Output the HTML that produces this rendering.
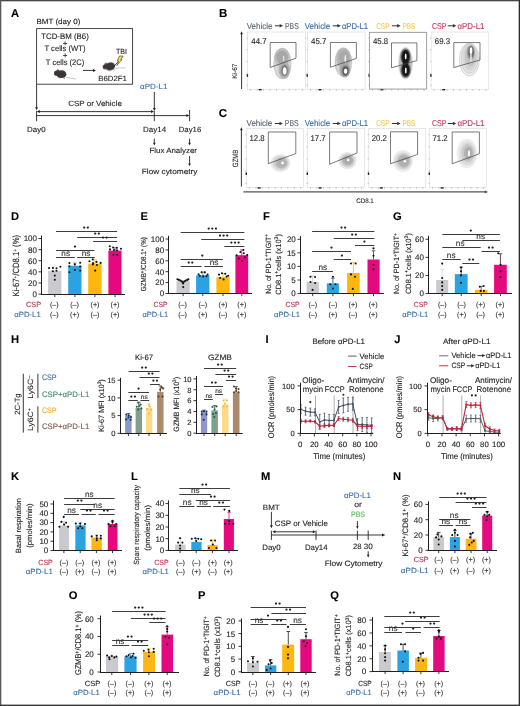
<!DOCTYPE html>
<html><head><meta charset="utf-8"><title>Figure</title>
<style>
html,body{margin:0;padding:0;background:#fff;}
body{width:520px;height:706px;overflow:hidden;}
svg{display:block;font-family:"Liberation Sans", sans-serif;will-change:transform;text-rendering:geometricPrecision;}
</style></head>
<body>
<svg width="520" height="706" viewBox="0 0 520 706">
<rect x="0" y="0" width="520" height="706" fill="#fff"/>
<defs><filter id="bl35" x="-40%" y="-40%" width="180%" height="180%"><feGaussianBlur stdDeviation="0.35"/></filter><filter id="bl55" x="-40%" y="-40%" width="180%" height="180%"><feGaussianBlur stdDeviation="0.55"/></filter><filter id="bl60" x="-40%" y="-40%" width="180%" height="180%"><feGaussianBlur stdDeviation="0.60"/></filter><filter id="bl70" x="-40%" y="-40%" width="180%" height="180%"><feGaussianBlur stdDeviation="0.70"/></filter></defs>
<text x="11.00" y="16.60" font-size="11.2" fill="#000" stroke="#000" stroke-width="0.1" font-weight="bold">A</text>
<text x="36.40" y="23.80" font-size="7.4" fill="#231f20" stroke="#231f20" stroke-width="0.12" textLength="44.00" lengthAdjust="spacingAndGlyphs">BMT (day 0)</text>
<rect x="36.6" y="28.6" width="96" height="55.6" fill="none" stroke="#333" stroke-width="0.9"/>
<text x="65.00" y="38.80" font-size="8.0" fill="#231f20" stroke="#231f20" stroke-width="0.12" text-anchor="middle" textLength="47.50" lengthAdjust="spacingAndGlyphs">TCD-BM (B6)</text>
<text x="65.00" y="45.60" font-size="8.0" fill="#231f20" stroke="#231f20" stroke-width="0.12" text-anchor="middle">+</text>
<text x="65.00" y="51.30" font-size="8.0" fill="#231f20" stroke="#231f20" stroke-width="0.12" text-anchor="middle" textLength="41.20" lengthAdjust="spacingAndGlyphs">T cells (WT)</text>
<text x="65.00" y="58.20" font-size="8.0" fill="#231f20" stroke="#231f20" stroke-width="0.12" text-anchor="middle">+</text>
<text x="65.00" y="64.50" font-size="8.0" fill="#231f20" stroke="#231f20" stroke-width="0.12" text-anchor="middle" textLength="38.30" lengthAdjust="spacingAndGlyphs">T cells (2C)</text>
<g transform="translate(54.00,69.20) rotate(0.0) scale(1.0)" filter="url(#bl35)"><path d="M11.6,8.2 C14.5,8.8 17.5,8.6 22.0,10.0" fill="none" stroke="#b9a5a8" stroke-width="0.7"/><ellipse cx="7.4" cy="5.0" rx="5.0" ry="3.9" fill="#3d3536"/><ellipse cx="3.0" cy="4.0" rx="3.0" ry="2.6" fill="#3d3536"/><ellipse cx="3.8" cy="1.6" rx="1.3" ry="1.2" fill="#4a4243"/><path d="M0.6,4.8 L0.0,5.6 L1.6,5.6 Z" fill="#3d3536"/><path d="M4.5,8.2 L5.5,9.0 M9.5,8.6 L10.8,9.2" stroke="#3d3536" stroke-width="0.8"/></g>
<line x1="83.00" y1="70.40" x2="93.50" y2="70.40" stroke="#231f20" stroke-width="0.9"/>
<path d="M93.00,68.90 L93.00,71.90 L96.00,70.40 Z" fill="#231f20" stroke="none" stroke-width="0.8"/>
<g transform="translate(101.80,63.40) rotate(-14) scale(1.0)" filter="url(#bl35)"><path d="M11.6,8.2 C14.5,8.8 17.5,8.6 22.0,10.0" fill="none" stroke="#b9a5a8" stroke-width="0.7"/><ellipse cx="7.4" cy="5.0" rx="5.0" ry="3.9" fill="#3d3536"/><ellipse cx="3.0" cy="4.0" rx="3.0" ry="2.6" fill="#3d3536"/><ellipse cx="3.8" cy="1.6" rx="1.3" ry="1.2" fill="#4a4243"/><path d="M0.6,4.8 L0.0,5.6 L1.6,5.6 Z" fill="#3d3536"/><path d="M4.5,8.2 L5.5,9.0 M9.5,8.6 L10.8,9.2" stroke="#3d3536" stroke-width="0.8"/></g>
<line x1="113.60" y1="66.60" x2="117.60" y2="62.20" stroke="#222" stroke-width="0.8"/>
<path d="M119.4,56.0 L123.2,56.0 L120.8,59.6 L122.0,59.6 L116.8,65.6 L118.6,61.2 L117.2,61.2 Z" fill="#efe04a" stroke="#222" stroke-width="0.55"/>
<text x="121.50" y="53.60" font-size="7.4" fill="#231f20" stroke="#231f20" stroke-width="0.12" text-anchor="middle" textLength="11.00" lengthAdjust="spacingAndGlyphs">TBI</text>
<text x="112.60" y="81.30" font-size="7.6" fill="#231f20" stroke="#231f20" stroke-width="0.12" text-anchor="middle" textLength="28.80" lengthAdjust="spacingAndGlyphs">B6D2F1</text>
<line x1="36.60" y1="84.20" x2="36.60" y2="107.70" stroke="#231f20" stroke-width="0.9"/>
<path d="M35.20,107.20 L38.00,107.20 L36.60,110.20 Z" fill="#231f20" stroke="none" stroke-width="0.8"/>
<text x="153.80" y="89.40" font-size="7.6" fill="#3b6fae" stroke="#3b6fae" stroke-width="0.12" text-anchor="middle" textLength="27.50" lengthAdjust="spacingAndGlyphs">&#945;PD-L1</text>
<line x1="154.30" y1="92.00" x2="154.30" y2="108.50" stroke="#231f20" stroke-width="0.9"/>
<path d="M152.90,108.00 L155.70,108.00 L154.30,111.00 Z" fill="#231f20" stroke="none" stroke-width="0.8"/>
<text x="95.00" y="106.00" font-size="7.6" fill="#231f20" stroke="#231f20" stroke-width="0.12" text-anchor="middle" textLength="53.70" lengthAdjust="spacingAndGlyphs">CSP or Vehicle</text>
<line x1="39.00" y1="111.60" x2="151.80" y2="111.60" stroke="#231f20" stroke-width="0.9"/>
<path d="M36.8,111.6 L39.8,110.1 L39.8,113.1 Z" fill="#231f20" stroke="none" stroke-width="0.8"/>
<path d="M154.0,111.6 L151.0,110.1 L151.0,113.1 Z" fill="#231f20" stroke="none" stroke-width="0.8"/>
<line x1="36.60" y1="115.60" x2="187.00" y2="115.60" stroke="#231f20" stroke-width="0.9"/>
<path d="M189.4,115.6 L186.4,114.1 L186.4,117.1 Z" fill="#231f20" stroke="none" stroke-width="0.8"/>
<line x1="36.60" y1="110.80" x2="36.60" y2="121.20" stroke="#231f20" stroke-width="0.9"/>
<line x1="154.30" y1="111.00" x2="154.30" y2="121.20" stroke="#231f20" stroke-width="0.9"/>
<line x1="189.60" y1="110.00" x2="189.60" y2="121.20" stroke="#231f20" stroke-width="0.9"/>
<text x="36.30" y="132.40" font-size="7.6" fill="#231f20" stroke="#231f20" stroke-width="0.12" text-anchor="middle" textLength="18.50" lengthAdjust="spacingAndGlyphs">Day0</text>
<text x="154.60" y="132.20" font-size="7.6" fill="#231f20" stroke="#231f20" stroke-width="0.12" text-anchor="middle" textLength="23.20" lengthAdjust="spacingAndGlyphs">Day14</text>
<text x="190.00" y="132.20" font-size="7.6" fill="#231f20" stroke="#231f20" stroke-width="0.12" text-anchor="middle" textLength="22.50" lengthAdjust="spacingAndGlyphs">Day16</text>
<line x1="154.30" y1="138.60" x2="154.30" y2="143.30" stroke="#231f20" stroke-width="0.9"/>
<path d="M153.00,142.80 L155.60,142.80 L154.30,145.40 Z" fill="#231f20" stroke="none" stroke-width="0.8"/>
<line x1="189.60" y1="138.60" x2="189.60" y2="143.30" stroke="#231f20" stroke-width="0.9"/>
<path d="M188.30,142.80 L190.90,142.80 L189.60,145.40 Z" fill="#231f20" stroke="none" stroke-width="0.8"/>
<text x="173.20" y="153.30" font-size="7.6" fill="#231f20" stroke="#231f20" stroke-width="0.12" text-anchor="middle" textLength="47.50" lengthAdjust="spacingAndGlyphs">Flux Analyzer</text>
<line x1="189.60" y1="156.00" x2="189.60" y2="164.10" stroke="#231f20" stroke-width="0.9"/>
<path d="M188.30,163.60 L190.90,163.60 L189.60,166.20 Z" fill="#231f20" stroke="none" stroke-width="0.8"/>
<text x="169.60" y="174.30" font-size="7.6" fill="#231f20" stroke="#231f20" stroke-width="0.12" text-anchor="middle" textLength="55.70" lengthAdjust="spacingAndGlyphs">Flow cytometry</text>
<text x="219.00" y="16.80" font-size="11.5" fill="#000" stroke="#000" stroke-width="0.1" font-weight="bold">B</text>
<line x1="241.60" y1="33.70" x2="241.60" y2="89.00" stroke="#231f20" stroke-width="0.9"/>
<path d="M240.30,34.20 L242.90,34.20 L241.60,31.20 Z" fill="#231f20" stroke="none" stroke-width="0.8"/>
<text x="237.20" y="71.20" font-size="6.8" fill="#231f20" stroke="#231f20" stroke-width="0.12" text-anchor="middle" textLength="15.00" lengthAdjust="spacingAndGlyphs" transform="rotate(-90 237.20 71.20)">Ki-67</text>
<rect x="247.70" y="32.00" width="57.60" height="57.20" fill="none" stroke="#d4d4d4" stroke-width="0.55"/>
<line x1="250.70" y1="89.20" x2="250.70" y2="90.60" stroke="#777" stroke-width="0.5"/>
<line x1="257.15" y1="89.20" x2="257.15" y2="90.60" stroke="#777" stroke-width="0.5"/>
<line x1="263.60" y1="89.20" x2="263.60" y2="90.60" stroke="#777" stroke-width="0.5"/>
<line x1="270.05" y1="89.20" x2="270.05" y2="90.60" stroke="#777" stroke-width="0.5"/>
<line x1="276.50" y1="89.20" x2="276.50" y2="90.60" stroke="#777" stroke-width="0.5"/>
<line x1="282.95" y1="89.20" x2="282.95" y2="90.60" stroke="#777" stroke-width="0.5"/>
<line x1="289.40" y1="89.20" x2="289.40" y2="90.60" stroke="#777" stroke-width="0.5"/>
<line x1="295.85" y1="89.20" x2="295.85" y2="90.60" stroke="#777" stroke-width="0.5"/>
<line x1="302.30" y1="89.20" x2="302.30" y2="90.60" stroke="#777" stroke-width="0.5"/>
<line x1="246.50" y1="38.00" x2="247.70" y2="38.00" stroke="#888" stroke-width="0.5"/>
<line x1="246.50" y1="49.80" x2="247.70" y2="49.80" stroke="#888" stroke-width="0.5"/>
<line x1="246.50" y1="61.60" x2="247.70" y2="61.60" stroke="#888" stroke-width="0.5"/>
<line x1="246.50" y1="73.40" x2="247.70" y2="73.40" stroke="#888" stroke-width="0.5"/>
<line x1="246.50" y1="85.20" x2="247.70" y2="85.20" stroke="#888" stroke-width="0.5"/>
<rect x="246.70" y="74.20" width="1.4" height="2.6" fill="#222"/>
<rect x="258.70" y="89.00" width="3" height="1.4" fill="#222"/>
<text x="246.70" y="28.50" font-size="8.5" fill="#5c6670" stroke="#5c6670" stroke-width="0.12" textLength="25.80" lengthAdjust="spacingAndGlyphs">Vehicle</text>
<line x1="275.00" y1="25.80" x2="280.50" y2="25.80" stroke="#333" stroke-width="1.0"/>
<path d="M279.70,24.10 L283.10,25.80 L279.70,27.50 Z" fill="#333" stroke="none" stroke-width="0.8"/>
<text x="285.00" y="28.50" font-size="8.5" fill="#5c6670" stroke="#5c6670" stroke-width="0.12" textLength="13.80" lengthAdjust="spacingAndGlyphs">PBS</text>
<rect x="307.50" y="32.00" width="57.60" height="57.20" fill="none" stroke="#d4d4d4" stroke-width="0.55"/>
<line x1="310.50" y1="89.20" x2="310.50" y2="90.60" stroke="#777" stroke-width="0.5"/>
<line x1="316.95" y1="89.20" x2="316.95" y2="90.60" stroke="#777" stroke-width="0.5"/>
<line x1="323.40" y1="89.20" x2="323.40" y2="90.60" stroke="#777" stroke-width="0.5"/>
<line x1="329.85" y1="89.20" x2="329.85" y2="90.60" stroke="#777" stroke-width="0.5"/>
<line x1="336.30" y1="89.20" x2="336.30" y2="90.60" stroke="#777" stroke-width="0.5"/>
<line x1="342.75" y1="89.20" x2="342.75" y2="90.60" stroke="#777" stroke-width="0.5"/>
<line x1="349.20" y1="89.20" x2="349.20" y2="90.60" stroke="#777" stroke-width="0.5"/>
<line x1="355.65" y1="89.20" x2="355.65" y2="90.60" stroke="#777" stroke-width="0.5"/>
<line x1="362.10" y1="89.20" x2="362.10" y2="90.60" stroke="#777" stroke-width="0.5"/>
<line x1="306.30" y1="38.00" x2="307.50" y2="38.00" stroke="#888" stroke-width="0.5"/>
<line x1="306.30" y1="49.80" x2="307.50" y2="49.80" stroke="#888" stroke-width="0.5"/>
<line x1="306.30" y1="61.60" x2="307.50" y2="61.60" stroke="#888" stroke-width="0.5"/>
<line x1="306.30" y1="73.40" x2="307.50" y2="73.40" stroke="#888" stroke-width="0.5"/>
<line x1="306.30" y1="85.20" x2="307.50" y2="85.20" stroke="#888" stroke-width="0.5"/>
<rect x="306.50" y="74.20" width="1.4" height="2.6" fill="#222"/>
<rect x="318.50" y="89.00" width="3" height="1.4" fill="#222"/>
<text x="304.70" y="28.50" font-size="8.5" fill="#3d6ea6" stroke="#3d6ea6" stroke-width="0.12" textLength="25.60" lengthAdjust="spacingAndGlyphs">Vehicle</text>
<line x1="332.70" y1="25.80" x2="338.20" y2="25.80" stroke="#333" stroke-width="1.0"/>
<path d="M337.40,24.10 L340.80,25.80 L337.40,27.50 Z" fill="#333" stroke="none" stroke-width="0.8"/>
<text x="341.90" y="28.50" font-size="8.5" fill="#3d6ea6" stroke="#3d6ea6" stroke-width="0.12" textLength="26.20" lengthAdjust="spacingAndGlyphs">&#945;PD-L1</text>
<rect x="369.40" y="32.00" width="57.60" height="57.20" fill="none" stroke="#d4d4d4" stroke-width="0.55"/>
<line x1="372.40" y1="89.20" x2="372.40" y2="90.60" stroke="#777" stroke-width="0.5"/>
<line x1="378.85" y1="89.20" x2="378.85" y2="90.60" stroke="#777" stroke-width="0.5"/>
<line x1="385.30" y1="89.20" x2="385.30" y2="90.60" stroke="#777" stroke-width="0.5"/>
<line x1="391.75" y1="89.20" x2="391.75" y2="90.60" stroke="#777" stroke-width="0.5"/>
<line x1="398.20" y1="89.20" x2="398.20" y2="90.60" stroke="#777" stroke-width="0.5"/>
<line x1="404.65" y1="89.20" x2="404.65" y2="90.60" stroke="#777" stroke-width="0.5"/>
<line x1="411.10" y1="89.20" x2="411.10" y2="90.60" stroke="#777" stroke-width="0.5"/>
<line x1="417.55" y1="89.20" x2="417.55" y2="90.60" stroke="#777" stroke-width="0.5"/>
<line x1="424.00" y1="89.20" x2="424.00" y2="90.60" stroke="#777" stroke-width="0.5"/>
<line x1="368.20" y1="38.00" x2="369.40" y2="38.00" stroke="#888" stroke-width="0.5"/>
<line x1="368.20" y1="49.80" x2="369.40" y2="49.80" stroke="#888" stroke-width="0.5"/>
<line x1="368.20" y1="61.60" x2="369.40" y2="61.60" stroke="#888" stroke-width="0.5"/>
<line x1="368.20" y1="73.40" x2="369.40" y2="73.40" stroke="#888" stroke-width="0.5"/>
<line x1="368.20" y1="85.20" x2="369.40" y2="85.20" stroke="#888" stroke-width="0.5"/>
<rect x="368.40" y="74.20" width="1.4" height="2.6" fill="#222"/>
<rect x="380.40" y="89.00" width="3" height="1.4" fill="#222"/>
<text x="376.20" y="28.50" font-size="8.5" fill="#f2c95a" stroke="#f2c95a" stroke-width="0.12" textLength="13.30" lengthAdjust="spacingAndGlyphs">CSP</text>
<line x1="391.90" y1="25.80" x2="398.00" y2="25.80" stroke="#333" stroke-width="1.0"/>
<path d="M397.20,24.10 L400.60,25.80 L397.20,27.50 Z" fill="#333" stroke="none" stroke-width="0.8"/>
<text x="402.50" y="28.50" font-size="8.5" fill="#f2c95a" stroke="#f2c95a" stroke-width="0.12" textLength="12.90" lengthAdjust="spacingAndGlyphs">PBS</text>
<rect x="431.20" y="32.00" width="57.60" height="57.20" fill="none" stroke="#d4d4d4" stroke-width="0.55"/>
<line x1="434.20" y1="89.20" x2="434.20" y2="90.60" stroke="#777" stroke-width="0.5"/>
<line x1="440.65" y1="89.20" x2="440.65" y2="90.60" stroke="#777" stroke-width="0.5"/>
<line x1="447.10" y1="89.20" x2="447.10" y2="90.60" stroke="#777" stroke-width="0.5"/>
<line x1="453.55" y1="89.20" x2="453.55" y2="90.60" stroke="#777" stroke-width="0.5"/>
<line x1="460.00" y1="89.20" x2="460.00" y2="90.60" stroke="#777" stroke-width="0.5"/>
<line x1="466.45" y1="89.20" x2="466.45" y2="90.60" stroke="#777" stroke-width="0.5"/>
<line x1="472.90" y1="89.20" x2="472.90" y2="90.60" stroke="#777" stroke-width="0.5"/>
<line x1="479.35" y1="89.20" x2="479.35" y2="90.60" stroke="#777" stroke-width="0.5"/>
<line x1="485.80" y1="89.20" x2="485.80" y2="90.60" stroke="#777" stroke-width="0.5"/>
<line x1="430.00" y1="38.00" x2="431.20" y2="38.00" stroke="#888" stroke-width="0.5"/>
<line x1="430.00" y1="49.80" x2="431.20" y2="49.80" stroke="#888" stroke-width="0.5"/>
<line x1="430.00" y1="61.60" x2="431.20" y2="61.60" stroke="#888" stroke-width="0.5"/>
<line x1="430.00" y1="73.40" x2="431.20" y2="73.40" stroke="#888" stroke-width="0.5"/>
<line x1="430.00" y1="85.20" x2="431.20" y2="85.20" stroke="#888" stroke-width="0.5"/>
<rect x="430.20" y="74.20" width="1.4" height="2.6" fill="#222"/>
<rect x="442.20" y="89.00" width="3" height="1.4" fill="#222"/>
<text x="432.00" y="28.50" font-size="8.5" fill="#c8385a" stroke="#c8385a" stroke-width="0.12" textLength="14.50" lengthAdjust="spacingAndGlyphs">CSP</text>
<line x1="447.80" y1="25.80" x2="453.70" y2="25.80" stroke="#333" stroke-width="1.0"/>
<path d="M452.90,24.10 L456.30,25.80 L452.90,27.50 Z" fill="#333" stroke="none" stroke-width="0.8"/>
<text x="457.40" y="28.50" font-size="8.5" fill="#c8385a" stroke="#c8385a" stroke-width="0.12" textLength="27.10" lengthAdjust="spacingAndGlyphs">&#945;PD-L1</text>
<text x="251.30" y="43.80" font-size="8.4" fill="#231f20" stroke="#231f20" stroke-width="0.12" textLength="15.20" lengthAdjust="spacingAndGlyphs">44.7</text>
<text x="311.10" y="43.80" font-size="8.4" fill="#231f20" stroke="#231f20" stroke-width="0.12" textLength="15.20" lengthAdjust="spacingAndGlyphs">45.7</text>
<text x="373.00" y="43.80" font-size="8.4" fill="#231f20" stroke="#231f20" stroke-width="0.12" textLength="15.20" lengthAdjust="spacingAndGlyphs">45.8</text>
<text x="434.80" y="43.80" font-size="8.4" fill="#231f20" stroke="#231f20" stroke-width="0.12" textLength="15.20" lengthAdjust="spacingAndGlyphs">69.3</text>
<g filter="url(#bl55)"><ellipse cx="282.40" cy="63.50" rx="9.00" ry="15.80" fill="#d9d9d9"/><ellipse cx="282.00" cy="57.60" rx="7.80" ry="9.40" fill="#bebebe"/><ellipse cx="284.30" cy="70.00" rx="5.80" ry="8.80" fill="#b5b5b5"/><ellipse cx="282.20" cy="57.20" rx="5.80" ry="6.80" fill="#a8a8a8"/><ellipse cx="284.50" cy="70.30" rx="4.20" ry="6.40" fill="#9c9c9c"/><ellipse cx="284.60" cy="70.60" rx="3.00" ry="5.00" fill="#767676"/><ellipse cx="284.70" cy="70.90" rx="1.90" ry="3.60" fill="#ffffff"/><ellipse cx="283.60" cy="58.60" rx="0.80" ry="3.00" fill="#dedede"/></g>
<ellipse cx="282.4" cy="63.5" rx="8.6" ry="15.4" fill="none" stroke="#a8a8a8" stroke-width="0.35"/>
<path d="M270.20,42.50 L296.00,42.50 L296.00,58.20 L270.20,67.50 Z" fill="none" stroke="#444" stroke-width="0.7"/>
<g filter="url(#bl55)"><ellipse cx="343.40" cy="62.20" rx="8.60" ry="14.60" fill="#d4d4d4"/><ellipse cx="343.60" cy="58.40" rx="7.20" ry="10.20" fill="#b5b5b5"/><ellipse cx="345.00" cy="69.80" rx="5.40" ry="7.60" fill="#a8a8a8"/><ellipse cx="344.20" cy="57.60" rx="5.00" ry="7.00" fill="#a8a8a8"/><ellipse cx="345.40" cy="70.60" rx="3.80" ry="5.40" fill="#808080"/><ellipse cx="345.50" cy="71.00" rx="2.80" ry="4.20" fill="#5a5a5a"/><ellipse cx="345.60" cy="71.30" rx="1.70" ry="2.80" fill="#ffffff"/><ellipse cx="345.30" cy="58.80" rx="0.90" ry="3.80" fill="#ececec"/></g>
<ellipse cx="343.4" cy="62.2" rx="8.4" ry="14.4" fill="none" stroke="#a0a0a0" stroke-width="0.35"/>
<path d="M330.40,42.50 L356.40,42.50 L356.40,58.40 L330.40,67.20 Z" fill="none" stroke="#444" stroke-width="0.7"/>
<rect x="369.6" y="32.4" width="57.0" height="56.6" fill="none" stroke="#8a8a8a" stroke-width="0.7"/>
<g filter="url(#bl70)"><ellipse cx="405.50" cy="63.20" rx="7.60" ry="16.40" fill="#e4e4e4"/><ellipse cx="405.50" cy="63.20" rx="6.60" ry="15.40" fill="#c0c0c0"/><ellipse cx="405.50" cy="56.80" rx="5.40" ry="8.40" fill="#8a8a8a"/><ellipse cx="405.60" cy="70.00" rx="5.40" ry="8.00" fill="#8a8a8a"/><ellipse cx="405.60" cy="57.00" rx="4.40" ry="7.40" fill="#3a3a3a"/><ellipse cx="405.70" cy="70.00" rx="4.40" ry="7.00" fill="#3a3a3a"/><ellipse cx="405.60" cy="57.00" rx="3.40" ry="6.40" fill="#161616"/><ellipse cx="405.70" cy="70.00" rx="3.40" ry="6.00" fill="#161616"/><ellipse cx="405.60" cy="63.40" rx="2.60" ry="3.60" fill="#1a1a1a"/><ellipse cx="405.70" cy="56.40" rx="0.90" ry="2.80" fill="#ffffff"/><ellipse cx="405.80" cy="70.60" rx="0.90" ry="3.00" fill="#ffffff"/></g>
<path d="M391.50,42.90 L416.90,42.90 L416.90,60.60 L391.50,67.80 Z" fill="none" stroke="#444" stroke-width="0.7"/>
<g filter="url(#bl60)"><ellipse cx="469.40" cy="59.60" rx="10.20" ry="16.60" fill="#f0f0f0"/><ellipse cx="469.60" cy="58.60" rx="8.60" ry="15.00" fill="#e2e2e2"/><ellipse cx="470.00" cy="57.40" rx="7.00" ry="13.00" fill="#d4d4d4"/><ellipse cx="470.40" cy="56.00" rx="5.40" ry="10.60" fill="#c4c4c4"/><ellipse cx="470.80" cy="52.60" rx="4.00" ry="7.40" fill="#a0a0a0"/><ellipse cx="471.00" cy="52.00" rx="3.00" ry="6.00" fill="#6e6e6e"/><ellipse cx="471.00" cy="58.00" rx="0.90" ry="6.00" fill="#dddddd"/><ellipse cx="471.00" cy="50.60" rx="1.30" ry="3.40" fill="#ffffff"/></g>
<ellipse cx="469.4" cy="59.6" rx="10.0" ry="16.4" fill="none" stroke="#aaa" stroke-width="0.4"/>
<ellipse cx="469.6" cy="58.6" rx="8.4" ry="14.8" fill="none" stroke="#b0b0b0" stroke-width="0.4"/>
<path d="M453.80,42.60 L480.00,42.60 L480.00,60.00 L453.80,67.50 Z" fill="none" stroke="#444" stroke-width="0.7"/>
<text x="218.80" y="116.60" font-size="11.5" fill="#000" stroke="#000" stroke-width="0.1" font-weight="bold">C</text>
<line x1="241.40" y1="129.70" x2="241.40" y2="186.60" stroke="#231f20" stroke-width="0.9"/>
<path d="M240.10,130.20 L242.70,130.20 L241.40,127.20 Z" fill="#231f20" stroke="none" stroke-width="0.8"/>
<text x="237.60" y="158.40" font-size="7.6" fill="#231f20" stroke="#231f20" stroke-width="0.12" text-anchor="middle" textLength="17.50" lengthAdjust="spacingAndGlyphs" transform="rotate(-90 237.60 158.40)">GZMB</text>
<rect x="246.60" y="128.60" width="57.00" height="58.80" fill="none" stroke="#d4d4d4" stroke-width="0.55"/>
<line x1="249.60" y1="187.40" x2="249.60" y2="188.80" stroke="#777" stroke-width="0.5"/>
<line x1="255.97" y1="187.40" x2="255.97" y2="188.80" stroke="#777" stroke-width="0.5"/>
<line x1="262.35" y1="187.40" x2="262.35" y2="188.80" stroke="#777" stroke-width="0.5"/>
<line x1="268.73" y1="187.40" x2="268.73" y2="188.80" stroke="#777" stroke-width="0.5"/>
<line x1="275.10" y1="187.40" x2="275.10" y2="188.80" stroke="#777" stroke-width="0.5"/>
<line x1="281.48" y1="187.40" x2="281.48" y2="188.80" stroke="#777" stroke-width="0.5"/>
<line x1="287.85" y1="187.40" x2="287.85" y2="188.80" stroke="#777" stroke-width="0.5"/>
<line x1="294.23" y1="187.40" x2="294.23" y2="188.80" stroke="#777" stroke-width="0.5"/>
<line x1="300.60" y1="187.40" x2="300.60" y2="188.80" stroke="#777" stroke-width="0.5"/>
<line x1="245.40" y1="134.60" x2="246.60" y2="134.60" stroke="#888" stroke-width="0.5"/>
<line x1="245.40" y1="146.80" x2="246.60" y2="146.80" stroke="#888" stroke-width="0.5"/>
<line x1="245.40" y1="159.00" x2="246.60" y2="159.00" stroke="#888" stroke-width="0.5"/>
<line x1="245.40" y1="171.20" x2="246.60" y2="171.20" stroke="#888" stroke-width="0.5"/>
<line x1="245.40" y1="183.40" x2="246.60" y2="183.40" stroke="#888" stroke-width="0.5"/>
<rect x="245.60" y="172.40" width="1.4" height="2.6" fill="#222"/>
<rect x="257.60" y="187.20" width="3" height="1.4" fill="#222"/>
<text x="246.50" y="126.20" font-size="8.5" fill="#5c6670" stroke="#5c6670" stroke-width="0.12" textLength="25.80" lengthAdjust="spacingAndGlyphs">Vehicle</text>
<line x1="274.80" y1="123.50" x2="280.30" y2="123.50" stroke="#333" stroke-width="1.0"/>
<path d="M279.50,121.80 L282.90,123.50 L279.50,125.20 Z" fill="#333" stroke="none" stroke-width="0.8"/>
<text x="284.80" y="126.20" font-size="8.5" fill="#5c6670" stroke="#5c6670" stroke-width="0.12" textLength="13.80" lengthAdjust="spacingAndGlyphs">PBS</text>
<rect x="307.60" y="128.60" width="57.00" height="58.80" fill="none" stroke="#d4d4d4" stroke-width="0.55"/>
<line x1="310.60" y1="187.40" x2="310.60" y2="188.80" stroke="#777" stroke-width="0.5"/>
<line x1="316.98" y1="187.40" x2="316.98" y2="188.80" stroke="#777" stroke-width="0.5"/>
<line x1="323.35" y1="187.40" x2="323.35" y2="188.80" stroke="#777" stroke-width="0.5"/>
<line x1="329.73" y1="187.40" x2="329.73" y2="188.80" stroke="#777" stroke-width="0.5"/>
<line x1="336.10" y1="187.40" x2="336.10" y2="188.80" stroke="#777" stroke-width="0.5"/>
<line x1="342.48" y1="187.40" x2="342.48" y2="188.80" stroke="#777" stroke-width="0.5"/>
<line x1="348.85" y1="187.40" x2="348.85" y2="188.80" stroke="#777" stroke-width="0.5"/>
<line x1="355.23" y1="187.40" x2="355.23" y2="188.80" stroke="#777" stroke-width="0.5"/>
<line x1="361.60" y1="187.40" x2="361.60" y2="188.80" stroke="#777" stroke-width="0.5"/>
<line x1="306.40" y1="134.60" x2="307.60" y2="134.60" stroke="#888" stroke-width="0.5"/>
<line x1="306.40" y1="146.80" x2="307.60" y2="146.80" stroke="#888" stroke-width="0.5"/>
<line x1="306.40" y1="159.00" x2="307.60" y2="159.00" stroke="#888" stroke-width="0.5"/>
<line x1="306.40" y1="171.20" x2="307.60" y2="171.20" stroke="#888" stroke-width="0.5"/>
<line x1="306.40" y1="183.40" x2="307.60" y2="183.40" stroke="#888" stroke-width="0.5"/>
<rect x="306.60" y="172.40" width="1.4" height="2.6" fill="#222"/>
<rect x="318.60" y="187.20" width="3" height="1.4" fill="#222"/>
<text x="304.70" y="126.20" font-size="8.5" fill="#3d6ea6" stroke="#3d6ea6" stroke-width="0.12" textLength="25.60" lengthAdjust="spacingAndGlyphs">Vehicle</text>
<line x1="332.70" y1="123.50" x2="338.20" y2="123.50" stroke="#333" stroke-width="1.0"/>
<path d="M337.40,121.80 L340.80,123.50 L337.40,125.20 Z" fill="#333" stroke="none" stroke-width="0.8"/>
<text x="341.90" y="126.20" font-size="8.5" fill="#3d6ea6" stroke="#3d6ea6" stroke-width="0.12" textLength="26.20" lengthAdjust="spacingAndGlyphs">&#945;PD-L1</text>
<rect x="368.80" y="128.60" width="57.00" height="58.80" fill="none" stroke="#d4d4d4" stroke-width="0.55"/>
<line x1="371.80" y1="187.40" x2="371.80" y2="188.80" stroke="#777" stroke-width="0.5"/>
<line x1="378.18" y1="187.40" x2="378.18" y2="188.80" stroke="#777" stroke-width="0.5"/>
<line x1="384.55" y1="187.40" x2="384.55" y2="188.80" stroke="#777" stroke-width="0.5"/>
<line x1="390.93" y1="187.40" x2="390.93" y2="188.80" stroke="#777" stroke-width="0.5"/>
<line x1="397.30" y1="187.40" x2="397.30" y2="188.80" stroke="#777" stroke-width="0.5"/>
<line x1="403.68" y1="187.40" x2="403.68" y2="188.80" stroke="#777" stroke-width="0.5"/>
<line x1="410.05" y1="187.40" x2="410.05" y2="188.80" stroke="#777" stroke-width="0.5"/>
<line x1="416.43" y1="187.40" x2="416.43" y2="188.80" stroke="#777" stroke-width="0.5"/>
<line x1="422.80" y1="187.40" x2="422.80" y2="188.80" stroke="#777" stroke-width="0.5"/>
<line x1="367.60" y1="134.60" x2="368.80" y2="134.60" stroke="#888" stroke-width="0.5"/>
<line x1="367.60" y1="146.80" x2="368.80" y2="146.80" stroke="#888" stroke-width="0.5"/>
<line x1="367.60" y1="159.00" x2="368.80" y2="159.00" stroke="#888" stroke-width="0.5"/>
<line x1="367.60" y1="171.20" x2="368.80" y2="171.20" stroke="#888" stroke-width="0.5"/>
<line x1="367.60" y1="183.40" x2="368.80" y2="183.40" stroke="#888" stroke-width="0.5"/>
<rect x="367.80" y="172.40" width="1.4" height="2.6" fill="#222"/>
<rect x="379.80" y="187.20" width="3" height="1.4" fill="#222"/>
<text x="376.20" y="126.20" font-size="8.5" fill="#f2c95a" stroke="#f2c95a" stroke-width="0.12" textLength="13.30" lengthAdjust="spacingAndGlyphs">CSP</text>
<line x1="391.90" y1="123.50" x2="398.00" y2="123.50" stroke="#333" stroke-width="1.0"/>
<path d="M397.20,121.80 L400.60,123.50 L397.20,125.20 Z" fill="#333" stroke="none" stroke-width="0.8"/>
<text x="402.50" y="126.20" font-size="8.5" fill="#f2c95a" stroke="#f2c95a" stroke-width="0.12" textLength="12.90" lengthAdjust="spacingAndGlyphs">PBS</text>
<rect x="429.60" y="128.60" width="57.00" height="58.80" fill="none" stroke="#d4d4d4" stroke-width="0.55"/>
<line x1="432.60" y1="187.40" x2="432.60" y2="188.80" stroke="#777" stroke-width="0.5"/>
<line x1="438.98" y1="187.40" x2="438.98" y2="188.80" stroke="#777" stroke-width="0.5"/>
<line x1="445.35" y1="187.40" x2="445.35" y2="188.80" stroke="#777" stroke-width="0.5"/>
<line x1="451.73" y1="187.40" x2="451.73" y2="188.80" stroke="#777" stroke-width="0.5"/>
<line x1="458.10" y1="187.40" x2="458.10" y2="188.80" stroke="#777" stroke-width="0.5"/>
<line x1="464.48" y1="187.40" x2="464.48" y2="188.80" stroke="#777" stroke-width="0.5"/>
<line x1="470.85" y1="187.40" x2="470.85" y2="188.80" stroke="#777" stroke-width="0.5"/>
<line x1="477.23" y1="187.40" x2="477.23" y2="188.80" stroke="#777" stroke-width="0.5"/>
<line x1="483.60" y1="187.40" x2="483.60" y2="188.80" stroke="#777" stroke-width="0.5"/>
<line x1="428.40" y1="134.60" x2="429.60" y2="134.60" stroke="#888" stroke-width="0.5"/>
<line x1="428.40" y1="146.80" x2="429.60" y2="146.80" stroke="#888" stroke-width="0.5"/>
<line x1="428.40" y1="159.00" x2="429.60" y2="159.00" stroke="#888" stroke-width="0.5"/>
<line x1="428.40" y1="171.20" x2="429.60" y2="171.20" stroke="#888" stroke-width="0.5"/>
<line x1="428.40" y1="183.40" x2="429.60" y2="183.40" stroke="#888" stroke-width="0.5"/>
<rect x="428.60" y="172.40" width="1.4" height="2.6" fill="#222"/>
<rect x="440.60" y="187.20" width="3" height="1.4" fill="#222"/>
<text x="432.00" y="126.20" font-size="8.5" fill="#c8385a" stroke="#c8385a" stroke-width="0.12" textLength="14.50" lengthAdjust="spacingAndGlyphs">CSP</text>
<line x1="447.80" y1="123.50" x2="453.70" y2="123.50" stroke="#333" stroke-width="1.0"/>
<path d="M452.90,121.80 L456.30,123.50 L452.90,125.20 Z" fill="#333" stroke="none" stroke-width="0.8"/>
<text x="457.40" y="126.20" font-size="8.5" fill="#c8385a" stroke="#c8385a" stroke-width="0.12" textLength="27.10" lengthAdjust="spacingAndGlyphs">&#945;PD-L1</text>
<text x="249.50" y="141.40" font-size="8.4" fill="#231f20" stroke="#231f20" stroke-width="0.12" textLength="15.20" lengthAdjust="spacingAndGlyphs">12.8</text>
<text x="310.50" y="141.40" font-size="8.4" fill="#231f20" stroke="#231f20" stroke-width="0.12" textLength="15.20" lengthAdjust="spacingAndGlyphs">17.7</text>
<text x="371.70" y="141.40" font-size="8.4" fill="#231f20" stroke="#231f20" stroke-width="0.12" textLength="15.20" lengthAdjust="spacingAndGlyphs">20.2</text>
<text x="432.50" y="141.40" font-size="8.4" fill="#231f20" stroke="#231f20" stroke-width="0.12" textLength="15.20" lengthAdjust="spacingAndGlyphs">71.2</text>
<g filter="url(#bl60)"><ellipse cx="280.40" cy="163.00" rx="10.00" ry="8.90" fill="#e9e9e9"/><ellipse cx="280.80" cy="163.00" rx="8.00" ry="7.20" fill="#d3d3d3"/><ellipse cx="281.40" cy="163.00" rx="6.00" ry="5.40" fill="#b8b8b8"/><ellipse cx="282.00" cy="163.00" rx="3.80" ry="3.50" fill="#b0b0b0"/><ellipse cx="282.60" cy="163.00" rx="1.40" ry="1.40" fill="#ffffff"/></g>
<path d="M268.30,132.00 L295.80,132.00 L295.80,153.60 L268.30,163.60 Z" fill="none" stroke="#444" stroke-width="0.7"/>
<g filter="url(#bl60)"><ellipse cx="347.40" cy="160.60" rx="9.20" ry="8.60" fill="#e9e9e9"/><ellipse cx="347.60" cy="160.50" rx="7.40" ry="6.90" fill="#d2d2d2"/><ellipse cx="347.80" cy="160.40" rx="5.40" ry="5.00" fill="#b2b2b2"/><ellipse cx="348.00" cy="160.20" rx="3.40" ry="3.20" fill="#aaaaaa"/><ellipse cx="348.20" cy="160.00" rx="1.30" ry="1.30" fill="#ffffff"/></g>
<path d="M329.60,132.00 L357.00,132.00 L357.00,153.00 L329.60,164.20 Z" fill="none" stroke="#444" stroke-width="0.7"/>
<g filter="url(#bl60)"><ellipse cx="403.00" cy="161.00" rx="10.00" ry="10.80" fill="#e9e9e9"/><ellipse cx="403.40" cy="161.00" rx="8.00" ry="8.60" fill="#d2d2d2"/><ellipse cx="403.80" cy="161.00" rx="6.00" ry="6.40" fill="#b5b5b5"/><ellipse cx="404.40" cy="161.10" rx="3.80" ry="4.00" fill="#aeaeae"/><ellipse cx="404.90" cy="161.20" rx="1.30" ry="1.30" fill="#ffffff"/></g>
<path d="M390.50,131.80 L417.60,131.80 L417.60,154.40 L390.50,163.80 Z" fill="none" stroke="#444" stroke-width="0.7"/>
<g filter="url(#bl60)"><ellipse cx="467.00" cy="153.60" rx="10.40" ry="14.80" fill="#ededed"/><ellipse cx="467.40" cy="153.40" rx="8.40" ry="12.00" fill="#dddddd"/><ellipse cx="467.80" cy="153.20" rx="6.40" ry="9.40" fill="#c9c9c9"/><ellipse cx="468.40" cy="153.20" rx="4.20" ry="6.60" fill="#afafaf"/><ellipse cx="469.00" cy="153.40" rx="1.00" ry="3.20" fill="#ffffff"/></g>
<path d="M452.20,132.00 L479.40,132.00 L479.40,153.80 L452.20,163.80 Z" fill="none" stroke="#444" stroke-width="0.7"/>
<line x1="243.40" y1="191.90" x2="485.30" y2="191.90" stroke="#555" stroke-width="1.4"/>
<path d="M484.80,190.30 L484.80,193.50 L488.00,191.90 Z" fill="#555" stroke="none" stroke-width="0.8"/>
<text x="365.00" y="203.20" font-size="6.6" fill="#231f20" stroke="#231f20" stroke-width="0.12" text-anchor="middle" textLength="17.50" lengthAdjust="spacingAndGlyphs">CD8.1</text>
<rect x="48.10" y="270.80" width="13.30" height="23.70" fill="#cacace"/>
<rect x="68.20" y="265.80" width="13.30" height="28.70" fill="#2ba3e1"/>
<rect x="88.20" y="263.60" width="13.40" height="30.90" fill="#fdb70e"/>
<rect x="108.40" y="250.60" width="13.10" height="43.90" fill="#e5097f"/>
<line x1="74.90" y1="263.00" x2="74.90" y2="269.00" stroke="#2ba3e1" stroke-width="0.8"/>
<line x1="73.10" y1="263.00" x2="76.70" y2="263.00" stroke="#2ba3e1" stroke-width="0.8"/>
<line x1="94.90" y1="259.80" x2="94.90" y2="265.80" stroke="#fdb70e" stroke-width="0.8"/>
<line x1="93.10" y1="259.80" x2="96.70" y2="259.80" stroke="#fdb70e" stroke-width="0.8"/>
<line x1="115.00" y1="247.80" x2="115.00" y2="253.80" stroke="#e5097f" stroke-width="0.8"/>
<line x1="113.20" y1="247.80" x2="116.80" y2="247.80" stroke="#e5097f" stroke-width="0.8"/>
<circle cx="49.10" cy="268.10" r="1.05" fill="#111"/>
<circle cx="52.90" cy="267.90" r="1.05" fill="#111"/>
<circle cx="56.50" cy="268.20" r="1.05" fill="#111"/>
<circle cx="60.40" cy="266.70" r="1.05" fill="#111"/>
<circle cx="52.90" cy="271.20" r="1.05" fill="#111"/>
<circle cx="56.50" cy="270.80" r="1.05" fill="#111"/>
<circle cx="54.80" cy="275.60" r="1.05" fill="#111"/>
<circle cx="54.80" cy="279.80" r="1.05" fill="#111"/>
<circle cx="69.40" cy="263.10" r="1.05" fill="#111"/>
<circle cx="74.80" cy="264.40" r="1.05" fill="#111"/>
<circle cx="80.20" cy="262.80" r="1.05" fill="#111"/>
<circle cx="69.40" cy="266.30" r="1.05" fill="#111"/>
<circle cx="80.20" cy="266.50" r="1.05" fill="#111"/>
<circle cx="69.40" cy="272.20" r="1.05" fill="#111"/>
<circle cx="74.80" cy="270.00" r="1.05" fill="#111"/>
<circle cx="80.20" cy="270.60" r="1.05" fill="#111"/>
<circle cx="89.40" cy="261.20" r="1.05" fill="#111"/>
<circle cx="92.80" cy="259.40" r="1.05" fill="#111"/>
<circle cx="93.10" cy="263.10" r="1.05" fill="#111"/>
<circle cx="96.50" cy="261.90" r="1.05" fill="#111"/>
<circle cx="96.90" cy="265.00" r="1.05" fill="#111"/>
<circle cx="100.60" cy="262.90" r="1.05" fill="#111"/>
<circle cx="95.20" cy="270.60" r="1.05" fill="#111"/>
<circle cx="92.80" cy="264.40" r="1.05" fill="#111"/>
<circle cx="109.80" cy="246.20" r="1.05" fill="#111"/>
<circle cx="113.10" cy="247.50" r="1.05" fill="#111"/>
<circle cx="116.90" cy="247.80" r="1.05" fill="#111"/>
<circle cx="121.00" cy="248.80" r="1.05" fill="#111"/>
<circle cx="110.00" cy="249.40" r="1.05" fill="#111"/>
<circle cx="114.00" cy="250.00" r="1.05" fill="#111"/>
<circle cx="113.50" cy="254.80" r="1.05" fill="#111"/>
<circle cx="117.20" cy="254.80" r="1.05" fill="#111"/>
<circle cx="116.90" cy="250.20" r="1.05" fill="#111"/>
<line x1="41.50" y1="235.60" x2="41.50" y2="294.95" stroke="#231f20" stroke-width="1.0"/>
<line x1="41.05" y1="294.50" x2="125.00" y2="294.50" stroke="#231f20" stroke-width="1.0"/>
<line x1="38.50" y1="238.50" x2="41.50" y2="238.50" stroke="#231f20" stroke-width="0.9"/>
<text x="37.00" y="241.38" font-size="8.0" fill="#231f20" stroke="#231f20" stroke-width="0.12" text-anchor="end">100</text>
<line x1="38.50" y1="249.62" x2="41.50" y2="249.62" stroke="#231f20" stroke-width="0.9"/>
<text x="37.00" y="252.50" font-size="8.0" fill="#231f20" stroke="#231f20" stroke-width="0.12" text-anchor="end">80</text>
<line x1="38.50" y1="260.74" x2="41.50" y2="260.74" stroke="#231f20" stroke-width="0.9"/>
<text x="37.00" y="263.62" font-size="8.0" fill="#231f20" stroke="#231f20" stroke-width="0.12" text-anchor="end">60</text>
<line x1="38.50" y1="271.86" x2="41.50" y2="271.86" stroke="#231f20" stroke-width="0.9"/>
<text x="37.00" y="274.74" font-size="8.0" fill="#231f20" stroke="#231f20" stroke-width="0.12" text-anchor="end">40</text>
<line x1="38.50" y1="282.98" x2="41.50" y2="282.98" stroke="#231f20" stroke-width="0.9"/>
<text x="37.00" y="285.86" font-size="8.0" fill="#231f20" stroke="#231f20" stroke-width="0.12" text-anchor="end">20</text>
<line x1="38.50" y1="294.10" x2="41.50" y2="294.10" stroke="#231f20" stroke-width="0.9"/>
<text x="37.00" y="296.98" font-size="8.0" fill="#231f20" stroke="#231f20" stroke-width="0.12" text-anchor="end">0</text>
<line x1="54.80" y1="294.50" x2="54.80" y2="297.10" stroke="#231f20" stroke-width="0.9"/>
<line x1="74.90" y1="294.50" x2="74.90" y2="297.10" stroke="#231f20" stroke-width="0.9"/>
<line x1="94.90" y1="294.50" x2="94.90" y2="297.10" stroke="#231f20" stroke-width="0.9"/>
<line x1="115.00" y1="294.50" x2="115.00" y2="297.10" stroke="#231f20" stroke-width="0.9"/>
<line x1="56.00" y1="231.50" x2="117.10" y2="231.50" stroke="#333333" stroke-width="0.95"/>
<circle cx="84.20" cy="227.60" r="1.15" fill="#222"/>
<circle cx="87.80" cy="227.60" r="1.15" fill="#222"/>
<line x1="77.20" y1="237.50" x2="117.10" y2="237.50" stroke="#333333" stroke-width="0.95"/>
<circle cx="95.20" cy="233.60" r="1.15" fill="#222"/>
<circle cx="98.80" cy="233.60" r="1.15" fill="#222"/>
<line x1="93.20" y1="241.50" x2="117.10" y2="241.50" stroke="#333333" stroke-width="0.95"/>
<circle cx="103.00" cy="237.60" r="1.15" fill="#222"/>
<circle cx="106.60" cy="237.60" r="1.15" fill="#222"/>
<line x1="56.00" y1="250.50" x2="94.50" y2="250.50" stroke="#333333" stroke-width="0.95"/>
<circle cx="75.00" cy="246.60" r="1.15" fill="#222"/>
<line x1="56.00" y1="257.50" x2="74.80" y2="257.50" stroke="#333333" stroke-width="0.95"/>
<text x="65.70" y="256.30" font-size="8.2" fill="#333" stroke="#333" stroke-width="0.12" text-anchor="middle">ns</text>
<line x1="77.20" y1="257.50" x2="94.70" y2="257.50" stroke="#333333" stroke-width="0.95"/>
<text x="86.00" y="256.30" font-size="8.2" fill="#333" stroke="#333" stroke-width="0.12" text-anchor="middle">ns</text>
<text x="19.50" y="265.70" font-size="9.0" fill="#231f20" stroke="#231f20" stroke-width="0.12" text-anchor="middle" textLength="61.60" lengthAdjust="spacingAndGlyphs" transform="rotate(-90 19.50 265.70)">Ki-67<tspan dy="-2.6" font-size="5.5">+</tspan><tspan dy="2.6">/CD8.1</tspan><tspan dy="-2.6" font-size="5.5">+</tspan><tspan dy="2.6"> (%)</tspan></text>
<text x="41.00" y="307.40" font-size="7.5" fill="#b8324f" stroke="#b8324f" stroke-width="0.12" text-anchor="end" textLength="15.00" lengthAdjust="spacingAndGlyphs">CSP</text>
<text x="40.80" y="316.80" font-size="7.5" fill="#3a6ea8" stroke="#3a6ea8" stroke-width="0.12" text-anchor="end" textLength="26.60" lengthAdjust="spacingAndGlyphs">&#945;PD-L1</text>
<text x="54.30" y="307.40" font-size="7.2" fill="#333" stroke="#333" stroke-width="0.12" text-anchor="middle">(&#8211;)</text>
<text x="54.30" y="316.80" font-size="7.2" fill="#333" stroke="#333" stroke-width="0.12" text-anchor="middle">(&#8211;)</text>
<text x="74.60" y="307.40" font-size="7.2" fill="#333" stroke="#333" stroke-width="0.12" text-anchor="middle">(&#8211;)</text>
<text x="74.60" y="316.80" font-size="7.2" fill="#333" stroke="#333" stroke-width="0.12" text-anchor="middle">(+)</text>
<text x="95.00" y="307.40" font-size="7.2" fill="#333" stroke="#333" stroke-width="0.12" text-anchor="middle">(+)</text>
<text x="95.00" y="316.80" font-size="7.2" fill="#333" stroke="#333" stroke-width="0.12" text-anchor="middle">(&#8211;)</text>
<text x="115.00" y="307.40" font-size="7.2" fill="#333" stroke="#333" stroke-width="0.12" text-anchor="middle">(+)</text>
<text x="115.00" y="316.80" font-size="7.2" fill="#333" stroke="#333" stroke-width="0.12" text-anchor="middle">(+)</text>
<text x="11.00" y="219.60" font-size="11.2" fill="#000" stroke="#000" stroke-width="0.1" font-weight="bold">D</text>
<rect x="176.50" y="280.80" width="13.20" height="12.70" fill="#cacace"/>
<rect x="196.10" y="275.30" width="13.30" height="18.20" fill="#2ba3e1"/>
<rect x="216.40" y="277.20" width="13.20" height="16.30" fill="#fdb70e"/>
<rect x="235.40" y="255.20" width="12.80" height="38.30" fill="#e5097f"/>
<line x1="202.80" y1="272.00" x2="202.80" y2="278.00" stroke="#2ba3e1" stroke-width="0.8"/>
<line x1="201.00" y1="272.00" x2="204.60" y2="272.00" stroke="#2ba3e1" stroke-width="0.8"/>
<line x1="223.00" y1="273.60" x2="223.00" y2="279.60" stroke="#fdb70e" stroke-width="0.8"/>
<line x1="221.20" y1="273.60" x2="224.80" y2="273.60" stroke="#fdb70e" stroke-width="0.8"/>
<line x1="241.80" y1="249.80" x2="241.80" y2="255.80" stroke="#e5097f" stroke-width="0.8"/>
<line x1="240.00" y1="249.80" x2="243.60" y2="249.80" stroke="#e5097f" stroke-width="0.8"/>
<circle cx="177.40" cy="279.30" r="1.05" fill="#111"/>
<circle cx="178.90" cy="279.90" r="1.05" fill="#111"/>
<circle cx="180.40" cy="280.60" r="1.05" fill="#111"/>
<circle cx="181.80" cy="281.40" r="1.05" fill="#111"/>
<circle cx="183.10" cy="282.20" r="1.05" fill="#111"/>
<circle cx="184.40" cy="281.40" r="1.05" fill="#111"/>
<circle cx="185.80" cy="280.60" r="1.05" fill="#111"/>
<circle cx="187.20" cy="279.90" r="1.05" fill="#111"/>
<circle cx="188.40" cy="279.20" r="1.05" fill="#111"/>
<circle cx="183.10" cy="283.40" r="1.05" fill="#111"/>
<circle cx="183.20" cy="287.10" r="1.05" fill="#111"/>
<circle cx="198.60" cy="274.20" r="1.05" fill="#111"/>
<circle cx="201.60" cy="272.20" r="1.05" fill="#111"/>
<circle cx="204.80" cy="272.40" r="1.05" fill="#111"/>
<circle cx="207.60" cy="274.60" r="1.05" fill="#111"/>
<circle cx="199.80" cy="276.00" r="1.05" fill="#111"/>
<circle cx="203.20" cy="276.40" r="1.05" fill="#111"/>
<circle cx="206.40" cy="276.20" r="1.05" fill="#111"/>
<circle cx="219.00" cy="274.60" r="1.05" fill="#111"/>
<circle cx="222.00" cy="273.20" r="1.05" fill="#111"/>
<circle cx="225.20" cy="273.80" r="1.05" fill="#111"/>
<circle cx="228.20" cy="275.80" r="1.05" fill="#111"/>
<circle cx="220.20" cy="278.00" r="1.05" fill="#111"/>
<circle cx="223.60" cy="279.40" r="1.05" fill="#111"/>
<circle cx="226.60" cy="276.60" r="1.05" fill="#111"/>
<circle cx="236.60" cy="255.20" r="1.05" fill="#111"/>
<circle cx="240.40" cy="252.00" r="1.05" fill="#111"/>
<circle cx="243.40" cy="250.00" r="1.05" fill="#111"/>
<circle cx="247.20" cy="255.00" r="1.05" fill="#111"/>
<circle cx="242.00" cy="261.00" r="1.05" fill="#111"/>
<circle cx="238.80" cy="258.60" r="1.05" fill="#111"/>
<circle cx="245.00" cy="257.20" r="1.05" fill="#111"/>
<circle cx="243.80" cy="253.20" r="1.05" fill="#111"/>
<line x1="168.50" y1="235.80" x2="168.50" y2="293.95" stroke="#231f20" stroke-width="1.0"/>
<line x1="168.05" y1="293.50" x2="252.00" y2="293.50" stroke="#231f20" stroke-width="1.0"/>
<line x1="165.50" y1="239.00" x2="168.50" y2="239.00" stroke="#231f20" stroke-width="0.9"/>
<text x="164.10" y="241.88" font-size="8.0" fill="#231f20" stroke="#231f20" stroke-width="0.12" text-anchor="end">100</text>
<line x1="165.50" y1="249.90" x2="168.50" y2="249.90" stroke="#231f20" stroke-width="0.9"/>
<text x="164.10" y="252.78" font-size="8.0" fill="#231f20" stroke="#231f20" stroke-width="0.12" text-anchor="end">80</text>
<line x1="165.50" y1="260.80" x2="168.50" y2="260.80" stroke="#231f20" stroke-width="0.9"/>
<text x="164.10" y="263.68" font-size="8.0" fill="#231f20" stroke="#231f20" stroke-width="0.12" text-anchor="end">60</text>
<line x1="165.50" y1="271.70" x2="168.50" y2="271.70" stroke="#231f20" stroke-width="0.9"/>
<text x="164.10" y="274.58" font-size="8.0" fill="#231f20" stroke="#231f20" stroke-width="0.12" text-anchor="end">40</text>
<line x1="165.50" y1="282.60" x2="168.50" y2="282.60" stroke="#231f20" stroke-width="0.9"/>
<text x="164.10" y="285.48" font-size="8.0" fill="#231f20" stroke="#231f20" stroke-width="0.12" text-anchor="end">20</text>
<line x1="165.50" y1="293.50" x2="168.50" y2="293.50" stroke="#231f20" stroke-width="0.9"/>
<text x="164.10" y="296.38" font-size="8.0" fill="#231f20" stroke="#231f20" stroke-width="0.12" text-anchor="end">0</text>
<line x1="183.10" y1="293.50" x2="183.10" y2="296.10" stroke="#231f20" stroke-width="0.9"/>
<line x1="202.80" y1="293.50" x2="202.80" y2="296.10" stroke="#231f20" stroke-width="0.9"/>
<line x1="223.00" y1="293.50" x2="223.00" y2="296.10" stroke="#231f20" stroke-width="0.9"/>
<line x1="241.80" y1="293.50" x2="241.80" y2="296.10" stroke="#231f20" stroke-width="0.9"/>
<line x1="180.70" y1="232.50" x2="244.40" y2="232.50" stroke="#333333" stroke-width="0.95"/>
<circle cx="208.70" cy="228.60" r="1.15" fill="#222"/>
<circle cx="212.30" cy="228.60" r="1.15" fill="#222"/>
<circle cx="215.90" cy="228.60" r="1.15" fill="#222"/>
<line x1="201.20" y1="239.50" x2="244.40" y2="239.50" stroke="#333333" stroke-width="0.95"/>
<circle cx="220.00" cy="235.60" r="1.15" fill="#222"/>
<circle cx="223.60" cy="235.60" r="1.15" fill="#222"/>
<circle cx="227.20" cy="235.60" r="1.15" fill="#222"/>
<line x1="224.40" y1="246.50" x2="244.40" y2="246.50" stroke="#333333" stroke-width="0.95"/>
<circle cx="231.40" cy="242.60" r="1.15" fill="#222"/>
<circle cx="235.00" cy="242.60" r="1.15" fill="#222"/>
<circle cx="238.60" cy="242.60" r="1.15" fill="#222"/>
<line x1="180.70" y1="259.50" x2="222.80" y2="259.50" stroke="#333333" stroke-width="0.95"/>
<circle cx="202.30" cy="255.60" r="1.15" fill="#222"/>
<line x1="180.70" y1="266.50" x2="201.50" y2="266.50" stroke="#333333" stroke-width="0.95"/>
<circle cx="188.70" cy="262.60" r="1.15" fill="#222"/>
<circle cx="192.30" cy="262.60" r="1.15" fill="#222"/>
<line x1="204.40" y1="266.50" x2="222.80" y2="266.50" stroke="#333333" stroke-width="0.95"/>
<text x="214.00" y="265.30" font-size="8.2" fill="#333" stroke="#333" stroke-width="0.12" text-anchor="middle">ns</text>
<text x="146.00" y="264.20" font-size="7.3" fill="#231f20" stroke="#231f20" stroke-width="0.12" text-anchor="middle" textLength="54.00" lengthAdjust="spacingAndGlyphs" transform="rotate(-90 146.00 264.20)">GZMB<tspan dy="-2.2" font-size="70%">+</tspan><tspan dy="2.2">/CD8.1</tspan><tspan dy="-2.2" font-size="70%">+</tspan><tspan dy="2.2"> (%)</tspan></text>
<text x="167.60" y="307.30" font-size="7.5" fill="#b8324f" stroke="#b8324f" stroke-width="0.12" text-anchor="end" textLength="14.00" lengthAdjust="spacingAndGlyphs">CSP</text>
<text x="168.10" y="316.80" font-size="7.5" fill="#3a6ea8" stroke="#3a6ea8" stroke-width="0.12" text-anchor="end" textLength="25.60" lengthAdjust="spacingAndGlyphs">&#945;PD-L1</text>
<text x="182.60" y="307.30" font-size="7.2" fill="#333" stroke="#333" stroke-width="0.12" text-anchor="middle">(&#8211;)</text>
<text x="182.60" y="316.80" font-size="7.2" fill="#333" stroke="#333" stroke-width="0.12" text-anchor="middle">(&#8211;)</text>
<text x="202.80" y="307.30" font-size="7.2" fill="#333" stroke="#333" stroke-width="0.12" text-anchor="middle">(&#8211;)</text>
<text x="202.80" y="316.80" font-size="7.2" fill="#333" stroke="#333" stroke-width="0.12" text-anchor="middle">(+)</text>
<text x="223.00" y="307.30" font-size="7.2" fill="#333" stroke="#333" stroke-width="0.12" text-anchor="middle">(+)</text>
<text x="223.00" y="316.80" font-size="7.2" fill="#333" stroke="#333" stroke-width="0.12" text-anchor="middle">(&#8211;)</text>
<text x="241.80" y="307.30" font-size="7.2" fill="#333" stroke="#333" stroke-width="0.12" text-anchor="middle">(+)</text>
<text x="241.80" y="316.80" font-size="7.2" fill="#333" stroke="#333" stroke-width="0.12" text-anchor="middle">(+)</text>
<text x="140.50" y="220.00" font-size="11.2" fill="#000" stroke="#000" stroke-width="0.1" font-weight="bold">E</text>
<rect x="306.60" y="282.00" width="12.20" height="11.50" fill="#cacace"/>
<rect x="326.80" y="283.40" width="12.10" height="10.10" fill="#2ba3e1"/>
<rect x="347.10" y="273.00" width="12.60" height="20.50" fill="#fdb70e"/>
<rect x="367.50" y="259.50" width="12.10" height="34.00" fill="#e5097f"/>
<line x1="312.70" y1="276.00" x2="312.70" y2="282.00" stroke="#cacace" stroke-width="0.8"/>
<line x1="310.90" y1="276.00" x2="314.50" y2="276.00" stroke="#cacace" stroke-width="0.8"/>
<line x1="332.90" y1="278.20" x2="332.90" y2="283.40" stroke="#1e4a78" stroke-width="0.8"/>
<line x1="331.10" y1="278.20" x2="334.70" y2="278.20" stroke="#1e4a78" stroke-width="0.8"/>
<line x1="353.40" y1="262.60" x2="353.40" y2="273.00" stroke="#fdb70e" stroke-width="0.8"/>
<line x1="351.60" y1="262.60" x2="355.20" y2="262.60" stroke="#fdb70e" stroke-width="0.8"/>
<line x1="373.50" y1="250.80" x2="373.50" y2="259.50" stroke="#8a1440" stroke-width="0.8"/>
<line x1="371.70" y1="250.80" x2="375.30" y2="250.80" stroke="#8a1440" stroke-width="0.8"/>
<circle cx="310.50" cy="276.80" r="1.05" fill="#111"/>
<circle cx="315.10" cy="277.00" r="1.05" fill="#111"/>
<circle cx="310.50" cy="282.00" r="1.05" fill="#111"/>
<circle cx="315.10" cy="283.00" r="1.05" fill="#111"/>
<circle cx="312.60" cy="289.90" r="1.05" fill="#111"/>
<circle cx="332.90" cy="276.80" r="1.05" fill="#111"/>
<circle cx="330.30" cy="284.20" r="1.05" fill="#111"/>
<circle cx="335.50" cy="284.20" r="1.05" fill="#111"/>
<circle cx="332.90" cy="288.60" r="1.05" fill="#111"/>
<circle cx="351.00" cy="263.50" r="1.05" fill="#111"/>
<circle cx="355.70" cy="263.50" r="1.05" fill="#111"/>
<circle cx="351.00" cy="274.40" r="1.05" fill="#111"/>
<circle cx="355.00" cy="276.80" r="1.05" fill="#111"/>
<circle cx="352.80" cy="288.90" r="1.05" fill="#111"/>
<circle cx="373.50" cy="248.40" r="1.05" fill="#111"/>
<circle cx="373.50" cy="255.70" r="1.05" fill="#111"/>
<circle cx="373.50" cy="264.70" r="1.05" fill="#111"/>
<circle cx="373.50" cy="269.20" r="1.05" fill="#111"/>
<line x1="300.50" y1="236.10" x2="300.50" y2="293.95" stroke="#231f20" stroke-width="1.0"/>
<line x1="300.05" y1="293.50" x2="384.00" y2="293.50" stroke="#231f20" stroke-width="1.0"/>
<line x1="297.50" y1="239.30" x2="300.50" y2="239.30" stroke="#231f20" stroke-width="0.9"/>
<text x="295.80" y="242.18" font-size="8.0" fill="#231f20" stroke="#231f20" stroke-width="0.12" text-anchor="end">20</text>
<line x1="297.50" y1="252.88" x2="300.50" y2="252.88" stroke="#231f20" stroke-width="0.9"/>
<text x="295.80" y="255.75" font-size="8.0" fill="#231f20" stroke="#231f20" stroke-width="0.12" text-anchor="end">15</text>
<line x1="297.50" y1="266.45" x2="300.50" y2="266.45" stroke="#231f20" stroke-width="0.9"/>
<text x="295.80" y="269.33" font-size="8.0" fill="#231f20" stroke="#231f20" stroke-width="0.12" text-anchor="end">10</text>
<line x1="297.50" y1="280.03" x2="300.50" y2="280.03" stroke="#231f20" stroke-width="0.9"/>
<text x="295.80" y="282.91" font-size="8.0" fill="#231f20" stroke="#231f20" stroke-width="0.12" text-anchor="end">5</text>
<line x1="297.50" y1="293.60" x2="300.50" y2="293.60" stroke="#231f20" stroke-width="0.9"/>
<text x="295.80" y="296.48" font-size="8.0" fill="#231f20" stroke="#231f20" stroke-width="0.12" text-anchor="end">0</text>
<line x1="312.70" y1="293.50" x2="312.70" y2="296.10" stroke="#231f20" stroke-width="0.9"/>
<line x1="332.90" y1="293.50" x2="332.90" y2="296.10" stroke="#231f20" stroke-width="0.9"/>
<line x1="353.40" y1="293.50" x2="353.40" y2="296.10" stroke="#231f20" stroke-width="0.9"/>
<line x1="373.50" y1="293.50" x2="373.50" y2="296.10" stroke="#231f20" stroke-width="0.9"/>
<line x1="312.10" y1="231.50" x2="374.40" y2="231.50" stroke="#333333" stroke-width="0.95"/>
<circle cx="341.50" cy="227.60" r="1.15" fill="#222"/>
<circle cx="345.10" cy="227.60" r="1.15" fill="#222"/>
<line x1="333.70" y1="238.50" x2="374.40" y2="238.50" stroke="#333333" stroke-width="0.95"/>
<circle cx="352.20" cy="234.60" r="1.15" fill="#222"/>
<circle cx="355.80" cy="234.60" r="1.15" fill="#222"/>
<line x1="355.00" y1="245.50" x2="374.40" y2="245.50" stroke="#333333" stroke-width="0.95"/>
<circle cx="364.40" cy="241.60" r="1.15" fill="#222"/>
<line x1="312.10" y1="251.50" x2="351.00" y2="251.50" stroke="#333333" stroke-width="0.95"/>
<circle cx="331.50" cy="247.60" r="1.15" fill="#222"/>
<line x1="333.70" y1="259.50" x2="351.00" y2="259.50" stroke="#333333" stroke-width="0.95"/>
<circle cx="341.90" cy="255.60" r="1.15" fill="#222"/>
<line x1="312.10" y1="271.50" x2="332.90" y2="271.50" stroke="#333333" stroke-width="0.95"/>
<text x="322.80" y="270.30" font-size="8.2" fill="#333" stroke="#333" stroke-width="0.12" text-anchor="middle">ns</text>
<text x="270.60" y="263.80" font-size="7.6" fill="#231f20" stroke="#231f20" stroke-width="0.12" text-anchor="middle" textLength="60.00" lengthAdjust="spacingAndGlyphs" transform="rotate(-90 270.60 263.80)">No. of PD-1<tspan dy="-2.2" font-size="70%">+</tspan><tspan dy="2.2">TIGIT</tspan><tspan dy="-2.2" font-size="70%">+</tspan></text>
<text x="280.60" y="264.40" font-size="7.6" fill="#231f20" stroke="#231f20" stroke-width="0.12" text-anchor="middle" textLength="60.50" lengthAdjust="spacingAndGlyphs" transform="rotate(-90 280.60 264.40)">CD8.1<tspan dy="-2.2" font-size="70%">+</tspan><tspan dy="2.2">cells (x10</tspan><tspan dy="-2.2" font-size="70%">3</tspan><tspan dy="2.2">)</tspan></text>
<text x="299.60" y="307.30" font-size="7.5" fill="#b8324f" stroke="#b8324f" stroke-width="0.12" text-anchor="end" textLength="14.00" lengthAdjust="spacingAndGlyphs">CSP</text>
<text x="300.10" y="316.80" font-size="7.5" fill="#3a6ea8" stroke="#3a6ea8" stroke-width="0.12" text-anchor="end" textLength="26.00" lengthAdjust="spacingAndGlyphs">&#945;PD-L1</text>
<text x="312.80" y="307.30" font-size="7.2" fill="#333" stroke="#333" stroke-width="0.12" text-anchor="middle">(&#8211;)</text>
<text x="312.80" y="316.80" font-size="7.2" fill="#333" stroke="#333" stroke-width="0.12" text-anchor="middle">(&#8211;)</text>
<text x="332.90" y="307.30" font-size="7.2" fill="#333" stroke="#333" stroke-width="0.12" text-anchor="middle">(&#8211;)</text>
<text x="332.90" y="316.80" font-size="7.2" fill="#333" stroke="#333" stroke-width="0.12" text-anchor="middle">(+)</text>
<text x="353.00" y="307.30" font-size="7.2" fill="#333" stroke="#333" stroke-width="0.12" text-anchor="middle">(+)</text>
<text x="353.00" y="316.80" font-size="7.2" fill="#333" stroke="#333" stroke-width="0.12" text-anchor="middle">(&#8211;)</text>
<text x="373.20" y="307.30" font-size="7.2" fill="#333" stroke="#333" stroke-width="0.12" text-anchor="middle">(+)</text>
<text x="373.20" y="316.80" font-size="7.2" fill="#333" stroke="#333" stroke-width="0.12" text-anchor="middle">(+)</text>
<text x="263.00" y="219.60" font-size="11.2" fill="#000" stroke="#000" stroke-width="0.1" font-weight="bold">F</text>
<rect x="436.20" y="280.00" width="12.00" height="13.50" fill="#cacace"/>
<rect x="454.80" y="274.10" width="12.80" height="19.40" fill="#2ba3e1"/>
<rect x="474.90" y="289.80" width="12.60" height="3.70" fill="#fdb70e"/>
<rect x="494.10" y="264.80" width="12.70" height="28.70" fill="#e5097f"/>
<line x1="442.20" y1="269.30" x2="442.20" y2="280.00" stroke="#d6d6d8" stroke-width="0.8"/>
<line x1="440.40" y1="269.30" x2="444.00" y2="269.30" stroke="#d6d6d8" stroke-width="0.8"/>
<line x1="461.20" y1="267.20" x2="461.20" y2="274.10" stroke="#333" stroke-width="0.8"/>
<line x1="459.40" y1="267.20" x2="463.00" y2="267.20" stroke="#333" stroke-width="0.8"/>
<line x1="481.20" y1="286.40" x2="481.20" y2="289.80" stroke="#555" stroke-width="0.8"/>
<line x1="479.40" y1="286.40" x2="483.00" y2="286.40" stroke="#555" stroke-width="0.8"/>
<line x1="500.40" y1="253.80" x2="500.40" y2="264.80" stroke="#4a1a30" stroke-width="0.8"/>
<line x1="498.60" y1="253.80" x2="502.20" y2="253.80" stroke="#4a1a30" stroke-width="0.8"/>
<circle cx="442.20" cy="263.60" r="1.05" fill="#111"/>
<circle cx="442.20" cy="278.00" r="1.05" fill="#111"/>
<circle cx="442.20" cy="282.40" r="1.05" fill="#111"/>
<circle cx="442.20" cy="286.10" r="1.05" fill="#111"/>
<circle cx="442.20" cy="289.90" r="1.05" fill="#111"/>
<circle cx="461.00" cy="267.50" r="1.05" fill="#111"/>
<circle cx="461.00" cy="271.30" r="1.05" fill="#111"/>
<circle cx="461.00" cy="275.40" r="1.05" fill="#111"/>
<circle cx="461.00" cy="282.70" r="1.05" fill="#111"/>
<circle cx="479.80" cy="286.80" r="1.05" fill="#111"/>
<circle cx="483.60" cy="286.00" r="1.05" fill="#111"/>
<circle cx="480.70" cy="290.90" r="1.05" fill="#111"/>
<circle cx="483.90" cy="290.90" r="1.05" fill="#111"/>
<circle cx="498.30" cy="253.30" r="1.05" fill="#111"/>
<circle cx="500.60" cy="264.80" r="1.05" fill="#111"/>
<circle cx="500.60" cy="271.30" r="1.05" fill="#111"/>
<circle cx="500.30" cy="277.00" r="1.05" fill="#111"/>
<line x1="428.50" y1="235.80" x2="428.50" y2="293.95" stroke="#231f20" stroke-width="1.0"/>
<line x1="428.05" y1="293.50" x2="512.00" y2="293.50" stroke="#231f20" stroke-width="1.0"/>
<line x1="425.50" y1="239.25" x2="428.50" y2="239.25" stroke="#231f20" stroke-width="0.9"/>
<text x="423.90" y="242.13" font-size="8.0" fill="#231f20" stroke="#231f20" stroke-width="0.12" text-anchor="end">60</text>
<line x1="425.50" y1="257.37" x2="428.50" y2="257.37" stroke="#231f20" stroke-width="0.9"/>
<text x="423.90" y="260.25" font-size="8.0" fill="#231f20" stroke="#231f20" stroke-width="0.12" text-anchor="end">40</text>
<line x1="425.50" y1="275.48" x2="428.50" y2="275.48" stroke="#231f20" stroke-width="0.9"/>
<text x="423.90" y="278.36" font-size="8.0" fill="#231f20" stroke="#231f20" stroke-width="0.12" text-anchor="end">20</text>
<line x1="425.50" y1="293.60" x2="428.50" y2="293.60" stroke="#231f20" stroke-width="0.9"/>
<text x="423.90" y="296.48" font-size="8.0" fill="#231f20" stroke="#231f20" stroke-width="0.12" text-anchor="end">0</text>
<line x1="442.20" y1="293.50" x2="442.20" y2="296.10" stroke="#231f20" stroke-width="0.9"/>
<line x1="461.20" y1="293.50" x2="461.20" y2="296.10" stroke="#231f20" stroke-width="0.9"/>
<line x1="481.20" y1="293.50" x2="481.20" y2="296.10" stroke="#231f20" stroke-width="0.9"/>
<line x1="500.40" y1="293.50" x2="500.40" y2="296.10" stroke="#231f20" stroke-width="0.9"/>
<line x1="442.30" y1="234.50" x2="499.90" y2="234.50" stroke="#333333" stroke-width="0.95"/>
<circle cx="470.80" cy="230.60" r="1.15" fill="#222"/>
<line x1="462.40" y1="240.50" x2="499.90" y2="240.50" stroke="#333333" stroke-width="0.95"/>
<text x="480.70" y="239.30" font-size="8.2" fill="#333" stroke="#333" stroke-width="0.12" text-anchor="middle">ns</text>
<line x1="442.30" y1="247.50" x2="480.70" y2="247.50" stroke="#333333" stroke-width="0.95"/>
<text x="460.20" y="246.30" font-size="8.2" fill="#333" stroke="#333" stroke-width="0.12" text-anchor="middle">ns</text>
<line x1="481.50" y1="251.50" x2="499.90" y2="251.50" stroke="#333333" stroke-width="0.95"/>
<circle cx="489.00" cy="247.60" r="1.15" fill="#222"/>
<circle cx="492.60" cy="247.60" r="1.15" fill="#222"/>
<line x1="442.30" y1="259.50" x2="460.70" y2="259.50" stroke="#333333" stroke-width="0.95"/>
<text x="451.20" y="258.30" font-size="8.2" fill="#333" stroke="#333" stroke-width="0.12" text-anchor="middle">ns</text>
<line x1="462.40" y1="263.50" x2="479.30" y2="263.50" stroke="#333333" stroke-width="0.95"/>
<circle cx="469.40" cy="259.60" r="1.15" fill="#222"/>
<circle cx="473.00" cy="259.60" r="1.15" fill="#222"/>
<text x="398.90" y="263.60" font-size="7.6" fill="#231f20" stroke="#231f20" stroke-width="0.12" text-anchor="middle" textLength="61.00" lengthAdjust="spacingAndGlyphs" transform="rotate(-90 398.90 263.60)">No. of PD-1<tspan dy="-2.2" font-size="70%">+</tspan><tspan dy="2.2">TIGIT</tspan><tspan dy="-2.2" font-size="70%">+</tspan></text>
<text x="410.60" y="263.60" font-size="7.6" fill="#231f20" stroke="#231f20" stroke-width="0.12" text-anchor="middle" textLength="61.00" lengthAdjust="spacingAndGlyphs" transform="rotate(-90 410.60 263.60)">CD8.1<tspan dy="-2.2" font-size="70%">+</tspan><tspan dy="2.2">cells (x10</tspan><tspan dy="-2.2" font-size="70%">3</tspan><tspan dy="2.2">)</tspan></text>
<text x="427.80" y="307.30" font-size="7.5" fill="#b8324f" stroke="#b8324f" stroke-width="0.12" text-anchor="end" textLength="14.00" lengthAdjust="spacingAndGlyphs">CSP</text>
<text x="428.30" y="316.80" font-size="7.5" fill="#3a6ea8" stroke="#3a6ea8" stroke-width="0.12" text-anchor="end" textLength="26.00" lengthAdjust="spacingAndGlyphs">&#945;PD-L1</text>
<text x="442.30" y="307.30" font-size="7.2" fill="#333" stroke="#333" stroke-width="0.12" text-anchor="middle">(&#8211;)</text>
<text x="442.30" y="316.80" font-size="7.2" fill="#333" stroke="#333" stroke-width="0.12" text-anchor="middle">(&#8211;)</text>
<text x="461.60" y="307.30" font-size="7.2" fill="#333" stroke="#333" stroke-width="0.12" text-anchor="middle">(&#8211;)</text>
<text x="461.60" y="316.80" font-size="7.2" fill="#333" stroke="#333" stroke-width="0.12" text-anchor="middle">(+)</text>
<text x="480.60" y="307.30" font-size="7.2" fill="#333" stroke="#333" stroke-width="0.12" text-anchor="middle">(+)</text>
<text x="480.60" y="316.80" font-size="7.2" fill="#333" stroke="#333" stroke-width="0.12" text-anchor="middle">(&#8211;)</text>
<text x="500.00" y="307.30" font-size="7.2" fill="#333" stroke="#333" stroke-width="0.12" text-anchor="middle">(+)</text>
<text x="500.00" y="316.80" font-size="7.2" fill="#333" stroke="#333" stroke-width="0.12" text-anchor="middle">(+)</text>
<text x="393.00" y="219.80" font-size="11.2" fill="#000" stroke="#000" stroke-width="0.1" font-weight="bold">G</text>
<text x="11.00" y="343.10" font-size="11.2" fill="#000" stroke="#000" stroke-width="0.1" font-weight="bold">H</text>
<line x1="23.30" y1="373.70" x2="23.30" y2="432.60" stroke="#231f20" stroke-width="0.9"/>
<text x="19.60" y="404.00" font-size="7.6" fill="#231f20" stroke="#231f20" stroke-width="0.12" text-anchor="middle" textLength="21.30" lengthAdjust="spacingAndGlyphs" transform="rotate(-90 19.60 404.00)">2C-Tg</text>
<line x1="37.90" y1="373.70" x2="37.90" y2="398.20" stroke="#231f20" stroke-width="0.9"/>
<line x1="37.90" y1="406.40" x2="37.90" y2="432.60" stroke="#231f20" stroke-width="0.9"/>
<text x="33.20" y="387.20" font-size="7.6" fill="#231f20" stroke="#231f20" stroke-width="0.12" text-anchor="middle" textLength="23.00" lengthAdjust="spacingAndGlyphs" transform="rotate(-90 33.20 387.20)">Ly6C<tspan dy="-2.2" font-size="5">&#8211;</tspan></text>
<text x="33.20" y="419.50" font-size="7.6" fill="#231f20" stroke="#231f20" stroke-width="0.12" text-anchor="middle" textLength="23.00" lengthAdjust="spacingAndGlyphs" transform="rotate(-90 33.20 419.50)">Ly6C<tspan dy="-2.2" font-size="5">+</tspan></text>
<text x="41.90" y="380.30" font-size="8.0" fill="#4a70a8" stroke="#4a70a8" stroke-width="0.12" textLength="14.70" lengthAdjust="spacingAndGlyphs">CSP</text>
<text x="41.90" y="396.60" font-size="8.0" fill="#3f8b6e" stroke="#3f8b6e" stroke-width="0.12" textLength="47.40" lengthAdjust="spacingAndGlyphs">CSP+&#945;PD-L1</text>
<text x="41.90" y="413.00" font-size="8.0" fill="#f0aa46" stroke="#f0aa46" stroke-width="0.12" textLength="14.70" lengthAdjust="spacingAndGlyphs">CSP</text>
<text x="41.90" y="429.30" font-size="8.0" fill="#7b5b49" stroke="#7b5b49" stroke-width="0.12" textLength="47.40" lengthAdjust="spacingAndGlyphs">CSP+&#945;PD-L1</text>
<text x="144.00" y="360.00" font-size="7.8" fill="#231f20" stroke="#231f20" stroke-width="0.12" text-anchor="middle" textLength="18.00" lengthAdjust="spacingAndGlyphs">Ki-67</text>
<rect x="125.10" y="415.40" width="6.50" height="18.10" fill="#8d98c6"/>
<rect x="135.60" y="408.00" width="6.40" height="25.50" fill="#7ea08c"/>
<rect x="145.90" y="408.00" width="6.30" height="25.50" fill="#fcda8a"/>
<rect x="157.10" y="391.90" width="6.40" height="41.60" fill="#aa8a6c"/>
<line x1="128.40" y1="413.60" x2="128.40" y2="415.40" stroke="#1c3468" stroke-width="0.8"/>
<line x1="126.60" y1="413.60" x2="130.20" y2="413.60" stroke="#1c3468" stroke-width="0.8"/>
<line x1="138.80" y1="402.20" x2="138.80" y2="408.00" stroke="#2a5e44" stroke-width="0.8"/>
<line x1="137.00" y1="402.20" x2="140.60" y2="402.20" stroke="#2a5e44" stroke-width="0.8"/>
<line x1="149.00" y1="403.60" x2="149.00" y2="408.00" stroke="#fcda8a" stroke-width="0.8"/>
<line x1="147.20" y1="403.60" x2="150.80" y2="403.60" stroke="#fcda8a" stroke-width="0.8"/>
<line x1="160.30" y1="385.90" x2="160.30" y2="391.90" stroke="#5b3b22" stroke-width="0.8"/>
<line x1="158.50" y1="385.90" x2="162.10" y2="385.90" stroke="#5b3b22" stroke-width="0.8"/>
<circle cx="126.30" cy="414.60" r="1.05" fill="#1c3468"/>
<circle cx="128.80" cy="415.60" r="1.05" fill="#1c3468"/>
<circle cx="131.00" cy="417.00" r="1.05" fill="#1c3468"/>
<circle cx="126.20" cy="419.40" r="1.05" fill="#1c3468"/>
<circle cx="130.60" cy="419.80" r="1.05" fill="#1c3468"/>
<circle cx="128.50" cy="417.50" r="1.05" fill="#1c3468"/>
<circle cx="138.40" cy="402.80" r="1.05" fill="#2a5e44"/>
<circle cx="140.60" cy="404.60" r="1.05" fill="#2a5e44"/>
<circle cx="136.80" cy="406.80" r="1.05" fill="#2a5e44"/>
<circle cx="141.40" cy="408.40" r="1.05" fill="#2a5e44"/>
<circle cx="138.20" cy="409.50" r="1.05" fill="#2a5e44"/>
<circle cx="139.50" cy="406.00" r="1.05" fill="#2a5e44"/>
<circle cx="149.00" cy="404.80" r="1.05" fill="#efbd3a"/>
<circle cx="147.00" cy="408.80" r="1.05" fill="#efbd3a"/>
<circle cx="151.00" cy="409.80" r="1.05" fill="#efbd3a"/>
<circle cx="149.00" cy="413.80" r="1.05" fill="#efbd3a"/>
<circle cx="150.00" cy="406.50" r="1.05" fill="#efbd3a"/>
<circle cx="158.50" cy="396.60" r="1.05" fill="#5b3b22"/>
<circle cx="162.50" cy="396.60" r="1.05" fill="#5b3b22"/>
<circle cx="160.20" cy="389.60" r="1.05" fill="#5b3b22"/>
<circle cx="161.80" cy="387.40" r="1.05" fill="#5b3b22"/>
<circle cx="163.20" cy="388.40" r="1.05" fill="#5b3b22"/>
<line x1="120.50" y1="377.80" x2="120.50" y2="433.95" stroke="#231f20" stroke-width="1.0"/>
<line x1="120.05" y1="433.50" x2="166.90" y2="433.50" stroke="#231f20" stroke-width="1.0"/>
<line x1="117.50" y1="380.20" x2="120.50" y2="380.20" stroke="#231f20" stroke-width="0.9"/>
<text x="115.60" y="382.94" font-size="7.6" fill="#231f20" stroke="#231f20" stroke-width="0.12" text-anchor="end">15</text>
<line x1="117.50" y1="397.90" x2="120.50" y2="397.90" stroke="#231f20" stroke-width="0.9"/>
<text x="115.60" y="400.64" font-size="7.6" fill="#231f20" stroke="#231f20" stroke-width="0.12" text-anchor="end">10</text>
<line x1="117.50" y1="415.60" x2="120.50" y2="415.60" stroke="#231f20" stroke-width="0.9"/>
<text x="115.60" y="418.34" font-size="7.6" fill="#231f20" stroke="#231f20" stroke-width="0.12" text-anchor="end">5</text>
<line x1="117.50" y1="433.30" x2="120.50" y2="433.30" stroke="#231f20" stroke-width="0.9"/>
<text x="115.60" y="436.04" font-size="7.6" fill="#231f20" stroke="#231f20" stroke-width="0.12" text-anchor="end">0</text>
<line x1="128.40" y1="433.50" x2="128.40" y2="436.10" stroke="#231f20" stroke-width="0.9"/>
<line x1="138.80" y1="433.50" x2="138.80" y2="436.10" stroke="#231f20" stroke-width="0.9"/>
<line x1="149.00" y1="433.50" x2="149.00" y2="436.10" stroke="#231f20" stroke-width="0.9"/>
<line x1="160.30" y1="433.50" x2="160.30" y2="436.10" stroke="#231f20" stroke-width="0.9"/>
<line x1="128.50" y1="371.50" x2="159.60" y2="371.50" stroke="#333333" stroke-width="0.95"/>
<circle cx="142.20" cy="367.60" r="1.15" fill="#222"/>
<circle cx="145.80" cy="367.60" r="1.15" fill="#222"/>
<line x1="139.50" y1="377.50" x2="159.60" y2="377.50" stroke="#333333" stroke-width="0.95"/>
<circle cx="148.80" cy="373.60" r="1.15" fill="#222"/>
<circle cx="152.40" cy="373.60" r="1.15" fill="#222"/>
<line x1="149.90" y1="384.50" x2="159.80" y2="384.50" stroke="#333333" stroke-width="0.95"/>
<circle cx="153.40" cy="380.60" r="1.15" fill="#222"/>
<circle cx="157.00" cy="380.60" r="1.15" fill="#222"/>
<line x1="128.30" y1="392.50" x2="149.10" y2="392.50" stroke="#333333" stroke-width="0.95"/>
<circle cx="138.60" cy="388.60" r="1.15" fill="#222"/>
<line x1="128.30" y1="400.50" x2="137.80" y2="400.50" stroke="#333333" stroke-width="0.95"/>
<circle cx="131.30" cy="396.60" r="1.15" fill="#222"/>
<circle cx="134.90" cy="396.60" r="1.15" fill="#222"/>
<line x1="140.40" y1="400.50" x2="149.10" y2="400.50" stroke="#333333" stroke-width="0.95"/>
<text x="144.30" y="399.30" font-size="6.6" fill="#333" stroke="#333" stroke-width="0.12" text-anchor="middle">ns</text>
<text x="103.60" y="405.50" font-size="7.7" fill="#231f20" stroke="#231f20" stroke-width="0.12" text-anchor="middle" textLength="52.60" lengthAdjust="spacingAndGlyphs" transform="rotate(-90 103.60 405.50)">Ki-67 MFI (x10<tspan dy="-2.2" font-size="5">3</tspan><tspan dy="2.2">)</tspan></text>
<text x="219.90" y="360.00" font-size="7.8" fill="#231f20" stroke="#231f20" stroke-width="0.12" text-anchor="middle" textLength="23.90" lengthAdjust="spacingAndGlyphs">GZMB</text>
<rect x="200.90" y="411.80" width="6.30" height="21.70" fill="#8d98c6"/>
<rect x="211.40" y="410.40" width="6.50" height="23.10" fill="#7ea08c"/>
<rect x="222.00" y="404.70" width="6.50" height="28.80" fill="#fcda8a"/>
<rect x="232.90" y="392.40" width="6.60" height="41.10" fill="#aa8a6c"/>
<line x1="204.00" y1="410.20" x2="204.00" y2="411.80" stroke="#1c3468" stroke-width="0.8"/>
<line x1="202.20" y1="410.20" x2="205.80" y2="410.20" stroke="#1c3468" stroke-width="0.8"/>
<line x1="214.70" y1="405.60" x2="214.70" y2="410.40" stroke="#2a5e44" stroke-width="0.8"/>
<line x1="212.90" y1="405.60" x2="216.50" y2="405.60" stroke="#2a5e44" stroke-width="0.8"/>
<line x1="225.20" y1="399.00" x2="225.20" y2="404.70" stroke="#fcda8a" stroke-width="0.8"/>
<line x1="223.40" y1="399.00" x2="227.00" y2="399.00" stroke="#fcda8a" stroke-width="0.8"/>
<line x1="236.20" y1="386.70" x2="236.20" y2="392.40" stroke="#5b3b22" stroke-width="0.8"/>
<line x1="234.40" y1="386.70" x2="238.00" y2="386.70" stroke="#5b3b22" stroke-width="0.8"/>
<circle cx="201.80" cy="411.50" r="1.05" fill="#1c3468"/>
<circle cx="204.00" cy="411.20" r="1.05" fill="#1c3468"/>
<circle cx="206.50" cy="411.60" r="1.05" fill="#1c3468"/>
<circle cx="201.80" cy="414.40" r="1.05" fill="#1c3468"/>
<circle cx="206.50" cy="414.40" r="1.05" fill="#1c3468"/>
<circle cx="203.70" cy="419.70" r="1.05" fill="#1c3468"/>
<circle cx="212.50" cy="407.00" r="1.05" fill="#2a5e44"/>
<circle cx="216.50" cy="406.50" r="1.05" fill="#2a5e44"/>
<circle cx="214.50" cy="409.50" r="1.05" fill="#2a5e44"/>
<circle cx="213.00" cy="414.00" r="1.05" fill="#2a5e44"/>
<circle cx="216.00" cy="413.00" r="1.05" fill="#2a5e44"/>
<circle cx="214.20" cy="417.00" r="1.05" fill="#2a5e44"/>
<circle cx="223.50" cy="400.50" r="1.05" fill="#efbd3a"/>
<circle cx="227.00" cy="400.50" r="1.05" fill="#efbd3a"/>
<circle cx="225.00" cy="404.00" r="1.05" fill="#efbd3a"/>
<circle cx="223.50" cy="406.50" r="1.05" fill="#efbd3a"/>
<circle cx="227.00" cy="406.50" r="1.05" fill="#efbd3a"/>
<circle cx="234.00" cy="386.50" r="1.05" fill="#5b3b22"/>
<circle cx="236.00" cy="388.50" r="1.05" fill="#5b3b22"/>
<circle cx="238.50" cy="389.00" r="1.05" fill="#5b3b22"/>
<circle cx="234.00" cy="392.20" r="1.05" fill="#5b3b22"/>
<circle cx="238.50" cy="392.20" r="1.05" fill="#5b3b22"/>
<circle cx="236.20" cy="391.00" r="1.05" fill="#5b3b22"/>
<line x1="196.50" y1="376.00" x2="196.50" y2="433.95" stroke="#231f20" stroke-width="1.0"/>
<line x1="196.05" y1="433.50" x2="242.70" y2="433.50" stroke="#231f20" stroke-width="1.0"/>
<line x1="193.50" y1="378.90" x2="196.50" y2="378.90" stroke="#231f20" stroke-width="0.9"/>
<text x="191.60" y="381.64" font-size="7.6" fill="#231f20" stroke="#231f20" stroke-width="0.12" text-anchor="end">10</text>
<line x1="193.50" y1="389.76" x2="196.50" y2="389.76" stroke="#231f20" stroke-width="0.9"/>
<text x="191.60" y="392.50" font-size="7.6" fill="#231f20" stroke="#231f20" stroke-width="0.12" text-anchor="end">8</text>
<line x1="193.50" y1="400.62" x2="196.50" y2="400.62" stroke="#231f20" stroke-width="0.9"/>
<text x="191.60" y="403.36" font-size="7.6" fill="#231f20" stroke="#231f20" stroke-width="0.12" text-anchor="end">6</text>
<line x1="193.50" y1="411.48" x2="196.50" y2="411.48" stroke="#231f20" stroke-width="0.9"/>
<text x="191.60" y="414.22" font-size="7.6" fill="#231f20" stroke="#231f20" stroke-width="0.12" text-anchor="end">4</text>
<line x1="193.50" y1="422.34" x2="196.50" y2="422.34" stroke="#231f20" stroke-width="0.9"/>
<text x="191.60" y="425.08" font-size="7.6" fill="#231f20" stroke="#231f20" stroke-width="0.12" text-anchor="end">2</text>
<line x1="193.50" y1="433.20" x2="196.50" y2="433.20" stroke="#231f20" stroke-width="0.9"/>
<text x="191.60" y="435.94" font-size="7.6" fill="#231f20" stroke="#231f20" stroke-width="0.12" text-anchor="end">0</text>
<line x1="204.00" y1="433.50" x2="204.00" y2="436.10" stroke="#231f20" stroke-width="0.9"/>
<line x1="214.70" y1="433.50" x2="214.70" y2="436.10" stroke="#231f20" stroke-width="0.9"/>
<line x1="225.20" y1="433.50" x2="225.20" y2="436.10" stroke="#231f20" stroke-width="0.9"/>
<line x1="236.20" y1="433.50" x2="236.20" y2="436.10" stroke="#231f20" stroke-width="0.9"/>
<line x1="204.00" y1="368.50" x2="236.20" y2="368.50" stroke="#333333" stroke-width="0.95"/>
<circle cx="218.10" cy="364.60" r="1.15" fill="#222"/>
<circle cx="221.70" cy="364.60" r="1.15" fill="#222"/>
<line x1="215.40" y1="374.50" x2="236.20" y2="374.50" stroke="#333333" stroke-width="0.95"/>
<circle cx="224.60" cy="370.60" r="1.15" fill="#222"/>
<circle cx="228.20" cy="370.60" r="1.15" fill="#222"/>
<line x1="225.90" y1="380.50" x2="236.20" y2="380.50" stroke="#333333" stroke-width="0.95"/>
<circle cx="229.00" cy="376.60" r="1.15" fill="#222"/>
<circle cx="232.60" cy="376.60" r="1.15" fill="#222"/>
<line x1="204.00" y1="386.50" x2="223.10" y2="386.50" stroke="#333333" stroke-width="0.95"/>
<circle cx="212.00" cy="382.60" r="1.15" fill="#222"/>
<circle cx="215.60" cy="382.60" r="1.15" fill="#222"/>
<line x1="215.00" y1="394.50" x2="223.10" y2="394.50" stroke="#333333" stroke-width="0.95"/>
<text x="218.70" y="393.30" font-size="6.6" fill="#333" stroke="#333" stroke-width="0.12" text-anchor="middle">ns</text>
<line x1="204.00" y1="399.50" x2="212.80" y2="399.50" stroke="#333333" stroke-width="0.95"/>
<text x="208.90" y="398.30" font-size="6.6" fill="#333" stroke="#333" stroke-width="0.12" text-anchor="middle">ns</text>
<text x="178.60" y="404.40" font-size="7.7" fill="#231f20" stroke="#231f20" stroke-width="0.12" text-anchor="middle" textLength="54.80" lengthAdjust="spacingAndGlyphs" transform="rotate(-90 178.60 404.40)">GZMB MFI (x10<tspan dy="-2.2" font-size="5">3</tspan><tspan dy="2.2">)</tspan></text>
<text x="265.40" y="343.10" font-size="11.2" fill="#000" stroke="#000" stroke-width="0.1" font-weight="bold">I</text>
<text x="312.40" y="344.10" font-size="7.8" fill="#231f20" stroke="#231f20" stroke-width="0.12" textLength="52.60" lengthAdjust="spacingAndGlyphs">Before &#945;PD-L1</text>
<line x1="348.10" y1="356.10" x2="356.50" y2="356.10" stroke="#4f5d68" stroke-width="1.0"/>
<text x="359.60" y="358.50" font-size="7.8" fill="#231f20" stroke="#231f20" stroke-width="0.12" textLength="24.60" lengthAdjust="spacingAndGlyphs">Vehicle</text>
<line x1="348.10" y1="366.50" x2="356.50" y2="366.50" stroke="#c0304a" stroke-width="1.0"/>
<text x="359.60" y="368.70" font-size="7.8" fill="#231f20" stroke="#231f20" stroke-width="0.12" textLength="13.10" lengthAdjust="spacingAndGlyphs">CSP</text>
<line x1="315.50" y1="395.50" x2="315.50" y2="433.40" stroke="#9a9a9a" stroke-width="0.8"/>
<line x1="334.20" y1="395.50" x2="334.20" y2="433.40" stroke="#9a9a9a" stroke-width="0.8"/>
<line x1="353.00" y1="395.50" x2="353.00" y2="433.40" stroke="#9a9a9a" stroke-width="0.8"/>
<line x1="300.85" y1="404.70" x2="300.85" y2="413.70" stroke="#3d4f5c" stroke-width="0.8"/>
<line x1="299.85" y1="404.70" x2="301.85" y2="404.70" stroke="#3d4f5c" stroke-width="0.7"/>
<line x1="299.85" y1="413.70" x2="301.85" y2="413.70" stroke="#3d4f5c" stroke-width="0.7"/>
<line x1="305.57" y1="407.20" x2="305.57" y2="415.20" stroke="#3d4f5c" stroke-width="0.8"/>
<line x1="304.57" y1="407.20" x2="306.57" y2="407.20" stroke="#3d4f5c" stroke-width="0.7"/>
<line x1="304.57" y1="415.20" x2="306.57" y2="415.20" stroke="#3d4f5c" stroke-width="0.7"/>
<line x1="310.29" y1="408.10" x2="310.29" y2="416.10" stroke="#3d4f5c" stroke-width="0.8"/>
<line x1="309.29" y1="408.10" x2="311.29" y2="408.10" stroke="#3d4f5c" stroke-width="0.7"/>
<line x1="309.29" y1="416.10" x2="311.29" y2="416.10" stroke="#3d4f5c" stroke-width="0.7"/>
<line x1="315.01" y1="408.80" x2="315.01" y2="415.80" stroke="#3d4f5c" stroke-width="0.8"/>
<line x1="314.01" y1="408.80" x2="316.01" y2="408.80" stroke="#3d4f5c" stroke-width="0.7"/>
<line x1="314.01" y1="415.80" x2="316.01" y2="415.80" stroke="#3d4f5c" stroke-width="0.7"/>
<line x1="319.73" y1="414.40" x2="319.73" y2="429.40" stroke="#3d4f5c" stroke-width="0.8"/>
<line x1="318.73" y1="414.40" x2="320.73" y2="414.40" stroke="#3d4f5c" stroke-width="0.7"/>
<line x1="318.73" y1="429.40" x2="320.73" y2="429.40" stroke="#3d4f5c" stroke-width="0.7"/>
<line x1="324.45" y1="413.20" x2="324.45" y2="426.80" stroke="#3d4f5c" stroke-width="0.8"/>
<line x1="323.45" y1="413.20" x2="325.45" y2="413.20" stroke="#3d4f5c" stroke-width="0.7"/>
<line x1="323.45" y1="426.80" x2="325.45" y2="426.80" stroke="#3d4f5c" stroke-width="0.7"/>
<line x1="329.17" y1="414.40" x2="329.17" y2="426.40" stroke="#3d4f5c" stroke-width="0.8"/>
<line x1="328.17" y1="414.40" x2="330.17" y2="414.40" stroke="#3d4f5c" stroke-width="0.7"/>
<line x1="328.17" y1="426.40" x2="330.17" y2="426.40" stroke="#3d4f5c" stroke-width="0.7"/>
<line x1="333.89" y1="414.40" x2="333.89" y2="426.40" stroke="#3d4f5c" stroke-width="0.8"/>
<line x1="332.89" y1="414.40" x2="334.89" y2="414.40" stroke="#3d4f5c" stroke-width="0.7"/>
<line x1="332.89" y1="426.40" x2="334.89" y2="426.40" stroke="#3d4f5c" stroke-width="0.7"/>
<line x1="338.61" y1="400.40" x2="338.61" y2="413.40" stroke="#3d4f5c" stroke-width="0.8"/>
<line x1="337.61" y1="400.40" x2="339.61" y2="400.40" stroke="#3d4f5c" stroke-width="0.7"/>
<line x1="337.61" y1="413.40" x2="339.61" y2="413.40" stroke="#3d4f5c" stroke-width="0.7"/>
<line x1="343.33" y1="397.90" x2="343.33" y2="412.90" stroke="#3d4f5c" stroke-width="0.8"/>
<line x1="342.33" y1="397.90" x2="344.33" y2="397.90" stroke="#3d4f5c" stroke-width="0.7"/>
<line x1="342.33" y1="412.90" x2="344.33" y2="412.90" stroke="#3d4f5c" stroke-width="0.7"/>
<line x1="348.05" y1="397.30" x2="348.05" y2="411.30" stroke="#3d4f5c" stroke-width="0.8"/>
<line x1="347.05" y1="397.30" x2="349.05" y2="397.30" stroke="#3d4f5c" stroke-width="0.7"/>
<line x1="347.05" y1="411.30" x2="349.05" y2="411.30" stroke="#3d4f5c" stroke-width="0.7"/>
<line x1="352.77" y1="397.30" x2="352.77" y2="410.30" stroke="#3d4f5c" stroke-width="0.8"/>
<line x1="351.77" y1="397.30" x2="353.77" y2="397.30" stroke="#3d4f5c" stroke-width="0.7"/>
<line x1="351.77" y1="410.30" x2="353.77" y2="410.30" stroke="#3d4f5c" stroke-width="0.7"/>
<line x1="357.49" y1="418.60" x2="357.49" y2="430.60" stroke="#3d4f5c" stroke-width="0.8"/>
<line x1="356.49" y1="418.60" x2="358.49" y2="418.60" stroke="#3d4f5c" stroke-width="0.7"/>
<line x1="356.49" y1="430.60" x2="358.49" y2="430.60" stroke="#3d4f5c" stroke-width="0.7"/>
<line x1="362.21" y1="417.60" x2="362.21" y2="431.60" stroke="#3d4f5c" stroke-width="0.8"/>
<line x1="361.21" y1="417.60" x2="363.21" y2="417.60" stroke="#3d4f5c" stroke-width="0.7"/>
<line x1="361.21" y1="431.60" x2="363.21" y2="431.60" stroke="#3d4f5c" stroke-width="0.7"/>
<line x1="366.93" y1="417.40" x2="366.93" y2="432.40" stroke="#3d4f5c" stroke-width="0.8"/>
<line x1="365.93" y1="417.40" x2="367.93" y2="417.40" stroke="#3d4f5c" stroke-width="0.7"/>
<line x1="365.93" y1="432.40" x2="367.93" y2="432.40" stroke="#3d4f5c" stroke-width="0.7"/>
<line x1="371.65" y1="417.90" x2="371.65" y2="432.90" stroke="#3d4f5c" stroke-width="0.8"/>
<line x1="370.65" y1="417.90" x2="372.65" y2="417.90" stroke="#3d4f5c" stroke-width="0.7"/>
<line x1="370.65" y1="432.90" x2="372.65" y2="432.90" stroke="#3d4f5c" stroke-width="0.7"/>
<line x1="300.85" y1="419.40" x2="300.85" y2="423.00" stroke="#b8233f" stroke-width="0.8"/>
<line x1="299.85" y1="419.40" x2="301.85" y2="419.40" stroke="#b8233f" stroke-width="0.7"/>
<line x1="299.85" y1="423.00" x2="301.85" y2="423.00" stroke="#b8233f" stroke-width="0.7"/>
<line x1="305.57" y1="419.80" x2="305.57" y2="422.80" stroke="#b8233f" stroke-width="0.8"/>
<line x1="304.57" y1="419.80" x2="306.57" y2="419.80" stroke="#b8233f" stroke-width="0.7"/>
<line x1="304.57" y1="422.80" x2="306.57" y2="422.80" stroke="#b8233f" stroke-width="0.7"/>
<line x1="310.29" y1="419.80" x2="310.29" y2="422.20" stroke="#b8233f" stroke-width="0.8"/>
<line x1="309.29" y1="419.80" x2="311.29" y2="419.80" stroke="#b8233f" stroke-width="0.7"/>
<line x1="309.29" y1="422.20" x2="311.29" y2="422.20" stroke="#b8233f" stroke-width="0.7"/>
<line x1="315.01" y1="420.60" x2="315.01" y2="423.00" stroke="#b8233f" stroke-width="0.8"/>
<line x1="314.01" y1="420.60" x2="316.01" y2="420.60" stroke="#b8233f" stroke-width="0.7"/>
<line x1="314.01" y1="423.00" x2="316.01" y2="423.00" stroke="#b8233f" stroke-width="0.7"/>
<line x1="319.73" y1="424.00" x2="319.73" y2="428.40" stroke="#b8233f" stroke-width="0.8"/>
<line x1="318.73" y1="424.00" x2="320.73" y2="424.00" stroke="#b8233f" stroke-width="0.7"/>
<line x1="318.73" y1="428.40" x2="320.73" y2="428.40" stroke="#b8233f" stroke-width="0.7"/>
<line x1="324.45" y1="423.80" x2="324.45" y2="427.40" stroke="#b8233f" stroke-width="0.8"/>
<line x1="323.45" y1="423.80" x2="325.45" y2="423.80" stroke="#b8233f" stroke-width="0.7"/>
<line x1="323.45" y1="427.40" x2="325.45" y2="427.40" stroke="#b8233f" stroke-width="0.7"/>
<line x1="329.17" y1="423.90" x2="329.17" y2="426.90" stroke="#b8233f" stroke-width="0.8"/>
<line x1="328.17" y1="423.90" x2="330.17" y2="423.90" stroke="#b8233f" stroke-width="0.7"/>
<line x1="328.17" y1="426.90" x2="330.17" y2="426.90" stroke="#b8233f" stroke-width="0.7"/>
<line x1="333.89" y1="423.70" x2="333.89" y2="426.70" stroke="#b8233f" stroke-width="0.8"/>
<line x1="332.89" y1="423.70" x2="334.89" y2="423.70" stroke="#b8233f" stroke-width="0.7"/>
<line x1="332.89" y1="426.70" x2="334.89" y2="426.70" stroke="#b8233f" stroke-width="0.7"/>
<line x1="338.61" y1="416.50" x2="338.61" y2="420.50" stroke="#b8233f" stroke-width="0.8"/>
<line x1="337.61" y1="416.50" x2="339.61" y2="416.50" stroke="#b8233f" stroke-width="0.7"/>
<line x1="337.61" y1="420.50" x2="339.61" y2="420.50" stroke="#b8233f" stroke-width="0.7"/>
<line x1="343.33" y1="417.20" x2="343.33" y2="421.20" stroke="#b8233f" stroke-width="0.8"/>
<line x1="342.33" y1="417.20" x2="344.33" y2="417.20" stroke="#b8233f" stroke-width="0.7"/>
<line x1="342.33" y1="421.20" x2="344.33" y2="421.20" stroke="#b8233f" stroke-width="0.7"/>
<line x1="348.05" y1="417.70" x2="348.05" y2="421.70" stroke="#b8233f" stroke-width="0.8"/>
<line x1="347.05" y1="417.70" x2="349.05" y2="417.70" stroke="#b8233f" stroke-width="0.7"/>
<line x1="347.05" y1="421.70" x2="349.05" y2="421.70" stroke="#b8233f" stroke-width="0.7"/>
<line x1="352.77" y1="418.30" x2="352.77" y2="422.30" stroke="#b8233f" stroke-width="0.8"/>
<line x1="351.77" y1="418.30" x2="353.77" y2="418.30" stroke="#b8233f" stroke-width="0.7"/>
<line x1="351.77" y1="422.30" x2="353.77" y2="422.30" stroke="#b8233f" stroke-width="0.7"/>
<line x1="357.49" y1="423.70" x2="357.49" y2="428.70" stroke="#b8233f" stroke-width="0.8"/>
<line x1="356.49" y1="423.70" x2="358.49" y2="423.70" stroke="#b8233f" stroke-width="0.7"/>
<line x1="356.49" y1="428.70" x2="358.49" y2="428.70" stroke="#b8233f" stroke-width="0.7"/>
<line x1="362.21" y1="424.20" x2="362.21" y2="428.20" stroke="#b8233f" stroke-width="0.8"/>
<line x1="361.21" y1="424.20" x2="363.21" y2="424.20" stroke="#b8233f" stroke-width="0.7"/>
<line x1="361.21" y1="428.20" x2="363.21" y2="428.20" stroke="#b8233f" stroke-width="0.7"/>
<line x1="366.93" y1="424.50" x2="366.93" y2="428.50" stroke="#b8233f" stroke-width="0.8"/>
<line x1="365.93" y1="424.50" x2="367.93" y2="424.50" stroke="#b8233f" stroke-width="0.7"/>
<line x1="365.93" y1="428.50" x2="367.93" y2="428.50" stroke="#b8233f" stroke-width="0.7"/>
<line x1="371.65" y1="424.50" x2="371.65" y2="428.50" stroke="#b8233f" stroke-width="0.8"/>
<line x1="370.65" y1="424.50" x2="372.65" y2="424.50" stroke="#b8233f" stroke-width="0.7"/>
<line x1="370.65" y1="428.50" x2="372.65" y2="428.50" stroke="#b8233f" stroke-width="0.7"/>
<polyline points="300.85,409.20 305.57,411.20 310.29,412.10 315.01,412.30 319.73,421.90 324.45,420.00 329.17,420.40 333.89,420.40 338.61,406.90 343.33,405.40 348.05,404.30 352.77,403.80 357.49,424.60 362.21,424.60 366.93,424.90 371.65,425.40" fill="none" stroke="#3d4f5c" stroke-width="1.0"/>
<polyline points="300.85,421.20 305.57,421.30 310.29,421.00 315.01,421.80 319.73,426.20 324.45,425.60 329.17,425.40 333.89,425.20 338.61,418.50 343.33,419.20 348.05,419.70 352.77,420.30 357.49,426.20 362.21,426.20 366.93,426.50 371.65,426.50" fill="none" stroke="#b8233f" stroke-width="1.1"/>
<circle cx="300.85" cy="409.20" r="1.0" fill="#3d4f5c"/>
<circle cx="300.85" cy="421.20" r="1.1" fill="#b8233f"/>
<circle cx="305.57" cy="411.20" r="1.0" fill="#3d4f5c"/>
<circle cx="305.57" cy="421.30" r="1.1" fill="#b8233f"/>
<circle cx="310.29" cy="412.10" r="1.0" fill="#3d4f5c"/>
<circle cx="310.29" cy="421.00" r="1.1" fill="#b8233f"/>
<circle cx="315.01" cy="412.30" r="1.0" fill="#3d4f5c"/>
<circle cx="315.01" cy="421.80" r="1.1" fill="#b8233f"/>
<circle cx="319.73" cy="421.90" r="1.0" fill="#3d4f5c"/>
<circle cx="319.73" cy="426.20" r="1.1" fill="#b8233f"/>
<circle cx="324.45" cy="420.00" r="1.0" fill="#3d4f5c"/>
<circle cx="324.45" cy="425.60" r="1.1" fill="#b8233f"/>
<circle cx="329.17" cy="420.40" r="1.0" fill="#3d4f5c"/>
<circle cx="329.17" cy="425.40" r="1.1" fill="#b8233f"/>
<circle cx="333.89" cy="420.40" r="1.0" fill="#3d4f5c"/>
<circle cx="333.89" cy="425.20" r="1.1" fill="#b8233f"/>
<circle cx="338.61" cy="406.90" r="1.0" fill="#3d4f5c"/>
<circle cx="338.61" cy="418.50" r="1.1" fill="#b8233f"/>
<circle cx="343.33" cy="405.40" r="1.0" fill="#3d4f5c"/>
<circle cx="343.33" cy="419.20" r="1.1" fill="#b8233f"/>
<circle cx="348.05" cy="404.30" r="1.0" fill="#3d4f5c"/>
<circle cx="348.05" cy="419.70" r="1.1" fill="#b8233f"/>
<circle cx="352.77" cy="403.80" r="1.0" fill="#3d4f5c"/>
<circle cx="352.77" cy="420.30" r="1.1" fill="#b8233f"/>
<circle cx="357.49" cy="424.60" r="1.0" fill="#3d4f5c"/>
<circle cx="357.49" cy="426.20" r="1.1" fill="#b8233f"/>
<circle cx="362.21" cy="424.60" r="1.0" fill="#3d4f5c"/>
<circle cx="362.21" cy="426.20" r="1.1" fill="#b8233f"/>
<circle cx="366.93" cy="424.90" r="1.0" fill="#3d4f5c"/>
<circle cx="366.93" cy="426.50" r="1.1" fill="#b8233f"/>
<circle cx="371.65" cy="425.40" r="1.0" fill="#3d4f5c"/>
<circle cx="371.65" cy="426.50" r="1.1" fill="#b8233f"/>
<circle cx="310.30" cy="402.10" r="1.05" fill="#222"/>
<circle cx="343.40" cy="394.80" r="1.05" fill="#222"/>
<line x1="300.50" y1="382.70" x2="300.50" y2="433.85" stroke="#231f20" stroke-width="1.0"/>
<line x1="300.05" y1="433.50" x2="373.30" y2="433.50" stroke="#231f20" stroke-width="1.0"/>
<line x1="297.50" y1="385.90" x2="300.50" y2="385.90" stroke="#231f20" stroke-width="0.9"/>
<text x="294.70" y="388.60" font-size="7.6" fill="#231f20" stroke="#231f20" stroke-width="0.12" text-anchor="end">100</text>
<line x1="297.50" y1="409.65" x2="300.50" y2="409.65" stroke="#231f20" stroke-width="0.9"/>
<text x="294.70" y="412.35" font-size="7.6" fill="#231f20" stroke="#231f20" stroke-width="0.12" text-anchor="end">50</text>
<line x1="297.50" y1="433.40" x2="300.50" y2="433.40" stroke="#231f20" stroke-width="0.9"/>
<text x="294.70" y="436.10" font-size="7.6" fill="#231f20" stroke="#231f20" stroke-width="0.12" text-anchor="end">0</text>
<line x1="300.20" y1="433.50" x2="300.20" y2="436.40" stroke="#231f20" stroke-width="0.9"/>
<text x="300.20" y="446.60" font-size="7.8" fill="#231f20" stroke="#231f20" stroke-width="0.12" text-anchor="middle">0</text>
<line x1="314.36" y1="433.50" x2="314.36" y2="436.40" stroke="#231f20" stroke-width="0.9"/>
<text x="314.36" y="446.60" font-size="7.8" fill="#231f20" stroke="#231f20" stroke-width="0.12" text-anchor="middle">20</text>
<line x1="328.52" y1="433.50" x2="328.52" y2="436.40" stroke="#231f20" stroke-width="0.9"/>
<text x="328.52" y="446.60" font-size="7.8" fill="#231f20" stroke="#231f20" stroke-width="0.12" text-anchor="middle">40</text>
<line x1="342.68" y1="433.50" x2="342.68" y2="436.40" stroke="#231f20" stroke-width="0.9"/>
<text x="342.68" y="446.60" font-size="7.8" fill="#231f20" stroke="#231f20" stroke-width="0.12" text-anchor="middle">60</text>
<line x1="356.84" y1="433.50" x2="356.84" y2="436.40" stroke="#231f20" stroke-width="0.9"/>
<text x="356.84" y="446.60" font-size="7.8" fill="#231f20" stroke="#231f20" stroke-width="0.12" text-anchor="middle">80</text>
<line x1="371.00" y1="433.50" x2="371.00" y2="436.40" stroke="#231f20" stroke-width="0.9"/>
<text x="371.00" y="446.60" font-size="7.8" fill="#231f20" stroke="#231f20" stroke-width="0.12" text-anchor="middle">100</text>
<text x="339.30" y="459.30" font-size="8.4" fill="#231f20" stroke="#231f20" stroke-width="0.12" text-anchor="middle" textLength="52.00" lengthAdjust="spacingAndGlyphs">Time (minutes)</text>
<text x="274.10" y="407.10" font-size="8.2" fill="#231f20" stroke="#231f20" stroke-width="0.12" text-anchor="middle" textLength="62.40" lengthAdjust="spacingAndGlyphs" transform="rotate(-90 274.10 407.10)">OCR (pmoles/min)</text>
<text x="302.30" y="383.20" font-size="8.2" fill="#231f20" stroke="#231f20" stroke-width="0.12" textLength="22.00" lengthAdjust="spacingAndGlyphs">Oligo-</text>
<text x="302.80" y="391.90" font-size="8.2" fill="#231f20" stroke="#231f20" stroke-width="0.12" textLength="20.30" lengthAdjust="spacingAndGlyphs">mycin</text>
<text x="324.80" y="391.90" font-size="8.2" fill="#231f20" stroke="#231f20" stroke-width="0.12" textLength="19.90" lengthAdjust="spacingAndGlyphs">FCCP</text>
<text x="347.30" y="383.20" font-size="8.2" fill="#231f20" stroke="#231f20" stroke-width="0.12" textLength="37.20" lengthAdjust="spacingAndGlyphs">Antimycin/</text>
<text x="349.00" y="391.90" font-size="8.2" fill="#231f20" stroke="#231f20" stroke-width="0.12" textLength="34.60" lengthAdjust="spacingAndGlyphs">Rotenone</text>
<text x="394.20" y="343.10" font-size="11.2" fill="#000" stroke="#000" stroke-width="0.1" font-weight="bold">J</text>
<text x="442.90" y="344.10" font-size="7.8" fill="#231f20" stroke="#231f20" stroke-width="0.12" textLength="47.70" lengthAdjust="spacingAndGlyphs">After &#945;PD-L1</text>
<line x1="439.10" y1="355.80" x2="448.30" y2="355.80" stroke="#6a6a80" stroke-width="1.0"/>
<text x="451.40" y="358.40" font-size="7.8" fill="#231f20" stroke="#231f20" stroke-width="0.12" textLength="24.30" lengthAdjust="spacingAndGlyphs">Vehicle</text>
<line x1="477.50" y1="355.60" x2="482.90" y2="355.60" stroke="#333" stroke-width="1.0"/>
<path d="M482.10,353.90 L485.50,355.60 L482.10,357.30 Z" fill="#333" stroke="none" stroke-width="0.8"/>
<text x="486.00" y="358.40" font-size="7.8" fill="#231f20" stroke="#231f20" stroke-width="0.12" textLength="25.40" lengthAdjust="spacingAndGlyphs">&#945;PD-L1</text>
<line x1="439.10" y1="365.80" x2="448.30" y2="365.80" stroke="#c0304a" stroke-width="1.0"/>
<text x="451.40" y="368.40" font-size="7.8" fill="#231f20" stroke="#231f20" stroke-width="0.12" textLength="13.80" lengthAdjust="spacingAndGlyphs">CSP</text>
<line x1="466.80" y1="365.80" x2="471.90" y2="365.80" stroke="#333" stroke-width="1.0"/>
<path d="M471.10,364.10 L474.50,365.80 L471.10,367.50 Z" fill="#333" stroke="none" stroke-width="0.8"/>
<text x="475.20" y="368.40" font-size="7.8" fill="#231f20" stroke="#231f20" stroke-width="0.12" textLength="25.10" lengthAdjust="spacingAndGlyphs">&#945;PD-L1</text>
<line x1="443.10" y1="395.50" x2="443.10" y2="433.40" stroke="#9a9a9a" stroke-width="0.8"/>
<line x1="461.80" y1="395.50" x2="461.80" y2="433.40" stroke="#9a9a9a" stroke-width="0.8"/>
<line x1="480.60" y1="395.50" x2="480.60" y2="433.40" stroke="#9a9a9a" stroke-width="0.8"/>
<line x1="428.45" y1="415.20" x2="428.45" y2="420.20" stroke="#56636b" stroke-width="0.8"/>
<line x1="427.45" y1="415.20" x2="429.45" y2="415.20" stroke="#56636b" stroke-width="0.7"/>
<line x1="427.45" y1="420.20" x2="429.45" y2="420.20" stroke="#56636b" stroke-width="0.7"/>
<line x1="433.17" y1="415.50" x2="433.17" y2="421.50" stroke="#56636b" stroke-width="0.8"/>
<line x1="432.17" y1="415.50" x2="434.17" y2="415.50" stroke="#56636b" stroke-width="0.7"/>
<line x1="432.17" y1="421.50" x2="434.17" y2="421.50" stroke="#56636b" stroke-width="0.7"/>
<line x1="437.89" y1="416.00" x2="437.89" y2="421.00" stroke="#56636b" stroke-width="0.8"/>
<line x1="436.89" y1="416.00" x2="438.89" y2="416.00" stroke="#56636b" stroke-width="0.7"/>
<line x1="436.89" y1="421.00" x2="438.89" y2="421.00" stroke="#56636b" stroke-width="0.7"/>
<line x1="442.61" y1="415.70" x2="442.61" y2="419.70" stroke="#56636b" stroke-width="0.8"/>
<line x1="441.61" y1="415.70" x2="443.61" y2="415.70" stroke="#56636b" stroke-width="0.7"/>
<line x1="441.61" y1="419.70" x2="443.61" y2="419.70" stroke="#56636b" stroke-width="0.7"/>
<line x1="447.33" y1="427.70" x2="447.33" y2="430.10" stroke="#56636b" stroke-width="0.8"/>
<line x1="446.33" y1="427.70" x2="448.33" y2="427.70" stroke="#56636b" stroke-width="0.7"/>
<line x1="446.33" y1="430.10" x2="448.33" y2="430.10" stroke="#56636b" stroke-width="0.7"/>
<line x1="452.05" y1="427.70" x2="452.05" y2="430.10" stroke="#56636b" stroke-width="0.8"/>
<line x1="451.05" y1="427.70" x2="453.05" y2="427.70" stroke="#56636b" stroke-width="0.7"/>
<line x1="451.05" y1="430.10" x2="453.05" y2="430.10" stroke="#56636b" stroke-width="0.7"/>
<line x1="456.77" y1="427.40" x2="456.77" y2="430.40" stroke="#56636b" stroke-width="0.8"/>
<line x1="455.77" y1="427.40" x2="457.77" y2="427.40" stroke="#56636b" stroke-width="0.7"/>
<line x1="455.77" y1="430.40" x2="457.77" y2="430.40" stroke="#56636b" stroke-width="0.7"/>
<line x1="461.49" y1="427.70" x2="461.49" y2="430.70" stroke="#56636b" stroke-width="0.8"/>
<line x1="460.49" y1="427.70" x2="462.49" y2="427.70" stroke="#56636b" stroke-width="0.7"/>
<line x1="460.49" y1="430.70" x2="462.49" y2="430.70" stroke="#56636b" stroke-width="0.7"/>
<line x1="466.21" y1="415.30" x2="466.21" y2="422.30" stroke="#56636b" stroke-width="0.8"/>
<line x1="465.21" y1="415.30" x2="467.21" y2="415.30" stroke="#56636b" stroke-width="0.7"/>
<line x1="465.21" y1="422.30" x2="467.21" y2="422.30" stroke="#56636b" stroke-width="0.7"/>
<line x1="470.93" y1="415.00" x2="470.93" y2="422.00" stroke="#56636b" stroke-width="0.8"/>
<line x1="469.93" y1="415.00" x2="471.93" y2="415.00" stroke="#56636b" stroke-width="0.7"/>
<line x1="469.93" y1="422.00" x2="471.93" y2="422.00" stroke="#56636b" stroke-width="0.7"/>
<line x1="475.65" y1="415.00" x2="475.65" y2="422.00" stroke="#56636b" stroke-width="0.8"/>
<line x1="474.65" y1="415.00" x2="476.65" y2="415.00" stroke="#56636b" stroke-width="0.7"/>
<line x1="474.65" y1="422.00" x2="476.65" y2="422.00" stroke="#56636b" stroke-width="0.7"/>
<line x1="480.37" y1="415.30" x2="480.37" y2="422.30" stroke="#56636b" stroke-width="0.8"/>
<line x1="479.37" y1="415.30" x2="481.37" y2="415.30" stroke="#56636b" stroke-width="0.7"/>
<line x1="479.37" y1="422.30" x2="481.37" y2="422.30" stroke="#56636b" stroke-width="0.7"/>
<line x1="485.09" y1="429.80" x2="485.09" y2="431.80" stroke="#56636b" stroke-width="0.8"/>
<line x1="484.09" y1="429.80" x2="486.09" y2="429.80" stroke="#56636b" stroke-width="0.7"/>
<line x1="484.09" y1="431.80" x2="486.09" y2="431.80" stroke="#56636b" stroke-width="0.7"/>
<line x1="489.81" y1="430.50" x2="489.81" y2="432.50" stroke="#56636b" stroke-width="0.8"/>
<line x1="488.81" y1="430.50" x2="490.81" y2="430.50" stroke="#56636b" stroke-width="0.7"/>
<line x1="488.81" y1="432.50" x2="490.81" y2="432.50" stroke="#56636b" stroke-width="0.7"/>
<line x1="494.53" y1="431.00" x2="494.53" y2="433.00" stroke="#56636b" stroke-width="0.8"/>
<line x1="493.53" y1="431.00" x2="495.53" y2="431.00" stroke="#56636b" stroke-width="0.7"/>
<line x1="493.53" y1="433.00" x2="495.53" y2="433.00" stroke="#56636b" stroke-width="0.7"/>
<line x1="499.25" y1="431.30" x2="499.25" y2="433.30" stroke="#56636b" stroke-width="0.8"/>
<line x1="498.25" y1="431.30" x2="500.25" y2="431.30" stroke="#56636b" stroke-width="0.7"/>
<line x1="498.25" y1="433.30" x2="500.25" y2="433.30" stroke="#56636b" stroke-width="0.7"/>
<line x1="428.45" y1="412.60" x2="428.45" y2="416.60" stroke="#c0243f" stroke-width="0.8"/>
<line x1="427.45" y1="412.60" x2="429.45" y2="412.60" stroke="#c0243f" stroke-width="0.7"/>
<line x1="427.45" y1="416.60" x2="429.45" y2="416.60" stroke="#c0243f" stroke-width="0.7"/>
<line x1="433.17" y1="414.90" x2="433.17" y2="418.90" stroke="#c0243f" stroke-width="0.8"/>
<line x1="432.17" y1="414.90" x2="434.17" y2="414.90" stroke="#c0243f" stroke-width="0.7"/>
<line x1="432.17" y1="418.90" x2="434.17" y2="418.90" stroke="#c0243f" stroke-width="0.7"/>
<line x1="437.89" y1="416.20" x2="437.89" y2="419.20" stroke="#c0243f" stroke-width="0.8"/>
<line x1="436.89" y1="416.20" x2="438.89" y2="416.20" stroke="#c0243f" stroke-width="0.7"/>
<line x1="436.89" y1="419.20" x2="438.89" y2="419.20" stroke="#c0243f" stroke-width="0.7"/>
<line x1="442.61" y1="416.20" x2="442.61" y2="419.20" stroke="#c0243f" stroke-width="0.8"/>
<line x1="441.61" y1="416.20" x2="443.61" y2="416.20" stroke="#c0243f" stroke-width="0.7"/>
<line x1="441.61" y1="419.20" x2="443.61" y2="419.20" stroke="#c0243f" stroke-width="0.7"/>
<line x1="447.33" y1="427.70" x2="447.33" y2="430.10" stroke="#c0243f" stroke-width="0.8"/>
<line x1="446.33" y1="427.70" x2="448.33" y2="427.70" stroke="#c0243f" stroke-width="0.7"/>
<line x1="446.33" y1="430.10" x2="448.33" y2="430.10" stroke="#c0243f" stroke-width="0.7"/>
<line x1="452.05" y1="427.40" x2="452.05" y2="430.40" stroke="#c0243f" stroke-width="0.8"/>
<line x1="451.05" y1="427.40" x2="453.05" y2="427.40" stroke="#c0243f" stroke-width="0.7"/>
<line x1="451.05" y1="430.40" x2="453.05" y2="430.40" stroke="#c0243f" stroke-width="0.7"/>
<line x1="456.77" y1="426.50" x2="456.77" y2="430.50" stroke="#c0243f" stroke-width="0.8"/>
<line x1="455.77" y1="426.50" x2="457.77" y2="426.50" stroke="#c0243f" stroke-width="0.7"/>
<line x1="455.77" y1="430.50" x2="457.77" y2="430.50" stroke="#c0243f" stroke-width="0.7"/>
<line x1="461.49" y1="426.90" x2="461.49" y2="430.90" stroke="#c0243f" stroke-width="0.8"/>
<line x1="460.49" y1="426.90" x2="462.49" y2="426.90" stroke="#c0243f" stroke-width="0.7"/>
<line x1="460.49" y1="430.90" x2="462.49" y2="430.90" stroke="#c0243f" stroke-width="0.7"/>
<line x1="466.21" y1="401.60" x2="466.21" y2="407.60" stroke="#c0243f" stroke-width="0.8"/>
<line x1="465.21" y1="401.60" x2="467.21" y2="401.60" stroke="#c0243f" stroke-width="0.7"/>
<line x1="465.21" y1="407.60" x2="467.21" y2="407.60" stroke="#c0243f" stroke-width="0.7"/>
<line x1="470.93" y1="402.90" x2="470.93" y2="407.90" stroke="#c0243f" stroke-width="0.8"/>
<line x1="469.93" y1="402.90" x2="471.93" y2="402.90" stroke="#c0243f" stroke-width="0.7"/>
<line x1="469.93" y1="407.90" x2="471.93" y2="407.90" stroke="#c0243f" stroke-width="0.7"/>
<line x1="475.65" y1="402.40" x2="475.65" y2="407.40" stroke="#c0243f" stroke-width="0.8"/>
<line x1="474.65" y1="402.40" x2="476.65" y2="402.40" stroke="#c0243f" stroke-width="0.7"/>
<line x1="474.65" y1="407.40" x2="476.65" y2="407.40" stroke="#c0243f" stroke-width="0.7"/>
<line x1="480.37" y1="402.40" x2="480.37" y2="408.40" stroke="#c0243f" stroke-width="0.8"/>
<line x1="479.37" y1="402.40" x2="481.37" y2="402.40" stroke="#c0243f" stroke-width="0.7"/>
<line x1="479.37" y1="408.40" x2="481.37" y2="408.40" stroke="#c0243f" stroke-width="0.7"/>
<line x1="485.09" y1="423.30" x2="485.09" y2="428.30" stroke="#c0243f" stroke-width="0.8"/>
<line x1="484.09" y1="423.30" x2="486.09" y2="423.30" stroke="#c0243f" stroke-width="0.7"/>
<line x1="484.09" y1="428.30" x2="486.09" y2="428.30" stroke="#c0243f" stroke-width="0.7"/>
<line x1="489.81" y1="426.90" x2="489.81" y2="430.90" stroke="#c0243f" stroke-width="0.8"/>
<line x1="488.81" y1="426.90" x2="490.81" y2="426.90" stroke="#c0243f" stroke-width="0.7"/>
<line x1="488.81" y1="430.90" x2="490.81" y2="430.90" stroke="#c0243f" stroke-width="0.7"/>
<line x1="494.53" y1="429.00" x2="494.53" y2="432.00" stroke="#c0243f" stroke-width="0.8"/>
<line x1="493.53" y1="429.00" x2="495.53" y2="429.00" stroke="#c0243f" stroke-width="0.7"/>
<line x1="493.53" y1="432.00" x2="495.53" y2="432.00" stroke="#c0243f" stroke-width="0.7"/>
<line x1="499.25" y1="429.30" x2="499.25" y2="432.30" stroke="#c0243f" stroke-width="0.8"/>
<line x1="498.25" y1="429.30" x2="500.25" y2="429.30" stroke="#c0243f" stroke-width="0.7"/>
<line x1="498.25" y1="432.30" x2="500.25" y2="432.30" stroke="#c0243f" stroke-width="0.7"/>
<polyline points="428.45,417.70 433.17,418.50 437.89,418.50 442.61,417.70 447.33,428.90 452.05,428.90 456.77,428.90 461.49,429.20 466.21,418.80 470.93,418.50 475.65,418.50 480.37,418.80 485.09,430.80 489.81,431.50 494.53,432.00 499.25,432.30" fill="none" stroke="#56636b" stroke-width="1.0"/>
<polyline points="428.45,414.60 433.17,416.90 437.89,417.70 442.61,417.70 447.33,428.90 452.05,428.90 456.77,428.50 461.49,428.90 466.21,404.60 470.93,405.40 475.65,404.90 480.37,405.40 485.09,425.80 489.81,428.90 494.53,430.50 499.25,430.80" fill="none" stroke="#c0243f" stroke-width="1.1"/>
<circle cx="428.45" cy="417.70" r="1.0" fill="#56636b"/>
<circle cx="428.45" cy="414.60" r="1.1" fill="#c0243f"/>
<circle cx="433.17" cy="418.50" r="1.0" fill="#56636b"/>
<circle cx="433.17" cy="416.90" r="1.1" fill="#c0243f"/>
<circle cx="437.89" cy="418.50" r="1.0" fill="#56636b"/>
<circle cx="437.89" cy="417.70" r="1.1" fill="#c0243f"/>
<circle cx="442.61" cy="417.70" r="1.0" fill="#56636b"/>
<circle cx="442.61" cy="417.70" r="1.1" fill="#c0243f"/>
<circle cx="447.33" cy="428.90" r="1.0" fill="#56636b"/>
<circle cx="447.33" cy="428.90" r="1.1" fill="#c0243f"/>
<circle cx="452.05" cy="428.90" r="1.0" fill="#56636b"/>
<circle cx="452.05" cy="428.90" r="1.1" fill="#c0243f"/>
<circle cx="456.77" cy="428.90" r="1.0" fill="#56636b"/>
<circle cx="456.77" cy="428.50" r="1.1" fill="#c0243f"/>
<circle cx="461.49" cy="429.20" r="1.0" fill="#56636b"/>
<circle cx="461.49" cy="428.90" r="1.1" fill="#c0243f"/>
<circle cx="466.21" cy="418.80" r="1.0" fill="#56636b"/>
<circle cx="466.21" cy="404.60" r="1.1" fill="#c0243f"/>
<circle cx="470.93" cy="418.50" r="1.0" fill="#56636b"/>
<circle cx="470.93" cy="405.40" r="1.1" fill="#c0243f"/>
<circle cx="475.65" cy="418.50" r="1.0" fill="#56636b"/>
<circle cx="475.65" cy="404.90" r="1.1" fill="#c0243f"/>
<circle cx="480.37" cy="418.80" r="1.0" fill="#56636b"/>
<circle cx="480.37" cy="405.40" r="1.1" fill="#c0243f"/>
<circle cx="485.09" cy="430.80" r="1.0" fill="#56636b"/>
<circle cx="485.09" cy="425.80" r="1.1" fill="#c0243f"/>
<circle cx="489.81" cy="431.50" r="1.0" fill="#56636b"/>
<circle cx="489.81" cy="428.90" r="1.1" fill="#c0243f"/>
<circle cx="494.53" cy="432.00" r="1.0" fill="#56636b"/>
<circle cx="494.53" cy="430.50" r="1.1" fill="#c0243f"/>
<circle cx="499.25" cy="432.30" r="1.0" fill="#56636b"/>
<circle cx="499.25" cy="430.80" r="1.1" fill="#c0243f"/>
<circle cx="471.90" cy="395.40" r="1.05" fill="#222"/>
<circle cx="475.70" cy="395.40" r="1.05" fill="#222"/>
<line x1="427.50" y1="382.70" x2="427.50" y2="433.85" stroke="#231f20" stroke-width="1.0"/>
<line x1="427.05" y1="433.50" x2="500.90" y2="433.50" stroke="#231f20" stroke-width="1.0"/>
<line x1="424.50" y1="385.90" x2="427.50" y2="385.90" stroke="#231f20" stroke-width="0.9"/>
<text x="421.70" y="388.60" font-size="7.6" fill="#231f20" stroke="#231f20" stroke-width="0.12" text-anchor="end">100</text>
<line x1="424.50" y1="409.65" x2="427.50" y2="409.65" stroke="#231f20" stroke-width="0.9"/>
<text x="421.70" y="412.35" font-size="7.6" fill="#231f20" stroke="#231f20" stroke-width="0.12" text-anchor="end">50</text>
<line x1="424.50" y1="433.40" x2="427.50" y2="433.40" stroke="#231f20" stroke-width="0.9"/>
<text x="421.70" y="436.10" font-size="7.6" fill="#231f20" stroke="#231f20" stroke-width="0.12" text-anchor="end">0</text>
<line x1="427.80" y1="433.50" x2="427.80" y2="436.40" stroke="#231f20" stroke-width="0.9"/>
<text x="427.80" y="446.60" font-size="7.8" fill="#231f20" stroke="#231f20" stroke-width="0.12" text-anchor="middle">0</text>
<line x1="441.96" y1="433.50" x2="441.96" y2="436.40" stroke="#231f20" stroke-width="0.9"/>
<text x="441.96" y="446.60" font-size="7.8" fill="#231f20" stroke="#231f20" stroke-width="0.12" text-anchor="middle">20</text>
<line x1="456.12" y1="433.50" x2="456.12" y2="436.40" stroke="#231f20" stroke-width="0.9"/>
<text x="456.12" y="446.60" font-size="7.8" fill="#231f20" stroke="#231f20" stroke-width="0.12" text-anchor="middle">40</text>
<line x1="470.28" y1="433.50" x2="470.28" y2="436.40" stroke="#231f20" stroke-width="0.9"/>
<text x="470.28" y="446.60" font-size="7.8" fill="#231f20" stroke="#231f20" stroke-width="0.12" text-anchor="middle">60</text>
<line x1="484.44" y1="433.50" x2="484.44" y2="436.40" stroke="#231f20" stroke-width="0.9"/>
<text x="484.44" y="446.60" font-size="7.8" fill="#231f20" stroke="#231f20" stroke-width="0.12" text-anchor="middle">80</text>
<line x1="498.60" y1="433.50" x2="498.60" y2="436.40" stroke="#231f20" stroke-width="0.9"/>
<text x="498.60" y="446.60" font-size="7.8" fill="#231f20" stroke="#231f20" stroke-width="0.12" text-anchor="middle">100</text>
<text x="466.90" y="459.30" font-size="8.4" fill="#231f20" stroke="#231f20" stroke-width="0.12" text-anchor="middle" textLength="52.00" lengthAdjust="spacingAndGlyphs">Time (minutes)</text>
<text x="401.70" y="407.10" font-size="8.2" fill="#231f20" stroke="#231f20" stroke-width="0.12" text-anchor="middle" textLength="62.40" lengthAdjust="spacingAndGlyphs" transform="rotate(-90 401.70 407.10)">OCR (pmoles/min)</text>
<text x="429.90" y="383.20" font-size="8.2" fill="#231f20" stroke="#231f20" stroke-width="0.12" textLength="22.00" lengthAdjust="spacingAndGlyphs">Oligo-</text>
<text x="430.40" y="391.90" font-size="8.2" fill="#231f20" stroke="#231f20" stroke-width="0.12" textLength="20.30" lengthAdjust="spacingAndGlyphs">mycin</text>
<text x="452.40" y="391.90" font-size="8.2" fill="#231f20" stroke="#231f20" stroke-width="0.12" textLength="19.90" lengthAdjust="spacingAndGlyphs">FCCP</text>
<text x="474.90" y="383.20" font-size="8.2" fill="#231f20" stroke="#231f20" stroke-width="0.12" textLength="37.20" lengthAdjust="spacingAndGlyphs">Antimycin/</text>
<text x="476.60" y="391.90" font-size="8.2" fill="#231f20" stroke="#231f20" stroke-width="0.12" textLength="34.60" lengthAdjust="spacingAndGlyphs">Rotenone</text>
<rect x="59.10" y="525.60" width="10.00" height="24.90" fill="#cacace"/>
<rect x="75.30" y="525.40" width="10.30" height="25.10" fill="#2ba3e1"/>
<rect x="91.40" y="537.50" width="10.40" height="13.00" fill="#fdb70e"/>
<rect x="107.80" y="524.00" width="9.70" height="26.50" fill="#e5097f"/>
<line x1="63.90" y1="521.50" x2="63.90" y2="525.60" stroke="#cacace" stroke-width="0.8"/>
<line x1="62.10" y1="521.50" x2="65.70" y2="521.50" stroke="#cacace" stroke-width="0.8"/>
<line x1="80.20" y1="523.00" x2="80.20" y2="525.40" stroke="#2ba3e1" stroke-width="0.8"/>
<line x1="78.40" y1="523.00" x2="82.00" y2="523.00" stroke="#2ba3e1" stroke-width="0.8"/>
<line x1="96.40" y1="535.00" x2="96.40" y2="537.50" stroke="#fdb70e" stroke-width="0.8"/>
<line x1="94.60" y1="535.00" x2="98.20" y2="535.00" stroke="#fdb70e" stroke-width="0.8"/>
<line x1="112.50" y1="521.00" x2="112.50" y2="524.00" stroke="#e5097f" stroke-width="0.8"/>
<line x1="110.70" y1="521.00" x2="114.30" y2="521.00" stroke="#e5097f" stroke-width="0.8"/>
<circle cx="63.70" cy="516.90" r="1.05" fill="#111"/>
<circle cx="61.40" cy="521.90" r="1.05" fill="#111"/>
<circle cx="66.10" cy="522.70" r="1.05" fill="#111"/>
<circle cx="64.10" cy="524.60" r="1.05" fill="#111"/>
<circle cx="59.40" cy="526.70" r="1.05" fill="#111"/>
<circle cx="68.10" cy="526.70" r="1.05" fill="#111"/>
<circle cx="75.80" cy="523.60" r="1.05" fill="#111"/>
<circle cx="80.20" cy="523.60" r="1.05" fill="#111"/>
<circle cx="85.00" cy="524.00" r="1.05" fill="#111"/>
<circle cx="80.20" cy="526.30" r="1.05" fill="#111"/>
<circle cx="78.20" cy="528.30" r="1.05" fill="#111"/>
<circle cx="82.30" cy="528.30" r="1.05" fill="#111"/>
<circle cx="91.70" cy="536.40" r="1.05" fill="#111"/>
<circle cx="96.80" cy="535.70" r="1.05" fill="#111"/>
<circle cx="100.80" cy="535.70" r="1.05" fill="#111"/>
<circle cx="96.80" cy="538.40" r="1.05" fill="#111"/>
<circle cx="96.80" cy="540.20" r="1.05" fill="#111"/>
<circle cx="100.80" cy="538.40" r="1.05" fill="#111"/>
<circle cx="112.50" cy="520.90" r="1.05" fill="#111"/>
<circle cx="108.50" cy="524.00" r="1.05" fill="#111"/>
<circle cx="116.20" cy="524.00" r="1.05" fill="#111"/>
<circle cx="110.50" cy="526.30" r="1.05" fill="#111"/>
<circle cx="114.60" cy="526.30" r="1.05" fill="#111"/>
<circle cx="112.50" cy="522.30" r="1.05" fill="#111"/>
<line x1="53.50" y1="500.50" x2="53.50" y2="550.95" stroke="#231f20" stroke-width="1.0"/>
<line x1="53.05" y1="550.50" x2="122.00" y2="550.50" stroke="#231f20" stroke-width="1.0"/>
<line x1="50.50" y1="504.00" x2="53.50" y2="504.00" stroke="#231f20" stroke-width="0.9"/>
<text x="48.30" y="506.88" font-size="8.0" fill="#231f20" stroke="#231f20" stroke-width="0.12" text-anchor="end">50</text>
<line x1="50.50" y1="513.30" x2="53.50" y2="513.30" stroke="#231f20" stroke-width="0.9"/>
<text x="48.30" y="516.18" font-size="8.0" fill="#231f20" stroke="#231f20" stroke-width="0.12" text-anchor="end">40</text>
<line x1="50.50" y1="522.60" x2="53.50" y2="522.60" stroke="#231f20" stroke-width="0.9"/>
<text x="48.30" y="525.48" font-size="8.0" fill="#231f20" stroke="#231f20" stroke-width="0.12" text-anchor="end">30</text>
<line x1="50.50" y1="531.90" x2="53.50" y2="531.90" stroke="#231f20" stroke-width="0.9"/>
<text x="48.30" y="534.78" font-size="8.0" fill="#231f20" stroke="#231f20" stroke-width="0.12" text-anchor="end">20</text>
<line x1="50.50" y1="541.20" x2="53.50" y2="541.20" stroke="#231f20" stroke-width="0.9"/>
<text x="48.30" y="544.08" font-size="8.0" fill="#231f20" stroke="#231f20" stroke-width="0.12" text-anchor="end">10</text>
<line x1="50.50" y1="550.50" x2="53.50" y2="550.50" stroke="#231f20" stroke-width="0.9"/>
<text x="48.30" y="553.38" font-size="8.0" fill="#231f20" stroke="#231f20" stroke-width="0.12" text-anchor="end">0</text>
<line x1="63.90" y1="550.50" x2="63.90" y2="553.10" stroke="#231f20" stroke-width="0.9"/>
<line x1="80.20" y1="550.50" x2="80.20" y2="553.10" stroke="#231f20" stroke-width="0.9"/>
<line x1="96.40" y1="550.50" x2="96.40" y2="553.10" stroke="#231f20" stroke-width="0.9"/>
<line x1="112.50" y1="550.50" x2="112.50" y2="553.10" stroke="#231f20" stroke-width="0.9"/>
<line x1="64.10" y1="498.50" x2="114.60" y2="498.50" stroke="#333333" stroke-width="0.95"/>
<text x="89.30" y="497.30" font-size="8.2" fill="#333" stroke="#333" stroke-width="0.12" text-anchor="middle">ns</text>
<line x1="64.10" y1="504.50" x2="95.00" y2="504.50" stroke="#333333" stroke-width="0.95"/>
<circle cx="77.80" cy="500.60" r="1.15" fill="#222"/>
<circle cx="81.40" cy="500.60" r="1.15" fill="#222"/>
<line x1="80.20" y1="509.50" x2="114.60" y2="509.50" stroke="#333333" stroke-width="0.95"/>
<text x="97.70" y="508.30" font-size="8.2" fill="#333" stroke="#333" stroke-width="0.12" text-anchor="middle">ns</text>
<line x1="64.10" y1="514.50" x2="78.90" y2="514.50" stroke="#333333" stroke-width="0.95"/>
<text x="71.50" y="513.30" font-size="8.2" fill="#333" stroke="#333" stroke-width="0.12" text-anchor="middle">ns</text>
<line x1="81.60" y1="514.50" x2="95.70" y2="514.50" stroke="#333333" stroke-width="0.95"/>
<circle cx="86.90" cy="510.60" r="1.15" fill="#222"/>
<circle cx="90.50" cy="510.60" r="1.15" fill="#222"/>
<line x1="98.40" y1="514.50" x2="114.60" y2="514.50" stroke="#333333" stroke-width="0.95"/>
<circle cx="104.00" cy="510.60" r="1.15" fill="#222"/>
<circle cx="107.60" cy="510.60" r="1.15" fill="#222"/>
<text x="21.20" y="525.60" font-size="7.6" fill="#231f20" stroke="#231f20" stroke-width="0.12" text-anchor="middle" textLength="54.80" lengthAdjust="spacingAndGlyphs" transform="rotate(-90 21.20 525.60)">Basal respiration</text>
<text x="31.60" y="525.60" font-size="7.6" fill="#231f20" stroke="#231f20" stroke-width="0.12" text-anchor="middle" textLength="44.30" lengthAdjust="spacingAndGlyphs" transform="rotate(-90 31.60 525.60)">(pmoles/min)</text>
<text x="52.80" y="565.10" font-size="7.5" fill="#b8324f" stroke="#b8324f" stroke-width="0.12" text-anchor="end" textLength="14.50" lengthAdjust="spacingAndGlyphs">CSP</text>
<text x="52.80" y="574.10" font-size="7.5" fill="#3a6ea8" stroke="#3a6ea8" stroke-width="0.12" text-anchor="end" textLength="27.00" lengthAdjust="spacingAndGlyphs">&#945;PD-L1</text>
<text x="63.90" y="565.10" font-size="7.2" fill="#333" stroke="#333" stroke-width="0.12" text-anchor="middle">(&#8211;)</text>
<text x="63.90" y="574.10" font-size="7.2" fill="#333" stroke="#333" stroke-width="0.12" text-anchor="middle">(&#8211;)</text>
<text x="79.70" y="565.10" font-size="7.2" fill="#333" stroke="#333" stroke-width="0.12" text-anchor="middle">(&#8211;)</text>
<text x="79.70" y="574.10" font-size="7.2" fill="#333" stroke="#333" stroke-width="0.12" text-anchor="middle">(+)</text>
<text x="96.00" y="565.10" font-size="7.2" fill="#333" stroke="#333" stroke-width="0.12" text-anchor="middle">(+)</text>
<text x="96.00" y="574.10" font-size="7.2" fill="#333" stroke="#333" stroke-width="0.12" text-anchor="middle">(&#8211;)</text>
<text x="112.00" y="565.10" font-size="7.2" fill="#333" stroke="#333" stroke-width="0.12" text-anchor="middle">(+)</text>
<text x="112.00" y="574.10" font-size="7.2" fill="#333" stroke="#333" stroke-width="0.12" text-anchor="middle">(+)</text>
<text x="11.00" y="480.20" font-size="11.2" fill="#000" stroke="#000" stroke-width="0.1" font-weight="bold">K</text>
<rect x="175.10" y="544.60" width="10.40" height="5.90" fill="#cacace"/>
<rect x="191.30" y="541.90" width="10.30" height="8.60" fill="#2ba3e1"/>
<rect x="207.40" y="545.00" width="10.40" height="5.50" fill="#fdb70e"/>
<rect x="223.80" y="519.00" width="10.10" height="31.50" fill="#e5097f"/>
<line x1="180.10" y1="538.00" x2="180.10" y2="544.60" stroke="#cacace" stroke-width="0.8"/>
<line x1="178.30" y1="538.00" x2="181.90" y2="538.00" stroke="#cacace" stroke-width="0.8"/>
<line x1="196.20" y1="538.50" x2="196.20" y2="541.90" stroke="#2ba3e1" stroke-width="0.8"/>
<line x1="194.40" y1="538.50" x2="198.00" y2="538.50" stroke="#2ba3e1" stroke-width="0.8"/>
<line x1="212.40" y1="540.00" x2="212.40" y2="545.00" stroke="#fdb70e" stroke-width="0.8"/>
<line x1="210.60" y1="540.00" x2="214.20" y2="540.00" stroke="#fdb70e" stroke-width="0.8"/>
<line x1="229.00" y1="512.30" x2="229.00" y2="519.00" stroke="#e5097f" stroke-width="0.8"/>
<line x1="227.20" y1="512.30" x2="230.80" y2="512.30" stroke="#e5097f" stroke-width="0.8"/>
<circle cx="180.10" cy="538.30" r="1.05" fill="#111"/>
<circle cx="178.10" cy="542.60" r="1.05" fill="#111"/>
<circle cx="182.40" cy="542.60" r="1.05" fill="#111"/>
<circle cx="180.10" cy="545.50" r="1.05" fill="#111"/>
<circle cx="180.10" cy="548.60" r="1.05" fill="#111"/>
<circle cx="191.80" cy="538.80" r="1.05" fill="#111"/>
<circle cx="195.30" cy="538.30" r="1.05" fill="#111"/>
<circle cx="198.30" cy="538.80" r="1.05" fill="#111"/>
<circle cx="201.20" cy="539.20" r="1.05" fill="#111"/>
<circle cx="196.20" cy="541.00" r="1.05" fill="#111"/>
<circle cx="211.00" cy="540.50" r="1.05" fill="#111"/>
<circle cx="215.10" cy="540.50" r="1.05" fill="#111"/>
<circle cx="212.80" cy="544.60" r="1.05" fill="#111"/>
<circle cx="209.00" cy="548.00" r="1.05" fill="#111"/>
<circle cx="216.40" cy="548.00" r="1.05" fill="#111"/>
<circle cx="224.50" cy="509.60" r="1.05" fill="#111"/>
<circle cx="229.20" cy="510.90" r="1.05" fill="#111"/>
<circle cx="225.20" cy="523.70" r="1.05" fill="#111"/>
<circle cx="229.20" cy="523.70" r="1.05" fill="#111"/>
<circle cx="233.30" cy="523.70" r="1.05" fill="#111"/>
<circle cx="229.20" cy="521.00" r="1.05" fill="#111"/>
<line x1="168.50" y1="500.40" x2="168.50" y2="550.95" stroke="#231f20" stroke-width="1.0"/>
<line x1="168.05" y1="550.50" x2="238.00" y2="550.50" stroke="#231f20" stroke-width="1.0"/>
<line x1="165.50" y1="503.60" x2="168.50" y2="503.60" stroke="#231f20" stroke-width="0.9"/>
<text x="164.30" y="506.48" font-size="8.0" fill="#231f20" stroke="#231f20" stroke-width="0.12" text-anchor="end">40</text>
<line x1="165.50" y1="515.30" x2="168.50" y2="515.30" stroke="#231f20" stroke-width="0.9"/>
<text x="164.30" y="518.18" font-size="8.0" fill="#231f20" stroke="#231f20" stroke-width="0.12" text-anchor="end">30</text>
<line x1="165.50" y1="527.00" x2="168.50" y2="527.00" stroke="#231f20" stroke-width="0.9"/>
<text x="164.30" y="529.88" font-size="8.0" fill="#231f20" stroke="#231f20" stroke-width="0.12" text-anchor="end">20</text>
<line x1="165.50" y1="538.70" x2="168.50" y2="538.70" stroke="#231f20" stroke-width="0.9"/>
<text x="164.30" y="541.58" font-size="8.0" fill="#231f20" stroke="#231f20" stroke-width="0.12" text-anchor="end">10</text>
<line x1="165.50" y1="550.40" x2="168.50" y2="550.40" stroke="#231f20" stroke-width="0.9"/>
<text x="164.30" y="553.28" font-size="8.0" fill="#231f20" stroke="#231f20" stroke-width="0.12" text-anchor="end">0</text>
<line x1="180.10" y1="550.50" x2="180.10" y2="553.10" stroke="#231f20" stroke-width="0.9"/>
<line x1="196.20" y1="550.50" x2="196.20" y2="553.10" stroke="#231f20" stroke-width="0.9"/>
<line x1="212.40" y1="550.50" x2="212.40" y2="553.10" stroke="#231f20" stroke-width="0.9"/>
<line x1="229.00" y1="550.50" x2="229.00" y2="553.10" stroke="#231f20" stroke-width="0.9"/>
<line x1="179.40" y1="488.50" x2="229.90" y2="488.50" stroke="#333333" stroke-width="0.95"/>
<circle cx="202.50" cy="484.60" r="1.15" fill="#222"/>
<circle cx="206.10" cy="484.60" r="1.15" fill="#222"/>
<line x1="179.40" y1="494.50" x2="211.00" y2="494.50" stroke="#333333" stroke-width="0.95"/>
<text x="195.30" y="493.30" font-size="8.2" fill="#333" stroke="#333" stroke-width="0.12" text-anchor="middle">ns</text>
<line x1="195.80" y1="500.50" x2="229.90" y2="500.50" stroke="#333333" stroke-width="0.95"/>
<circle cx="211.00" cy="496.60" r="1.15" fill="#222"/>
<circle cx="214.60" cy="496.60" r="1.15" fill="#222"/>
<line x1="179.40" y1="506.50" x2="194.50" y2="506.50" stroke="#333333" stroke-width="0.95"/>
<text x="187.20" y="505.30" font-size="8.2" fill="#333" stroke="#333" stroke-width="0.12" text-anchor="middle">ns</text>
<line x1="196.60" y1="506.50" x2="211.00" y2="506.50" stroke="#333333" stroke-width="0.95"/>
<text x="203.60" y="505.30" font-size="8.2" fill="#333" stroke="#333" stroke-width="0.12" text-anchor="middle">ns</text>
<line x1="213.30" y1="506.50" x2="229.90" y2="506.50" stroke="#333333" stroke-width="0.95"/>
<circle cx="219.30" cy="502.60" r="1.15" fill="#222"/>
<circle cx="222.90" cy="502.60" r="1.15" fill="#222"/>
<text x="139.20" y="525.00" font-size="7.6" fill="#231f20" stroke="#231f20" stroke-width="0.12" text-anchor="middle" textLength="79.70" lengthAdjust="spacingAndGlyphs" transform="rotate(-90 139.20 525.00)">Spare respiratory capacity</text>
<text x="150.00" y="527.80" font-size="7.6" fill="#231f20" stroke="#231f20" stroke-width="0.12" text-anchor="middle" textLength="45.90" lengthAdjust="spacingAndGlyphs" transform="rotate(-90 150.00 527.80)">(pmoles/min)</text>
<text x="168.70" y="564.80" font-size="7.5" fill="#b8324f" stroke="#b8324f" stroke-width="0.12" text-anchor="end" textLength="14.40" lengthAdjust="spacingAndGlyphs">CSP</text>
<text x="168.90" y="573.90" font-size="7.5" fill="#3a6ea8" stroke="#3a6ea8" stroke-width="0.12" text-anchor="end" textLength="26.40" lengthAdjust="spacingAndGlyphs">&#945;PD-L1</text>
<text x="180.50" y="564.80" font-size="7.2" fill="#333" stroke="#333" stroke-width="0.12" text-anchor="middle">(&#8211;)</text>
<text x="180.50" y="573.90" font-size="7.2" fill="#333" stroke="#333" stroke-width="0.12" text-anchor="middle">(&#8211;)</text>
<text x="196.30" y="564.80" font-size="7.2" fill="#333" stroke="#333" stroke-width="0.12" text-anchor="middle">(&#8211;)</text>
<text x="196.30" y="573.90" font-size="7.2" fill="#333" stroke="#333" stroke-width="0.12" text-anchor="middle">(+)</text>
<text x="212.50" y="564.80" font-size="7.2" fill="#333" stroke="#333" stroke-width="0.12" text-anchor="middle">(+)</text>
<text x="212.50" y="573.90" font-size="7.2" fill="#333" stroke="#333" stroke-width="0.12" text-anchor="middle">(&#8211;)</text>
<text x="228.20" y="564.80" font-size="7.2" fill="#333" stroke="#333" stroke-width="0.12" text-anchor="middle">(+)</text>
<text x="228.20" y="573.90" font-size="7.2" fill="#333" stroke="#333" stroke-width="0.12" text-anchor="middle">(+)</text>
<text x="131.00" y="480.20" font-size="11.2" fill="#000" stroke="#000" stroke-width="0.1" font-weight="bold">L</text>
<text x="261.00" y="479.80" font-size="11.2" fill="#000" stroke="#000" stroke-width="0.1" font-weight="bold">M</text>
<text x="271.30" y="509.80" font-size="7.6" fill="#231f20" stroke="#231f20" stroke-width="0.12" text-anchor="middle" textLength="16.90" lengthAdjust="spacingAndGlyphs">BMT</text>
<line x1="271.40" y1="511.80" x2="271.40" y2="525.80" stroke="#231f20" stroke-width="0.9"/>
<path d="M270.00,525.30 L272.80,525.30 L271.40,528.30 Z" fill="#231f20" stroke="none" stroke-width="0.8"/>
<text x="301.40" y="526.20" font-size="7.8" fill="#231f20" stroke="#231f20" stroke-width="0.12" text-anchor="middle" textLength="53.20" lengthAdjust="spacingAndGlyphs">CSP or Vehicle</text>
<line x1="274.60" y1="531.80" x2="313.60" y2="531.80" stroke="#231f20" stroke-width="0.9"/>
<path d="M272.4,531.8 L275.4,530.3 L275.4,533.3 Z" fill="#231f20" stroke="none" stroke-width="0.8"/>
<path d="M315.8,531.8 L312.8,530.3 L312.8,533.3 Z" fill="#231f20" stroke="none" stroke-width="0.8"/>
<line x1="271.40" y1="535.00" x2="383.00" y2="535.00" stroke="#231f20" stroke-width="0.9"/>
<path d="M385.4,535.0 L382.0,533.4 L382.0,536.6 Z" fill="#231f20" stroke="none" stroke-width="0.8"/>
<line x1="271.40" y1="530.60" x2="271.40" y2="539.90" stroke="#231f20" stroke-width="0.9"/>
<line x1="316.00" y1="530.60" x2="316.00" y2="539.90" stroke="#231f20" stroke-width="0.9"/>
<line x1="357.40" y1="530.60" x2="357.40" y2="539.90" stroke="#231f20" stroke-width="0.9"/>
<line x1="368.20" y1="530.60" x2="368.20" y2="539.90" stroke="#231f20" stroke-width="0.9"/>
<text x="271.40" y="549.50" font-size="7.8" fill="#231f20" stroke="#231f20" stroke-width="0.12" text-anchor="middle" textLength="18.40" lengthAdjust="spacingAndGlyphs">Day0</text>
<text x="316.20" y="549.50" font-size="7.8" fill="#231f20" stroke="#231f20" stroke-width="0.12" text-anchor="middle" textLength="22.60" lengthAdjust="spacingAndGlyphs">Day14</text>
<text x="357.30" y="549.30" font-size="7.8" fill="#231f20" stroke="#231f20" stroke-width="0.12" text-anchor="middle" textLength="8.50" lengthAdjust="spacingAndGlyphs">28</text>
<text x="368.30" y="549.30" font-size="7.8" fill="#231f20" stroke="#231f20" stroke-width="0.12" text-anchor="middle" textLength="9.10" lengthAdjust="spacingAndGlyphs">30</text>
<text x="357.40" y="497.70" font-size="7.8" fill="#3b6fae" stroke="#3b6fae" stroke-width="0.12" text-anchor="middle" textLength="26.90" lengthAdjust="spacingAndGlyphs">&#945;PD-L1</text>
<text x="358.10" y="507.10" font-size="7.8" fill="#231f20" stroke="#231f20" stroke-width="0.12" text-anchor="middle" textLength="7.70" lengthAdjust="spacingAndGlyphs">or</text>
<text x="358.00" y="517.40" font-size="7.8" fill="#5dbb5d" stroke="#5dbb5d" stroke-width="0.12" text-anchor="middle" textLength="14.10" lengthAdjust="spacingAndGlyphs">PBS</text>
<line x1="357.40" y1="521.00" x2="357.40" y2="526.80" stroke="#231f20" stroke-width="0.9"/>
<path d="M356.10,526.30 L358.70,526.30 L357.40,529.10 Z" fill="#231f20" stroke="none" stroke-width="0.8"/>
<line x1="368.20" y1="551.30" x2="368.20" y2="555.30" stroke="#231f20" stroke-width="0.9"/>
<path d="M366.90,554.80 L369.50,554.80 L368.20,557.40 Z" fill="#231f20" stroke="none" stroke-width="0.8"/>
<text x="353.60" y="565.50" font-size="7.8" fill="#231f20" stroke="#231f20" stroke-width="0.12" text-anchor="middle" textLength="57.90" lengthAdjust="spacingAndGlyphs">Flow Cytometry</text>
<rect x="433.40" y="537.10" width="10.70" height="13.40" fill="#cacace"/>
<rect x="449.90" y="537.10" width="10.00" height="13.40" fill="#2ba3e1"/>
<rect x="465.70" y="538.70" width="10.70" height="11.80" fill="#fdb70e"/>
<rect x="482.20" y="515.60" width="10.00" height="34.90" fill="#e5097f"/>
<line x1="438.70" y1="532.40" x2="438.70" y2="537.10" stroke="#222" stroke-width="0.8"/>
<line x1="436.90" y1="532.40" x2="440.50" y2="532.40" stroke="#222" stroke-width="0.8"/>
<line x1="454.90" y1="530.40" x2="454.90" y2="537.10" stroke="#222" stroke-width="0.8"/>
<line x1="453.10" y1="530.40" x2="456.70" y2="530.40" stroke="#222" stroke-width="0.8"/>
<line x1="471.00" y1="533.70" x2="471.00" y2="538.70" stroke="#222" stroke-width="0.8"/>
<line x1="469.20" y1="533.70" x2="472.80" y2="533.70" stroke="#222" stroke-width="0.8"/>
<line x1="487.20" y1="511.80" x2="487.20" y2="515.60" stroke="#222" stroke-width="0.8"/>
<line x1="485.40" y1="511.80" x2="489.00" y2="511.80" stroke="#222" stroke-width="0.8"/>
<circle cx="436.10" cy="537.40" r="1.05" fill="#111"/>
<circle cx="438.70" cy="539.50" r="1.05" fill="#111"/>
<circle cx="441.40" cy="536.40" r="1.05" fill="#111"/>
<circle cx="438.70" cy="544.50" r="1.05" fill="#111"/>
<circle cx="437.40" cy="534.40" r="1.05" fill="#111"/>
<circle cx="454.90" cy="529.70" r="1.05" fill="#111"/>
<circle cx="452.20" cy="535.10" r="1.05" fill="#111"/>
<circle cx="457.60" cy="535.10" r="1.05" fill="#111"/>
<circle cx="454.90" cy="540.90" r="1.05" fill="#111"/>
<circle cx="454.90" cy="546.50" r="1.05" fill="#111"/>
<circle cx="454.90" cy="532.80" r="1.05" fill="#111"/>
<circle cx="470.40" cy="533.70" r="1.05" fill="#111"/>
<circle cx="472.80" cy="532.80" r="1.05" fill="#111"/>
<circle cx="470.10" cy="537.40" r="1.05" fill="#111"/>
<circle cx="473.70" cy="540.90" r="1.05" fill="#111"/>
<circle cx="471.70" cy="542.50" r="1.05" fill="#111"/>
<circle cx="469.30" cy="544.90" r="1.05" fill="#111"/>
<circle cx="487.20" cy="511.80" r="1.05" fill="#111"/>
<circle cx="484.50" cy="514.90" r="1.05" fill="#111"/>
<circle cx="489.20" cy="514.90" r="1.05" fill="#111"/>
<circle cx="486.50" cy="519.90" r="1.05" fill="#111"/>
<circle cx="487.20" cy="516.20" r="1.05" fill="#111"/>
<line x1="428.50" y1="501.40" x2="428.50" y2="550.95" stroke="#231f20" stroke-width="1.0"/>
<line x1="428.05" y1="550.50" x2="497.00" y2="550.50" stroke="#231f20" stroke-width="1.0"/>
<line x1="425.50" y1="504.40" x2="428.50" y2="504.40" stroke="#231f20" stroke-width="0.9"/>
<text x="422.70" y="507.28" font-size="8.0" fill="#231f20" stroke="#231f20" stroke-width="0.12" text-anchor="end">60</text>
<line x1="425.50" y1="519.70" x2="428.50" y2="519.70" stroke="#231f20" stroke-width="0.9"/>
<text x="422.70" y="522.58" font-size="8.0" fill="#231f20" stroke="#231f20" stroke-width="0.12" text-anchor="end">40</text>
<line x1="425.50" y1="535.00" x2="428.50" y2="535.00" stroke="#231f20" stroke-width="0.9"/>
<text x="422.70" y="537.88" font-size="8.0" fill="#231f20" stroke="#231f20" stroke-width="0.12" text-anchor="end">20</text>
<line x1="425.50" y1="550.30" x2="428.50" y2="550.30" stroke="#231f20" stroke-width="0.9"/>
<text x="422.70" y="553.18" font-size="8.0" fill="#231f20" stroke="#231f20" stroke-width="0.12" text-anchor="end">0</text>
<line x1="438.70" y1="550.50" x2="438.70" y2="553.10" stroke="#231f20" stroke-width="0.9"/>
<line x1="454.90" y1="550.50" x2="454.90" y2="553.10" stroke="#231f20" stroke-width="0.9"/>
<line x1="471.00" y1="550.50" x2="471.00" y2="553.10" stroke="#231f20" stroke-width="0.9"/>
<line x1="487.20" y1="550.50" x2="487.20" y2="553.10" stroke="#231f20" stroke-width="0.9"/>
<line x1="439.20" y1="497.50" x2="486.50" y2="497.50" stroke="#333333" stroke-width="0.95"/>
<circle cx="457.60" cy="493.60" r="1.15" fill="#222"/>
<circle cx="461.20" cy="493.60" r="1.15" fill="#222"/>
<circle cx="464.80" cy="493.60" r="1.15" fill="#222"/>
<line x1="455.60" y1="502.50" x2="486.50" y2="502.50" stroke="#333333" stroke-width="0.95"/>
<circle cx="467.40" cy="498.60" r="1.15" fill="#222"/>
<circle cx="471.00" cy="498.60" r="1.15" fill="#222"/>
<circle cx="474.60" cy="498.60" r="1.15" fill="#222"/>
<line x1="472.00" y1="507.50" x2="486.50" y2="507.50" stroke="#333333" stroke-width="0.95"/>
<circle cx="475.90" cy="503.60" r="1.15" fill="#222"/>
<circle cx="479.50" cy="503.60" r="1.15" fill="#222"/>
<circle cx="483.10" cy="503.60" r="1.15" fill="#222"/>
<line x1="439.20" y1="519.50" x2="470.40" y2="519.50" stroke="#333333" stroke-width="0.95"/>
<text x="454.20" y="518.30" font-size="8.2" fill="#333" stroke="#333" stroke-width="0.12" text-anchor="middle">ns</text>
<line x1="439.20" y1="525.50" x2="453.10" y2="525.50" stroke="#333333" stroke-width="0.95"/>
<text x="445.90" y="524.30" font-size="8.2" fill="#333" stroke="#333" stroke-width="0.12" text-anchor="middle">ns</text>
<line x1="455.60" y1="525.50" x2="470.40" y2="525.50" stroke="#333333" stroke-width="0.95"/>
<text x="463.00" y="524.30" font-size="8.2" fill="#333" stroke="#333" stroke-width="0.12" text-anchor="middle">ns</text>
<text x="407.90" y="525.50" font-size="7.9" fill="#231f20" stroke="#231f20" stroke-width="0.12" text-anchor="middle" textLength="62.00" lengthAdjust="spacingAndGlyphs" transform="rotate(-90 407.90 525.50)">Ki-67<tspan dy="-2.2" font-size="70%">+</tspan><tspan dy="2.2">/CD8.1</tspan><tspan dy="-2.2" font-size="70%">+</tspan><tspan dy="2.2"> (%)</tspan></text>
<text x="428.60" y="562.20" font-size="7.5" fill="#b8324f" stroke="#b8324f" stroke-width="0.12" text-anchor="end" textLength="14.80" lengthAdjust="spacingAndGlyphs">CSP</text>
<text x="428.60" y="573.00" font-size="7.5" fill="#3a6ea8" stroke="#3a6ea8" stroke-width="0.12" text-anchor="end" textLength="27.80" lengthAdjust="spacingAndGlyphs">&#945;PD-L1</text>
<text x="438.70" y="562.20" font-size="7.2" fill="#333" stroke="#333" stroke-width="0.12" text-anchor="middle">(&#8211;)</text>
<text x="438.70" y="573.00" font-size="7.2" fill="#333" stroke="#333" stroke-width="0.12" text-anchor="middle">(&#8211;)</text>
<text x="454.60" y="562.20" font-size="7.2" fill="#333" stroke="#333" stroke-width="0.12" text-anchor="middle">(&#8211;)</text>
<text x="454.60" y="573.00" font-size="7.2" fill="#333" stroke="#333" stroke-width="0.12" text-anchor="middle">(+)</text>
<text x="470.60" y="562.20" font-size="7.2" fill="#333" stroke="#333" stroke-width="0.12" text-anchor="middle">(+)</text>
<text x="470.60" y="573.00" font-size="7.2" fill="#333" stroke="#333" stroke-width="0.12" text-anchor="middle">(&#8211;)</text>
<text x="486.40" y="562.20" font-size="7.2" fill="#333" stroke="#333" stroke-width="0.12" text-anchor="middle">(+)</text>
<text x="486.40" y="573.00" font-size="7.2" fill="#333" stroke="#333" stroke-width="0.12" text-anchor="middle">(+)</text>
<text x="393.00" y="480.20" font-size="11.2" fill="#000" stroke="#000" stroke-width="0.1" font-weight="bold">N</text>
<rect x="106.00" y="656.60" width="12.20" height="15.90" fill="#cacace"/>
<rect x="124.40" y="656.30" width="12.20" height="16.20" fill="#2ba3e1"/>
<rect x="143.10" y="651.70" width="12.00" height="20.80" fill="#fdb70e"/>
<rect x="161.50" y="634.60" width="11.50" height="37.90" fill="#e5097f"/>
<line x1="111.80" y1="655.00" x2="111.80" y2="656.60" stroke="#cacace" stroke-width="0.8"/>
<line x1="110.00" y1="655.00" x2="113.60" y2="655.00" stroke="#cacace" stroke-width="0.8"/>
<line x1="130.60" y1="653.50" x2="130.60" y2="656.30" stroke="#2ba3e1" stroke-width="0.8"/>
<line x1="128.80" y1="653.50" x2="132.40" y2="653.50" stroke="#2ba3e1" stroke-width="0.8"/>
<line x1="148.90" y1="648.50" x2="148.90" y2="651.70" stroke="#fdb70e" stroke-width="0.8"/>
<line x1="147.10" y1="648.50" x2="150.70" y2="648.50" stroke="#fdb70e" stroke-width="0.8"/>
<line x1="167.20" y1="626.70" x2="167.20" y2="634.60" stroke="#e5097f" stroke-width="0.8"/>
<line x1="165.40" y1="626.70" x2="169.00" y2="626.70" stroke="#e5097f" stroke-width="0.8"/>
<circle cx="107.10" cy="655.60" r="1.05" fill="#111"/>
<circle cx="109.20" cy="657.40" r="1.05" fill="#111"/>
<circle cx="111.80" cy="656.00" r="1.05" fill="#111"/>
<circle cx="114.30" cy="657.40" r="1.05" fill="#111"/>
<circle cx="116.40" cy="656.60" r="1.05" fill="#111"/>
<circle cx="109.50" cy="659.20" r="1.05" fill="#111"/>
<circle cx="126.50" cy="656.30" r="1.05" fill="#111"/>
<circle cx="128.70" cy="655.10" r="1.05" fill="#111"/>
<circle cx="130.90" cy="657.40" r="1.05" fill="#111"/>
<circle cx="133.50" cy="653.70" r="1.05" fill="#111"/>
<circle cx="135.50" cy="657.70" r="1.05" fill="#111"/>
<circle cx="132.60" cy="656.00" r="1.05" fill="#111"/>
<circle cx="143.80" cy="650.80" r="1.05" fill="#111"/>
<circle cx="148.50" cy="649.80" r="1.05" fill="#111"/>
<circle cx="153.70" cy="648.80" r="1.05" fill="#111"/>
<circle cx="148.90" cy="652.20" r="1.05" fill="#111"/>
<circle cx="153.70" cy="651.90" r="1.05" fill="#111"/>
<circle cx="148.90" cy="656.30" r="1.05" fill="#111"/>
<circle cx="167.20" cy="626.30" r="1.05" fill="#111"/>
<circle cx="167.20" cy="628.90" r="1.05" fill="#111"/>
<circle cx="167.20" cy="631.50" r="1.05" fill="#111"/>
<circle cx="165.50" cy="636.80" r="1.05" fill="#111"/>
<circle cx="169.10" cy="637.80" r="1.05" fill="#111"/>
<circle cx="167.20" cy="644.40" r="1.05" fill="#111"/>
<line x1="100.50" y1="615.50" x2="100.50" y2="672.95" stroke="#231f20" stroke-width="1.0"/>
<line x1="100.05" y1="672.50" x2="179.00" y2="672.50" stroke="#231f20" stroke-width="1.0"/>
<line x1="97.50" y1="618.70" x2="100.50" y2="618.70" stroke="#231f20" stroke-width="0.9"/>
<text x="93.80" y="621.58" font-size="8.0" fill="#231f20" stroke="#231f20" stroke-width="0.12" text-anchor="end">60</text>
<line x1="97.50" y1="636.47" x2="100.50" y2="636.47" stroke="#231f20" stroke-width="0.9"/>
<text x="93.80" y="639.35" font-size="8.0" fill="#231f20" stroke="#231f20" stroke-width="0.12" text-anchor="end">40</text>
<line x1="97.50" y1="654.23" x2="100.50" y2="654.23" stroke="#231f20" stroke-width="0.9"/>
<text x="93.80" y="657.11" font-size="8.0" fill="#231f20" stroke="#231f20" stroke-width="0.12" text-anchor="end">20</text>
<line x1="97.50" y1="672.00" x2="100.50" y2="672.00" stroke="#231f20" stroke-width="0.9"/>
<text x="93.80" y="674.88" font-size="8.0" fill="#231f20" stroke="#231f20" stroke-width="0.12" text-anchor="end">0</text>
<line x1="111.80" y1="672.50" x2="111.80" y2="675.10" stroke="#231f20" stroke-width="0.9"/>
<line x1="130.60" y1="672.50" x2="130.60" y2="675.10" stroke="#231f20" stroke-width="0.9"/>
<line x1="148.90" y1="672.50" x2="148.90" y2="675.10" stroke="#231f20" stroke-width="0.9"/>
<line x1="167.20" y1="672.50" x2="167.20" y2="675.10" stroke="#231f20" stroke-width="0.9"/>
<line x1="112.10" y1="611.50" x2="165.50" y2="611.50" stroke="#333333" stroke-width="0.95"/>
<circle cx="135.20" cy="607.60" r="1.15" fill="#222"/>
<circle cx="138.80" cy="607.60" r="1.15" fill="#222"/>
<circle cx="142.40" cy="607.60" r="1.15" fill="#222"/>
<line x1="130.90" y1="618.50" x2="165.50" y2="618.50" stroke="#333333" stroke-width="0.95"/>
<circle cx="144.60" cy="614.60" r="1.15" fill="#222"/>
<circle cx="148.20" cy="614.60" r="1.15" fill="#222"/>
<circle cx="151.80" cy="614.60" r="1.15" fill="#222"/>
<line x1="149.30" y1="622.50" x2="165.50" y2="622.50" stroke="#333333" stroke-width="0.95"/>
<circle cx="154.00" cy="618.60" r="1.15" fill="#222"/>
<circle cx="157.60" cy="618.60" r="1.15" fill="#222"/>
<circle cx="161.20" cy="618.60" r="1.15" fill="#222"/>
<line x1="112.10" y1="640.50" x2="148.20" y2="640.50" stroke="#333333" stroke-width="0.95"/>
<circle cx="127.90" cy="636.60" r="1.15" fill="#222"/>
<circle cx="131.50" cy="636.60" r="1.15" fill="#222"/>
<line x1="112.10" y1="645.50" x2="129.10" y2="645.50" stroke="#333333" stroke-width="0.95"/>
<text x="120.00" y="644.30" font-size="8.2" fill="#333" stroke="#333" stroke-width="0.12" text-anchor="middle">ns</text>
<line x1="131.60" y1="645.50" x2="148.20" y2="645.50" stroke="#333333" stroke-width="0.95"/>
<circle cx="138.00" cy="641.60" r="1.15" fill="#222"/>
<circle cx="141.60" cy="641.60" r="1.15" fill="#222"/>
<text x="80.80" y="643.00" font-size="8.4" fill="#231f20" stroke="#231f20" stroke-width="0.12" text-anchor="middle" textLength="64.00" lengthAdjust="spacingAndGlyphs" transform="rotate(-90 80.80 643.00)">GZMB<tspan dy="-2.2" font-size="70%">+</tspan><tspan dy="2.2">/CD8.1</tspan><tspan dy="-2.2" font-size="70%">+</tspan><tspan dy="2.2"> (%)</tspan></text>
<text x="100.30" y="685.80" font-size="7.5" fill="#231f20" stroke="#231f20" stroke-width="0.12" text-anchor="end" textLength="15.50" lengthAdjust="spacingAndGlyphs">CSP</text>
<text x="99.80" y="694.90" font-size="7.5" fill="#3a6ea8" stroke="#3a6ea8" stroke-width="0.12" text-anchor="end" textLength="26.60" lengthAdjust="spacingAndGlyphs">&#945;PD-L1</text>
<text x="112.00" y="685.80" font-size="7.2" fill="#333" stroke="#333" stroke-width="0.12" text-anchor="middle">(&#8211;)</text>
<text x="112.00" y="694.90" font-size="7.2" fill="#333" stroke="#333" stroke-width="0.12" text-anchor="middle">(&#8211;)</text>
<text x="130.00" y="685.80" font-size="7.2" fill="#333" stroke="#333" stroke-width="0.12" text-anchor="middle">(&#8211;)</text>
<text x="130.00" y="694.90" font-size="7.2" fill="#333" stroke="#333" stroke-width="0.12" text-anchor="middle">(+)</text>
<text x="148.80" y="685.80" font-size="7.2" fill="#333" stroke="#333" stroke-width="0.12" text-anchor="middle">(+)</text>
<text x="148.80" y="694.90" font-size="7.2" fill="#333" stroke="#333" stroke-width="0.12" text-anchor="middle">(&#8211;)</text>
<text x="167.00" y="685.80" font-size="7.2" fill="#333" stroke="#333" stroke-width="0.12" text-anchor="middle">(+)</text>
<text x="167.00" y="694.90" font-size="7.2" fill="#333" stroke="#333" stroke-width="0.12" text-anchor="middle">(+)</text>
<text x="68.80" y="598.50" font-size="11.2" fill="#000" stroke="#000" stroke-width="0.1" font-weight="bold">O</text>
<rect x="247.10" y="662.80" width="12.00" height="9.70" fill="#cacace"/>
<rect x="264.90" y="665.40" width="11.40" height="7.10" fill="#2ba3e1"/>
<rect x="282.20" y="644.60" width="12.00" height="27.90" fill="#fdb70e"/>
<rect x="300.30" y="639.20" width="11.40" height="33.30" fill="#e5097f"/>
<line x1="252.90" y1="656.50" x2="252.90" y2="662.80" stroke="#222" stroke-width="0.8"/>
<line x1="251.10" y1="656.50" x2="254.70" y2="656.50" stroke="#222" stroke-width="0.8"/>
<line x1="270.60" y1="659.60" x2="270.60" y2="665.40" stroke="#222" stroke-width="0.8"/>
<line x1="268.80" y1="659.60" x2="272.40" y2="659.60" stroke="#222" stroke-width="0.8"/>
<line x1="288.30" y1="631.50" x2="288.30" y2="644.60" stroke="#222" stroke-width="0.8"/>
<line x1="286.50" y1="631.50" x2="290.10" y2="631.50" stroke="#222" stroke-width="0.8"/>
<line x1="306.00" y1="632.60" x2="306.00" y2="639.20" stroke="#222" stroke-width="0.8"/>
<line x1="304.20" y1="632.60" x2="307.80" y2="632.60" stroke="#222" stroke-width="0.8"/>
<circle cx="248.00" cy="661.20" r="1.05" fill="#111"/>
<circle cx="252.90" cy="658.20" r="1.05" fill="#111"/>
<circle cx="252.90" cy="662.30" r="1.05" fill="#111"/>
<circle cx="257.50" cy="661.80" r="1.05" fill="#111"/>
<circle cx="252.90" cy="666.50" r="1.05" fill="#111"/>
<circle cx="270.20" cy="660.80" r="1.05" fill="#111"/>
<circle cx="271.70" cy="663.10" r="1.05" fill="#111"/>
<circle cx="268.60" cy="664.30" r="1.05" fill="#111"/>
<circle cx="270.60" cy="668.50" r="1.05" fill="#111"/>
<circle cx="266.80" cy="670.00" r="1.05" fill="#111"/>
<circle cx="288.00" cy="626.90" r="1.05" fill="#111"/>
<circle cx="288.00" cy="646.90" r="1.05" fill="#111"/>
<circle cx="288.00" cy="654.60" r="1.05" fill="#111"/>
<circle cx="288.00" cy="658.20" r="1.05" fill="#111"/>
<circle cx="306.00" cy="629.20" r="1.05" fill="#111"/>
<circle cx="306.00" cy="636.20" r="1.05" fill="#111"/>
<circle cx="303.70" cy="641.20" r="1.05" fill="#111"/>
<circle cx="307.10" cy="643.10" r="1.05" fill="#111"/>
<circle cx="305.50" cy="646.20" r="1.05" fill="#111"/>
<line x1="241.50" y1="618.50" x2="241.50" y2="672.95" stroke="#231f20" stroke-width="1.0"/>
<line x1="241.05" y1="672.50" x2="316.00" y2="672.50" stroke="#231f20" stroke-width="1.0"/>
<line x1="238.50" y1="620.90" x2="241.50" y2="620.90" stroke="#231f20" stroke-width="0.9"/>
<text x="235.10" y="623.78" font-size="8.0" fill="#231f20" stroke="#231f20" stroke-width="0.12" text-anchor="end">20</text>
<line x1="238.50" y1="633.62" x2="241.50" y2="633.62" stroke="#231f20" stroke-width="0.9"/>
<text x="235.10" y="636.50" font-size="8.0" fill="#231f20" stroke="#231f20" stroke-width="0.12" text-anchor="end">15</text>
<line x1="238.50" y1="646.35" x2="241.50" y2="646.35" stroke="#231f20" stroke-width="0.9"/>
<text x="235.10" y="649.23" font-size="8.0" fill="#231f20" stroke="#231f20" stroke-width="0.12" text-anchor="end">10</text>
<line x1="238.50" y1="659.07" x2="241.50" y2="659.07" stroke="#231f20" stroke-width="0.9"/>
<text x="235.10" y="661.95" font-size="8.0" fill="#231f20" stroke="#231f20" stroke-width="0.12" text-anchor="end">5</text>
<line x1="238.50" y1="671.80" x2="241.50" y2="671.80" stroke="#231f20" stroke-width="0.9"/>
<text x="235.10" y="674.68" font-size="8.0" fill="#231f20" stroke="#231f20" stroke-width="0.12" text-anchor="end">0</text>
<line x1="252.90" y1="672.50" x2="252.90" y2="675.10" stroke="#231f20" stroke-width="0.9"/>
<line x1="270.60" y1="672.50" x2="270.60" y2="675.10" stroke="#231f20" stroke-width="0.9"/>
<line x1="288.30" y1="672.50" x2="288.30" y2="675.10" stroke="#231f20" stroke-width="0.9"/>
<line x1="306.00" y1="672.50" x2="306.00" y2="675.10" stroke="#231f20" stroke-width="0.9"/>
<line x1="250.60" y1="607.50" x2="306.00" y2="607.50" stroke="#333333" stroke-width="0.95"/>
<circle cx="276.00" cy="603.60" r="1.15" fill="#222"/>
<circle cx="279.60" cy="603.60" r="1.15" fill="#222"/>
<line x1="271.40" y1="613.50" x2="306.00" y2="613.50" stroke="#333333" stroke-width="0.95"/>
<circle cx="286.50" cy="609.60" r="1.15" fill="#222"/>
<circle cx="290.10" cy="609.60" r="1.15" fill="#222"/>
<line x1="250.60" y1="619.50" x2="286.50" y2="619.50" stroke="#333333" stroke-width="0.95"/>
<circle cx="268.00" cy="615.60" r="1.15" fill="#222"/>
<line x1="250.60" y1="624.50" x2="268.30" y2="624.50" stroke="#333333" stroke-width="0.95"/>
<text x="259.10" y="623.30" font-size="8.2" fill="#333" stroke="#333" stroke-width="0.12" text-anchor="middle">ns</text>
<line x1="271.40" y1="624.50" x2="286.50" y2="624.50" stroke="#333333" stroke-width="0.95"/>
<circle cx="277.30" cy="620.60" r="1.15" fill="#222"/>
<circle cx="280.90" cy="620.60" r="1.15" fill="#222"/>
<line x1="289.80" y1="624.50" x2="306.00" y2="624.50" stroke="#333333" stroke-width="0.95"/>
<text x="297.50" y="623.30" font-size="8.2" fill="#333" stroke="#333" stroke-width="0.12" text-anchor="middle">ns</text>
<text x="209.20" y="646.30" font-size="7.6" fill="#231f20" stroke="#231f20" stroke-width="0.12" text-anchor="middle" textLength="60.00" lengthAdjust="spacingAndGlyphs" transform="rotate(-90 209.20 646.30)">No. of PD-1<tspan dy="-2.2" font-size="70%">+</tspan><tspan dy="2.2">TIGIT</tspan><tspan dy="-2.2" font-size="70%">+</tspan></text>
<text x="220.00" y="646.70" font-size="7.6" fill="#231f20" stroke="#231f20" stroke-width="0.12" text-anchor="middle" textLength="60.60" lengthAdjust="spacingAndGlyphs" transform="rotate(-90 220.00 646.70)">CD8.1<tspan dy="-2.2" font-size="70%">+</tspan><tspan dy="2.2">cells (x10</tspan><tspan dy="-2.2" font-size="70%">3</tspan><tspan dy="2.2">)</tspan></text>
<text x="240.60" y="685.60" font-size="7.5" fill="#231f20" stroke="#231f20" stroke-width="0.12" text-anchor="end" textLength="14.80" lengthAdjust="spacingAndGlyphs">CSP</text>
<text x="240.60" y="695.20" font-size="7.5" fill="#3a6ea8" stroke="#3a6ea8" stroke-width="0.12" text-anchor="end" textLength="27.00" lengthAdjust="spacingAndGlyphs">&#945;PD-L1</text>
<text x="253.00" y="685.60" font-size="7.2" fill="#333" stroke="#333" stroke-width="0.12" text-anchor="middle">(&#8211;)</text>
<text x="253.00" y="695.20" font-size="7.2" fill="#333" stroke="#333" stroke-width="0.12" text-anchor="middle">(&#8211;)</text>
<text x="270.20" y="685.60" font-size="7.2" fill="#333" stroke="#333" stroke-width="0.12" text-anchor="middle">(&#8211;)</text>
<text x="270.20" y="695.20" font-size="7.2" fill="#333" stroke="#333" stroke-width="0.12" text-anchor="middle">(+)</text>
<text x="287.40" y="685.60" font-size="7.2" fill="#333" stroke="#333" stroke-width="0.12" text-anchor="middle">(+)</text>
<text x="287.40" y="695.20" font-size="7.2" fill="#333" stroke="#333" stroke-width="0.12" text-anchor="middle">(&#8211;)</text>
<text x="305.00" y="685.60" font-size="7.2" fill="#333" stroke="#333" stroke-width="0.12" text-anchor="middle">(+)</text>
<text x="305.00" y="695.20" font-size="7.2" fill="#333" stroke="#333" stroke-width="0.12" text-anchor="middle">(+)</text>
<text x="198.10" y="598.50" font-size="11.2" fill="#000" stroke="#000" stroke-width="0.1" font-weight="bold">P</text>
<rect x="378.90" y="652.00" width="11.90" height="19.50" fill="#cacace"/>
<rect x="397.40" y="650.50" width="11.50" height="21.00" fill="#2ba3e1"/>
<rect x="415.10" y="657.80" width="12.00" height="13.70" fill="#fdb70e"/>
<rect x="433.20" y="636.00" width="11.40" height="35.50" fill="#e5097f"/>
<line x1="385.10" y1="645.80" x2="385.10" y2="652.00" stroke="#222" stroke-width="0.8"/>
<line x1="383.30" y1="645.80" x2="386.90" y2="645.80" stroke="#222" stroke-width="0.8"/>
<line x1="403.10" y1="644.30" x2="403.10" y2="650.50" stroke="#222" stroke-width="0.8"/>
<line x1="401.30" y1="644.30" x2="404.90" y2="644.30" stroke="#222" stroke-width="0.8"/>
<line x1="420.90" y1="653.00" x2="420.90" y2="657.80" stroke="#222" stroke-width="0.8"/>
<line x1="419.10" y1="653.00" x2="422.70" y2="653.00" stroke="#222" stroke-width="0.8"/>
<line x1="438.90" y1="630.50" x2="438.90" y2="636.00" stroke="#222" stroke-width="0.8"/>
<line x1="437.10" y1="630.50" x2="440.70" y2="630.50" stroke="#222" stroke-width="0.8"/>
<circle cx="385.10" cy="645.50" r="1.05" fill="#111"/>
<circle cx="385.10" cy="649.40" r="1.05" fill="#111"/>
<circle cx="385.10" cy="653.20" r="1.05" fill="#111"/>
<circle cx="385.10" cy="657.10" r="1.05" fill="#111"/>
<circle cx="385.10" cy="660.60" r="1.05" fill="#111"/>
<circle cx="400.90" cy="644.30" r="1.05" fill="#111"/>
<circle cx="405.10" cy="644.30" r="1.05" fill="#111"/>
<circle cx="405.10" cy="651.40" r="1.05" fill="#111"/>
<circle cx="402.80" cy="661.70" r="1.05" fill="#111"/>
<circle cx="423.10" cy="652.90" r="1.05" fill="#111"/>
<circle cx="420.50" cy="654.00" r="1.05" fill="#111"/>
<circle cx="418.50" cy="657.80" r="1.05" fill="#111"/>
<circle cx="423.10" cy="660.60" r="1.05" fill="#111"/>
<circle cx="418.50" cy="660.60" r="1.05" fill="#111"/>
<circle cx="438.90" cy="630.20" r="1.05" fill="#111"/>
<circle cx="438.90" cy="631.70" r="1.05" fill="#111"/>
<circle cx="436.60" cy="638.60" r="1.05" fill="#111"/>
<circle cx="440.90" cy="638.60" r="1.05" fill="#111"/>
<circle cx="438.90" cy="636.60" r="1.05" fill="#111"/>
<line x1="372.50" y1="617.10" x2="372.50" y2="671.95" stroke="#231f20" stroke-width="1.0"/>
<line x1="372.05" y1="671.50" x2="449.00" y2="671.50" stroke="#231f20" stroke-width="1.0"/>
<line x1="369.50" y1="620.10" x2="372.50" y2="620.10" stroke="#231f20" stroke-width="0.9"/>
<text x="366.20" y="622.98" font-size="8.0" fill="#231f20" stroke="#231f20" stroke-width="0.12" text-anchor="end">80</text>
<line x1="369.50" y1="632.98" x2="372.50" y2="632.98" stroke="#231f20" stroke-width="0.9"/>
<text x="366.20" y="635.86" font-size="8.0" fill="#231f20" stroke="#231f20" stroke-width="0.12" text-anchor="end">60</text>
<line x1="369.50" y1="645.85" x2="372.50" y2="645.85" stroke="#231f20" stroke-width="0.9"/>
<text x="366.20" y="648.73" font-size="8.0" fill="#231f20" stroke="#231f20" stroke-width="0.12" text-anchor="end">40</text>
<line x1="369.50" y1="658.73" x2="372.50" y2="658.73" stroke="#231f20" stroke-width="0.9"/>
<text x="366.20" y="661.61" font-size="8.0" fill="#231f20" stroke="#231f20" stroke-width="0.12" text-anchor="end">20</text>
<line x1="369.50" y1="671.60" x2="372.50" y2="671.60" stroke="#231f20" stroke-width="0.9"/>
<text x="366.20" y="674.48" font-size="8.0" fill="#231f20" stroke="#231f20" stroke-width="0.12" text-anchor="end">0</text>
<line x1="385.10" y1="671.50" x2="385.10" y2="674.10" stroke="#231f20" stroke-width="0.9"/>
<line x1="403.10" y1="671.50" x2="403.10" y2="674.10" stroke="#231f20" stroke-width="0.9"/>
<line x1="420.90" y1="671.50" x2="420.90" y2="674.10" stroke="#231f20" stroke-width="0.9"/>
<line x1="438.90" y1="671.50" x2="438.90" y2="674.10" stroke="#231f20" stroke-width="0.9"/>
<line x1="384.30" y1="616.50" x2="439.70" y2="616.50" stroke="#333333" stroke-width="0.95"/>
<circle cx="410.20" cy="612.60" r="1.15" fill="#222"/>
<circle cx="413.80" cy="612.60" r="1.15" fill="#222"/>
<line x1="405.10" y1="621.50" x2="439.70" y2="621.50" stroke="#333333" stroke-width="0.95"/>
<circle cx="421.00" cy="617.60" r="1.15" fill="#222"/>
<circle cx="424.60" cy="617.60" r="1.15" fill="#222"/>
<line x1="384.30" y1="627.50" x2="420.90" y2="627.50" stroke="#333333" stroke-width="0.95"/>
<circle cx="402.50" cy="623.60" r="1.15" fill="#222"/>
<line x1="423.50" y1="627.50" x2="439.70" y2="627.50" stroke="#333333" stroke-width="0.95"/>
<circle cx="430.50" cy="623.60" r="1.15" fill="#222"/>
<circle cx="434.10" cy="623.60" r="1.15" fill="#222"/>
<line x1="384.30" y1="632.50" x2="402.00" y2="632.50" stroke="#333333" stroke-width="0.95"/>
<text x="393.20" y="631.30" font-size="8.2" fill="#333" stroke="#333" stroke-width="0.12" text-anchor="middle">ns</text>
<line x1="405.50" y1="632.50" x2="420.90" y2="632.50" stroke="#333333" stroke-width="0.95"/>
<circle cx="413.20" cy="628.60" r="1.15" fill="#222"/>
<text x="339.90" y="645.00" font-size="7.6" fill="#231f20" stroke="#231f20" stroke-width="0.12" text-anchor="middle" textLength="61.30" lengthAdjust="spacingAndGlyphs" transform="rotate(-90 339.90 645.00)">No. of PD-1<tspan dy="-2.2" font-size="70%">+</tspan><tspan dy="2.2">TIGIT</tspan><tspan dy="-2.2" font-size="70%">+</tspan></text>
<text x="351.30" y="645.60" font-size="7.6" fill="#231f20" stroke="#231f20" stroke-width="0.12" text-anchor="middle" textLength="61.30" lengthAdjust="spacingAndGlyphs" transform="rotate(-90 351.30 645.60)">CD8.1<tspan dy="-2.2" font-size="70%">+</tspan><tspan dy="2.2">cells (x10</tspan><tspan dy="-2.2" font-size="70%">3</tspan><tspan dy="2.2">)</tspan></text>
<text x="371.70" y="686.40" font-size="7.5" fill="#231f20" stroke="#231f20" stroke-width="0.12" text-anchor="end" textLength="13.40" lengthAdjust="spacingAndGlyphs">CSP</text>
<text x="371.70" y="695.40" font-size="7.5" fill="#3a6ea8" stroke="#3a6ea8" stroke-width="0.12" text-anchor="end" textLength="25.50" lengthAdjust="spacingAndGlyphs">&#945;PD-L1</text>
<text x="385.00" y="686.40" font-size="7.2" fill="#333" stroke="#333" stroke-width="0.12" text-anchor="middle">(&#8211;)</text>
<text x="385.00" y="695.40" font-size="7.2" fill="#333" stroke="#333" stroke-width="0.12" text-anchor="middle">(&#8211;)</text>
<text x="402.50" y="686.40" font-size="7.2" fill="#333" stroke="#333" stroke-width="0.12" text-anchor="middle">(&#8211;)</text>
<text x="402.50" y="695.40" font-size="7.2" fill="#333" stroke="#333" stroke-width="0.12" text-anchor="middle">(+)</text>
<text x="420.50" y="686.40" font-size="7.2" fill="#333" stroke="#333" stroke-width="0.12" text-anchor="middle">(+)</text>
<text x="420.50" y="695.40" font-size="7.2" fill="#333" stroke="#333" stroke-width="0.12" text-anchor="middle">(&#8211;)</text>
<text x="438.70" y="686.40" font-size="7.2" fill="#333" stroke="#333" stroke-width="0.12" text-anchor="middle">(+)</text>
<text x="438.70" y="695.40" font-size="7.2" fill="#333" stroke="#333" stroke-width="0.12" text-anchor="middle">(+)</text>
<text x="330.30" y="598.50" font-size="11.2" fill="#000" stroke="#000" stroke-width="0.1" font-weight="bold">Q</text>
<rect x="0" y="0" width="520" height="1.3" fill="#474747"/>
<rect x="0" y="0" width="1.3" height="706" fill="#585858"/>
<rect x="518.7" y="0" width="1.3" height="706" fill="#2a2a2a"/>
<rect x="0" y="704.6" width="520" height="1.4" fill="#3a3a3a"/>
</svg>
</body></html>
